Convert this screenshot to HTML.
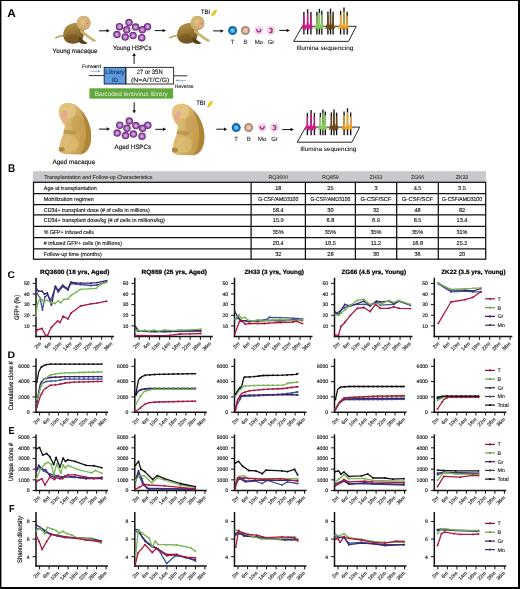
<!DOCTYPE html>
<html><head><meta charset="utf-8"><title>Figure</title><style>html,body{margin:0;padding:0;background:#fff;}svg{display:block;text-rendering:geometricPrecision;}</style></head><body>
<svg width="520" height="589" viewBox="0 0 520 589" font-family="'Liberation Sans', Arial, sans-serif">
<defs>
<linearGradient id="gBodyY" x1="0" y1="0" x2="0.3" y2="1">
<stop offset="0" stop-color="#bb9c56"/><stop offset="0.5" stop-color="#987834"/><stop offset="1" stop-color="#765a24"/></linearGradient>
<radialGradient id="gHeadY" cx="0.45" cy="0.4" r="0.65">
<stop offset="0" stop-color="#e0c488"/><stop offset="1" stop-color="#c6a05a"/></radialGradient>
<linearGradient id="gBodyA" x1="0" y1="0" x2="1" y2="0.3">
<stop offset="0" stop-color="#e4c887"/><stop offset="0.5" stop-color="#d6b168"/><stop offset="1" stop-color="#bf9746"/></linearGradient>
<radialGradient id="gT" cx="0.5" cy="0.5" r="0.5"><stop offset="0" stop-color="#7fdcfa"/><stop offset="0.6" stop-color="#45b8ec"/><stop offset="1" stop-color="#2a90d0"/></radialGradient>
<radialGradient id="gB" cx="0.5" cy="0.5" r="0.5"><stop offset="0" stop-color="#f6cfb0"/><stop offset="0.7" stop-color="#eebc98"/><stop offset="1" stop-color="#d8a888"/></radialGradient>
</defs>
<rect x="0" y="0" width="520" height="589" fill="#fff"/>
<text x="7.20" y="16.90" font-size="11.2" font-weight="bold" fill="#000" textLength="8.60" lengthAdjust="spacingAndGlyphs">A</text>
<g transform="translate(0.00 0.00)">
<path d="M64.5,35.4 C61,35.6 58,36.6 55.9,37.8" fill="none" stroke="#c2a66a" stroke-width="1.8" stroke-linecap="round"/>
<path d="M63.4,37 C62.5,30 66,24.5 73,23.2 C77,22.5 80.5,23.5 82.5,26 C84.5,29 84.5,34 83,38 C81.5,41.5 78,43.6 73,43.7 C68,43.7 64.4,41 63.4,37 Z" fill="url(#gBodyY)"/>
<ellipse cx="71.5" cy="38.5" rx="7" ry="4.3" fill="#6e5020" opacity="0.45"/>
<path d="M79.3,36.5 C82,39 84.5,41.5 87.5,43 C86.5,44.3 82.5,44.2 80,43 C78.3,41.6 78.2,38.8 79.3,36.5 Z" fill="#5a4018"/>
<path d="M81.5,31.2 C85,34.2 89,37.6 94.4,40.6" fill="none" stroke="#cab474" stroke-width="2.8" stroke-linecap="round"/>
<ellipse cx="83.6" cy="23.1" rx="7.1" ry="7.4" fill="url(#gHeadY)"/>
<ellipse cx="87.0" cy="25.4" rx="2.6" ry="3.5" fill="#dea88e" opacity="0.85"/>
<circle cx="87.6" cy="23.8" r="0.45" fill="#6a4426"/>
</g>
<g transform="translate(113.90 0.00)">
<path d="M64.5,35.4 C61,35.6 58,36.6 55.9,37.8" fill="none" stroke="#c2a66a" stroke-width="1.8" stroke-linecap="round"/>
<path d="M63.4,37 C62.5,30 66,24.5 73,23.2 C77,22.5 80.5,23.5 82.5,26 C84.5,29 84.5,34 83,38 C81.5,41.5 78,43.6 73,43.7 C68,43.7 64.4,41 63.4,37 Z" fill="url(#gBodyY)"/>
<ellipse cx="71.5" cy="38.5" rx="7" ry="4.3" fill="#6e5020" opacity="0.45"/>
<path d="M79.3,36.5 C82,39 84.5,41.5 87.5,43 C86.5,44.3 82.5,44.2 80,43 C78.3,41.6 78.2,38.8 79.3,36.5 Z" fill="#5a4018"/>
<path d="M81.5,31.2 C85,34.2 89,37.6 94.4,40.6" fill="none" stroke="#cab474" stroke-width="2.8" stroke-linecap="round"/>
<ellipse cx="83.6" cy="23.1" rx="7.1" ry="7.4" fill="url(#gHeadY)"/>
<ellipse cx="87.0" cy="25.4" rx="2.6" ry="3.5" fill="#dea88e" opacity="0.85"/>
<circle cx="87.6" cy="23.8" r="0.45" fill="#6a4426"/>
</g>
<g transform="translate(0.00 0.00)">
<path d="M66.4,103.1 C72,102.6 77,105 79.5,108.8 C84.5,113 88.5,120 90.3,128 C91.8,135 91.5,143 88.5,148.5 C86.5,152 84,154 80,154.4 L66,154.2 C62.5,154 59.8,152.5 59,150.5 C58.5,148.5 59,146.5 60,145 C60,141 61.5,137 63.5,134 C63.5,131 64.5,128 65,125.5 C63,123.5 61.5,121.5 60.6,119 C59,116 58.5,113 58.8,110 C59.4,106 62.3,103.5 66.4,103.1 Z" fill="url(#gBodyA)"/>
<path d="M79.5,108.8 C84.5,113 88.5,120 90.3,128 C91.8,135 91.5,143 88.5,148.5 C86.5,152 84,154 80,154.4 C84.5,149 86.5,141 86,133 C85.5,124 83,115 79.5,108.8 Z" fill="#a98237" opacity="0.8"/>
<ellipse cx="77.5" cy="124" rx="6" ry="9" fill="#c29c50" opacity="0.55"/>
<ellipse cx="71" cy="144" rx="8" ry="8" fill="#e2c47e" opacity="0.5"/>
<path d="M63.5,130.5 C67,129 72,129.5 76,132 C76.5,134 75,135 72.5,134.6 C69,134 66,133.5 63.5,134 Z" fill="#a8843a" opacity="0.55"/>
<ellipse cx="61.6" cy="149.3" rx="2.9" ry="2.4" fill="#a27a36" opacity="0.8"/>
<ellipse cx="67.8" cy="110.6" rx="8.4" ry="7.6" fill="#e3c682" opacity="0.85"/>
<ellipse cx="64.2" cy="115.4" rx="3.1" ry="5.2" transform="rotate(12 64.2 115.4)" fill="#e7a795" opacity="0.9"/>
</g>
<g transform="translate(113.20 0.80)">
<path d="M66.4,103.1 C72,102.6 77,105 79.5,108.8 C84.5,113 88.5,120 90.3,128 C91.8,135 91.5,143 88.5,148.5 C86.5,152 84,154 80,154.4 L66,154.2 C62.5,154 59.8,152.5 59,150.5 C58.5,148.5 59,146.5 60,145 C60,141 61.5,137 63.5,134 C63.5,131 64.5,128 65,125.5 C63,123.5 61.5,121.5 60.6,119 C59,116 58.5,113 58.8,110 C59.4,106 62.3,103.5 66.4,103.1 Z" fill="url(#gBodyA)"/>
<path d="M79.5,108.8 C84.5,113 88.5,120 90.3,128 C91.8,135 91.5,143 88.5,148.5 C86.5,152 84,154 80,154.4 C84.5,149 86.5,141 86,133 C85.5,124 83,115 79.5,108.8 Z" fill="#a98237" opacity="0.8"/>
<ellipse cx="77.5" cy="124" rx="6" ry="9" fill="#c29c50" opacity="0.55"/>
<ellipse cx="71" cy="144" rx="8" ry="8" fill="#e2c47e" opacity="0.5"/>
<path d="M63.5,130.5 C67,129 72,129.5 76,132 C76.5,134 75,135 72.5,134.6 C69,134 66,133.5 63.5,134 Z" fill="#a8843a" opacity="0.55"/>
<ellipse cx="61.6" cy="149.3" rx="2.9" ry="2.4" fill="#a27a36" opacity="0.8"/>
<ellipse cx="67.8" cy="110.6" rx="8.4" ry="7.6" fill="#e3c682" opacity="0.85"/>
<ellipse cx="64.2" cy="115.4" rx="3.1" ry="5.2" transform="rotate(12 64.2 115.4)" fill="#e7a795" opacity="0.9"/>
</g>
<text x="52.60" y="53.30" font-size="6.3" fill="#1a1a1a" textLength="45.00" lengthAdjust="spacingAndGlyphs" stroke="#1a1a1a" stroke-width="0.18">Young macaque</text>
<text x="113.10" y="49.90" font-size="6.3" fill="#1a1a1a" textLength="38.40" lengthAdjust="spacingAndGlyphs" stroke="#1a1a1a" stroke-width="0.18">Young HSPCs</text>
<text x="114.60" y="148.60" font-size="6.3" fill="#1a1a1a" textLength="36.40" lengthAdjust="spacingAndGlyphs" stroke="#1a1a1a" stroke-width="0.18">Aged HSPCs</text>
<text x="52.40" y="163.60" font-size="6.3" fill="#1a1a1a" textLength="42.80" lengthAdjust="spacingAndGlyphs" stroke="#1a1a1a" stroke-width="0.18">Aged macaque</text>
<circle cx="129.00" cy="22.50" r="3.75" fill="#6e3084"/>
<circle cx="129.00" cy="22.50" r="2.6" fill="#a565b4"/>
<circle cx="129.00" cy="22.50" r="1.6" fill="#cfa2d8"/>
<circle cx="119.50" cy="26.70" r="3.75" fill="#6e3084"/>
<circle cx="119.50" cy="26.70" r="2.6" fill="#a565b4"/>
<circle cx="119.50" cy="26.70" r="1.6" fill="#cfa2d8"/>
<circle cx="135.60" cy="27.10" r="3.75" fill="#6e3084"/>
<circle cx="135.60" cy="27.10" r="2.6" fill="#a565b4"/>
<circle cx="135.60" cy="27.10" r="1.6" fill="#cfa2d8"/>
<circle cx="147.50" cy="26.70" r="3.75" fill="#6e3084"/>
<circle cx="147.50" cy="26.70" r="2.6" fill="#a565b4"/>
<circle cx="147.50" cy="26.70" r="1.6" fill="#cfa2d8"/>
<circle cx="126.70" cy="29.80" r="3.75" fill="#6e3084"/>
<circle cx="126.70" cy="29.80" r="2.6" fill="#a565b4"/>
<circle cx="126.70" cy="29.80" r="1.6" fill="#cfa2d8"/>
<circle cx="142.30" cy="29.80" r="3.75" fill="#6e3084"/>
<circle cx="142.30" cy="29.80" r="2.6" fill="#a565b4"/>
<circle cx="142.30" cy="29.80" r="1.6" fill="#cfa2d8"/>
<circle cx="116.90" cy="34.50" r="3.75" fill="#6e3084"/>
<circle cx="116.90" cy="34.50" r="2.6" fill="#a565b4"/>
<circle cx="116.90" cy="34.50" r="1.6" fill="#cfa2d8"/>
<circle cx="125.20" cy="37.10" r="3.75" fill="#6e3084"/>
<circle cx="125.20" cy="37.10" r="2.6" fill="#a565b4"/>
<circle cx="125.20" cy="37.10" r="1.6" fill="#cfa2d8"/>
<circle cx="133.10" cy="35.60" r="3.75" fill="#6e3084"/>
<circle cx="133.10" cy="35.60" r="2.6" fill="#a565b4"/>
<circle cx="133.10" cy="35.60" r="1.6" fill="#cfa2d8"/>
<circle cx="141.70" cy="37.70" r="3.75" fill="#6e3084"/>
<circle cx="141.70" cy="37.70" r="2.6" fill="#a565b4"/>
<circle cx="141.70" cy="37.70" r="1.6" fill="#cfa2d8"/>
<circle cx="129.30" cy="121.00" r="3.75" fill="#6e3084"/>
<circle cx="129.30" cy="121.00" r="2.6" fill="#a565b4"/>
<circle cx="129.30" cy="121.00" r="1.6" fill="#cfa2d8"/>
<circle cx="119.80" cy="125.20" r="3.75" fill="#6e3084"/>
<circle cx="119.80" cy="125.20" r="2.6" fill="#a565b4"/>
<circle cx="119.80" cy="125.20" r="1.6" fill="#cfa2d8"/>
<circle cx="135.90" cy="125.60" r="3.75" fill="#6e3084"/>
<circle cx="135.90" cy="125.60" r="2.6" fill="#a565b4"/>
<circle cx="135.90" cy="125.60" r="1.6" fill="#cfa2d8"/>
<circle cx="147.80" cy="125.20" r="3.75" fill="#6e3084"/>
<circle cx="147.80" cy="125.20" r="2.6" fill="#a565b4"/>
<circle cx="147.80" cy="125.20" r="1.6" fill="#cfa2d8"/>
<circle cx="127.00" cy="128.30" r="3.75" fill="#6e3084"/>
<circle cx="127.00" cy="128.30" r="2.6" fill="#a565b4"/>
<circle cx="127.00" cy="128.30" r="1.6" fill="#cfa2d8"/>
<circle cx="142.60" cy="128.30" r="3.75" fill="#6e3084"/>
<circle cx="142.60" cy="128.30" r="2.6" fill="#a565b4"/>
<circle cx="142.60" cy="128.30" r="1.6" fill="#cfa2d8"/>
<circle cx="117.20" cy="133.00" r="3.75" fill="#6e3084"/>
<circle cx="117.20" cy="133.00" r="2.6" fill="#a565b4"/>
<circle cx="117.20" cy="133.00" r="1.6" fill="#cfa2d8"/>
<circle cx="125.50" cy="135.60" r="3.75" fill="#6e3084"/>
<circle cx="125.50" cy="135.60" r="2.6" fill="#a565b4"/>
<circle cx="125.50" cy="135.60" r="1.6" fill="#cfa2d8"/>
<circle cx="133.40" cy="134.10" r="3.75" fill="#6e3084"/>
<circle cx="133.40" cy="134.10" r="2.6" fill="#a565b4"/>
<circle cx="133.40" cy="134.10" r="1.6" fill="#cfa2d8"/>
<circle cx="142.00" cy="136.20" r="3.75" fill="#6e3084"/>
<circle cx="142.00" cy="136.20" r="2.6" fill="#a565b4"/>
<circle cx="142.00" cy="136.20" r="1.6" fill="#cfa2d8"/>
<line x1="99.00" y1="30.80" x2="107.24" y2="30.80" stroke="#111" stroke-width="1.0"/>
<path d="M109.80,30.80 L106.60,29.04 L106.60,32.56 Z" fill="#111"/>
<line x1="154.70" y1="30.60" x2="163.34" y2="30.60" stroke="#111" stroke-width="1.0"/>
<path d="M165.90,30.60 L162.70,28.84 L162.70,32.36 Z" fill="#111"/>
<line x1="213.10" y1="30.90" x2="221.24" y2="30.90" stroke="#111" stroke-width="1.0"/>
<path d="M223.80,30.90 L220.60,29.14 L220.60,32.66 Z" fill="#111"/>
<line x1="279.20" y1="30.40" x2="287.24" y2="30.40" stroke="#111" stroke-width="1.0"/>
<path d="M289.80,30.40 L286.60,28.64 L286.60,32.16 Z" fill="#111"/>
<line x1="99.00" y1="129.10" x2="107.44" y2="129.10" stroke="#111" stroke-width="1.0"/>
<path d="M110.00,129.10 L106.80,127.34 L106.80,130.86 Z" fill="#111"/>
<line x1="155.40" y1="129.30" x2="163.64" y2="129.30" stroke="#111" stroke-width="1.0"/>
<path d="M166.20,129.30 L163.00,127.54 L163.00,131.06 Z" fill="#111"/>
<line x1="216.40" y1="129.20" x2="224.64" y2="129.20" stroke="#111" stroke-width="1.0"/>
<path d="M227.20,129.20 L224.00,127.44 L224.00,130.96 Z" fill="#111"/>
<line x1="282.20" y1="129.60" x2="291.24" y2="129.60" stroke="#111" stroke-width="1.0"/>
<path d="M293.80,129.60 L290.60,127.84 L290.60,131.36 Z" fill="#111"/>
<line x1="134.10" y1="63.80" x2="134.10" y2="55.36" stroke="#111" stroke-width="1.0"/>
<path d="M134.10,52.80 L132.34,56.00 L135.86,56.00 Z" fill="#111"/>
<line x1="134.20" y1="102.20" x2="134.20" y2="110.84" stroke="#111" stroke-width="1.0"/>
<path d="M134.20,113.40 L132.44,110.20 L135.96,110.20 Z" fill="#111"/>
<text x="201.10" y="13.80" font-size="6.6" font-weight="bold" fill="#333" textLength="8.90" lengthAdjust="spacingAndGlyphs">TBI</text>
<g transform="translate(214.20 12.80) rotate(-52)">
<path d="M-4.2,0 C-2.5,-2.3 2.2,-2.4 4.2,0 C2.2,2.2 -2.5,2.3 -4.2,0 Z" fill="#e9cf2e"/>
<path d="M-4.6,0.2 L3.6,-0.3" stroke="#c8b020" stroke-width="0.5"/>
</g>
<text x="196.40" y="105.20" font-size="6.6" font-weight="bold" fill="#333" textLength="8.80" lengthAdjust="spacingAndGlyphs">TBI</text>
<g transform="translate(210.20 104.00) rotate(-52)">
<path d="M-4.2,0 C-2.5,-2.3 2.2,-2.4 4.2,0 C2.2,2.2 -2.5,2.3 -4.2,0 Z" fill="#e9cf2e"/>
<path d="M-4.6,0.2 L3.6,-0.3" stroke="#c8b020" stroke-width="0.5"/>
</g>
<circle cx="232.60" cy="30.50" r="4.5" fill="#1864a6"/>
<circle cx="232.60" cy="30.50" r="2.7" fill="url(#gT)"/>
<circle cx="245.40" cy="30.50" r="4.5" fill="#9a8a80"/>
<circle cx="245.40" cy="30.50" r="2.9" fill="url(#gB)"/>
<circle cx="258.80" cy="30.50" r="4.6" fill="#f4d4ea"/>
<path d="M256.80,28.90 C256.80,32.90 260.80,32.90 260.80,28.90" fill="none" stroke="#9a3a90" stroke-width="1.4"/>
<circle cx="271.00" cy="30.50" r="4.6" fill="#f4d4ea"/>
<path d="M269.40,28.70 C272.80,27.90 272.80,30.50 271.00,30.50 C273.20,31.00 272.20,33.10 269.20,32.30" fill="none" stroke="#9a3a70" stroke-width="1.3"/>
<circle cx="236.20" cy="127.60" r="4.5" fill="#1864a6"/>
<circle cx="236.20" cy="127.60" r="2.7" fill="url(#gT)"/>
<circle cx="248.70" cy="127.60" r="4.5" fill="#9a8a80"/>
<circle cx="248.70" cy="127.60" r="2.9" fill="url(#gB)"/>
<circle cx="262.20" cy="127.60" r="4.6" fill="#f4d4ea"/>
<path d="M260.20,126.00 C260.20,130.00 264.20,130.00 264.20,126.00" fill="none" stroke="#9a3a90" stroke-width="1.4"/>
<circle cx="274.50" cy="127.60" r="4.6" fill="#f4d4ea"/>
<path d="M272.90,125.80 C276.30,125.00 276.30,127.60 274.50,127.60 C276.70,128.10 275.70,130.20 272.70,129.40" fill="none" stroke="#9a3a70" stroke-width="1.3"/>
<text x="232.60" y="44.10" font-size="6.0" text-anchor="middle" fill="#333" stroke="#333" stroke-width="0.12">T</text>
<text x="245.40" y="44.10" font-size="6.0" text-anchor="middle" fill="#333" stroke="#333" stroke-width="0.12">B</text>
<text x="258.80" y="44.10" font-size="6.0" text-anchor="middle" fill="#333" stroke="#333" stroke-width="0.12">Mo</text>
<text x="271.00" y="44.10" font-size="6.0" text-anchor="middle" fill="#333" stroke="#333" stroke-width="0.12">Gr</text>
<text x="236.20" y="140.80" font-size="6.0" text-anchor="middle" fill="#333" stroke="#333" stroke-width="0.12">T</text>
<text x="248.70" y="140.80" font-size="6.0" text-anchor="middle" fill="#333" stroke="#333" stroke-width="0.12">B</text>
<text x="262.20" y="140.80" font-size="6.0" text-anchor="middle" fill="#333" stroke="#333" stroke-width="0.12">Mo</text>
<text x="274.50" y="140.80" font-size="6.0" text-anchor="middle" fill="#333" stroke="#333" stroke-width="0.12">Gr</text>
<g transform="translate(0.00 0.00)">
<path d="M302.2,26.3 L356.2,26.3 L348.5,41.4 L293.7,41.4 Z" fill="#fff" stroke="#111" stroke-width="0.9"/>
<line x1="303.90" y1="12.00" x2="303.90" y2="34.4" stroke="#111" stroke-width="1.35"/>
<line x1="303.90" y1="16.00" x2="303.90" y2="28.6" stroke="#d8168a" stroke-width="1.35"/>
<line x1="307.60" y1="9.20" x2="307.60" y2="34.4" stroke="#111" stroke-width="1.35"/>
<line x1="307.60" y1="13.20" x2="307.60" y2="28.6" stroke="#d8168a" stroke-width="1.35"/>
<line x1="310.90" y1="12.00" x2="310.90" y2="34.4" stroke="#111" stroke-width="1.35"/>
<line x1="310.90" y1="16.00" x2="310.90" y2="28.6" stroke="#d8168a" stroke-width="1.35"/>
<path d="M301.70,29 L303.90,23.5 L305.50,29.3 L307.60,22.8 L308.90,29.2 L310.50,23.4 L312.30,28.6" fill="none" stroke="#d8168a" stroke-width="1.25" stroke-linejoin="round"/>
<path d="M302.70,25 L311.90,27.5 M303.40,28 L311.50,24.5" fill="none" stroke="#d8168a" stroke-width="1.0"/>
<line x1="316.90" y1="12.00" x2="316.90" y2="34.4" stroke="#111" stroke-width="1.35"/>
<line x1="316.90" y1="16.00" x2="316.90" y2="28.6" stroke="#8ccc5c" stroke-width="1.35"/>
<line x1="319.40" y1="8.80" x2="319.40" y2="34.4" stroke="#111" stroke-width="1.35"/>
<line x1="319.40" y1="12.80" x2="319.40" y2="28.6" stroke="#8ccc5c" stroke-width="1.35"/>
<line x1="321.80" y1="10.80" x2="321.80" y2="34.4" stroke="#111" stroke-width="1.35"/>
<line x1="321.80" y1="14.80" x2="321.80" y2="28.6" stroke="#8ccc5c" stroke-width="1.35"/>
<path d="M314.70,29 L316.90,23.5 L318.50,29.3 L319.40,22.8 L320.70,29.2 L321.40,23.4 L323.20,28.6" fill="none" stroke="#8ccc5c" stroke-width="1.25" stroke-linejoin="round"/>
<path d="M315.70,25 L322.80,27.5 M316.40,28 L322.40,24.5" fill="none" stroke="#8ccc5c" stroke-width="1.0"/>
<line x1="327.90" y1="11.60" x2="327.90" y2="34.4" stroke="#111" stroke-width="1.35"/>
<line x1="327.90" y1="15.60" x2="327.90" y2="28.6" stroke="#6e4614" stroke-width="1.35"/>
<line x1="330.50" y1="8.60" x2="330.50" y2="34.4" stroke="#111" stroke-width="1.35"/>
<line x1="330.50" y1="12.60" x2="330.50" y2="28.6" stroke="#6e4614" stroke-width="1.35"/>
<line x1="333.10" y1="11.80" x2="333.10" y2="34.4" stroke="#111" stroke-width="1.35"/>
<line x1="333.10" y1="15.80" x2="333.10" y2="28.6" stroke="#6e4614" stroke-width="1.35"/>
<path d="M325.70,29 L327.90,23.5 L329.50,29.3 L330.50,22.8 L331.80,29.2 L332.70,23.4 L334.50,28.6" fill="none" stroke="#6e4614" stroke-width="1.25" stroke-linejoin="round"/>
<path d="M326.70,25 L334.10,27.5 M327.40,28 L333.70,24.5" fill="none" stroke="#6e4614" stroke-width="1.0"/>
<line x1="340.60" y1="10.80" x2="340.60" y2="34.4" stroke="#111" stroke-width="1.35"/>
<line x1="340.60" y1="14.80" x2="340.60" y2="28.6" stroke="#f0a426" stroke-width="1.35"/>
<line x1="344.00" y1="7.40" x2="344.00" y2="34.4" stroke="#111" stroke-width="1.35"/>
<line x1="344.00" y1="11.40" x2="344.00" y2="28.6" stroke="#f0a426" stroke-width="1.35"/>
<line x1="347.20" y1="11.80" x2="347.20" y2="34.4" stroke="#111" stroke-width="1.35"/>
<line x1="347.20" y1="15.80" x2="347.20" y2="28.6" stroke="#f0a426" stroke-width="1.35"/>
<path d="M338.40,29 L340.60,23.5 L342.20,29.3 L344.00,22.8 L345.30,29.2 L346.80,23.4 L348.60,28.6" fill="none" stroke="#f0a426" stroke-width="1.25" stroke-linejoin="round"/>
<path d="M339.40,25 L348.20,27.5 M340.10,28 L347.80,24.5" fill="none" stroke="#f0a426" stroke-width="1.0"/>
</g>
<g transform="translate(3.50 100.80)">
<path d="M302.2,26.3 L356.2,26.3 L348.5,41.4 L293.7,41.4 Z" fill="#fff" stroke="#111" stroke-width="0.9"/>
<line x1="303.90" y1="12.00" x2="303.90" y2="34.4" stroke="#111" stroke-width="1.35"/>
<line x1="303.90" y1="16.00" x2="303.90" y2="28.6" stroke="#d8168a" stroke-width="1.35"/>
<line x1="307.60" y1="9.20" x2="307.60" y2="34.4" stroke="#111" stroke-width="1.35"/>
<line x1="307.60" y1="13.20" x2="307.60" y2="28.6" stroke="#d8168a" stroke-width="1.35"/>
<line x1="310.90" y1="12.00" x2="310.90" y2="34.4" stroke="#111" stroke-width="1.35"/>
<line x1="310.90" y1="16.00" x2="310.90" y2="28.6" stroke="#d8168a" stroke-width="1.35"/>
<path d="M301.70,29 L303.90,23.5 L305.50,29.3 L307.60,22.8 L308.90,29.2 L310.50,23.4 L312.30,28.6" fill="none" stroke="#d8168a" stroke-width="1.25" stroke-linejoin="round"/>
<path d="M302.70,25 L311.90,27.5 M303.40,28 L311.50,24.5" fill="none" stroke="#d8168a" stroke-width="1.0"/>
<line x1="316.90" y1="12.00" x2="316.90" y2="34.4" stroke="#111" stroke-width="1.35"/>
<line x1="316.90" y1="16.00" x2="316.90" y2="28.6" stroke="#8ccc5c" stroke-width="1.35"/>
<line x1="319.40" y1="8.80" x2="319.40" y2="34.4" stroke="#111" stroke-width="1.35"/>
<line x1="319.40" y1="12.80" x2="319.40" y2="28.6" stroke="#8ccc5c" stroke-width="1.35"/>
<line x1="321.80" y1="10.80" x2="321.80" y2="34.4" stroke="#111" stroke-width="1.35"/>
<line x1="321.80" y1="14.80" x2="321.80" y2="28.6" stroke="#8ccc5c" stroke-width="1.35"/>
<path d="M314.70,29 L316.90,23.5 L318.50,29.3 L319.40,22.8 L320.70,29.2 L321.40,23.4 L323.20,28.6" fill="none" stroke="#8ccc5c" stroke-width="1.25" stroke-linejoin="round"/>
<path d="M315.70,25 L322.80,27.5 M316.40,28 L322.40,24.5" fill="none" stroke="#8ccc5c" stroke-width="1.0"/>
<line x1="327.90" y1="11.60" x2="327.90" y2="34.4" stroke="#111" stroke-width="1.35"/>
<line x1="327.90" y1="15.60" x2="327.90" y2="28.6" stroke="#6e4614" stroke-width="1.35"/>
<line x1="330.50" y1="8.60" x2="330.50" y2="34.4" stroke="#111" stroke-width="1.35"/>
<line x1="330.50" y1="12.60" x2="330.50" y2="28.6" stroke="#6e4614" stroke-width="1.35"/>
<line x1="333.10" y1="11.80" x2="333.10" y2="34.4" stroke="#111" stroke-width="1.35"/>
<line x1="333.10" y1="15.80" x2="333.10" y2="28.6" stroke="#6e4614" stroke-width="1.35"/>
<path d="M325.70,29 L327.90,23.5 L329.50,29.3 L330.50,22.8 L331.80,29.2 L332.70,23.4 L334.50,28.6" fill="none" stroke="#6e4614" stroke-width="1.25" stroke-linejoin="round"/>
<path d="M326.70,25 L334.10,27.5 M327.40,28 L333.70,24.5" fill="none" stroke="#6e4614" stroke-width="1.0"/>
<line x1="340.60" y1="10.80" x2="340.60" y2="34.4" stroke="#111" stroke-width="1.35"/>
<line x1="340.60" y1="14.80" x2="340.60" y2="28.6" stroke="#f0a426" stroke-width="1.35"/>
<line x1="344.00" y1="7.40" x2="344.00" y2="34.4" stroke="#111" stroke-width="1.35"/>
<line x1="344.00" y1="11.40" x2="344.00" y2="28.6" stroke="#f0a426" stroke-width="1.35"/>
<line x1="347.20" y1="11.80" x2="347.20" y2="34.4" stroke="#111" stroke-width="1.35"/>
<line x1="347.20" y1="15.80" x2="347.20" y2="28.6" stroke="#f0a426" stroke-width="1.35"/>
<path d="M338.40,29 L340.60,23.5 L342.20,29.3 L344.00,22.8 L345.30,29.2 L346.80,23.4 L348.60,28.6" fill="none" stroke="#f0a426" stroke-width="1.25" stroke-linejoin="round"/>
<path d="M339.40,25 L348.20,27.5 M340.10,28 L347.80,24.5" fill="none" stroke="#f0a426" stroke-width="1.0"/>
</g>
<text x="296.50" y="50.40" font-size="6.2" textLength="56.80" lengthAdjust="spacingAndGlyphs" stroke="#222" stroke-width="0.05">Illumina sequencing</text>
<text x="300.20" y="151.20" font-size="6.2" textLength="56.10" lengthAdjust="spacingAndGlyphs" stroke="#222" stroke-width="0.05">Illumina sequencing</text>
<text x="81.90" y="67.90" font-size="5.2" fill="#111" textLength="19.10" lengthAdjust="spacingAndGlyphs" stroke="#111" stroke-width="0.1">Forward</text>
<line x1="90.60" y1="71.20" x2="98.84" y2="71.20" stroke="#5b8fd0" stroke-width="0.7"/>
<path d="M100.60,71.20 L98.40,69.99 L98.40,72.41 Z" fill="#5b8fd0"/>
<line x1="88.80" y1="75.60" x2="104.20" y2="75.60" stroke="#333" stroke-width="1.0"/>
<rect x="104.2" y="67.4" width="21.6" height="16.6" fill="#5d9ce0" stroke="#1d2d44" stroke-width="1"/>
<rect x="125.8" y="67.4" width="47.8" height="16.6" fill="#fff" stroke="#333" stroke-width="1"/>
<line x1="125.80" y1="67.40" x2="125.80" y2="84.00" stroke="#1d2d44" stroke-width="1.0"/>
<text x="115.00" y="74.20" font-size="6.0" text-anchor="middle" fill="#15305a" textLength="19.40" lengthAdjust="spacingAndGlyphs" stroke="#15305a" stroke-width="0.1">Library</text>
<text x="115.00" y="81.60" font-size="6.0" text-anchor="middle" fill="#15305a" stroke="#15305a" stroke-width="0.1">ID</text>
<text x="149.70" y="74.20" font-size="6.3" text-anchor="middle" fill="#111" textLength="26.00" lengthAdjust="spacingAndGlyphs" stroke="#111" stroke-width="0.1">27 or 35N</text>
<text x="150.10" y="81.80" font-size="6.2" text-anchor="middle" fill="#111" textLength="38.40" lengthAdjust="spacingAndGlyphs" stroke="#111" stroke-width="0.1">(N=A/T/C/G)</text>
<line x1="173.60" y1="75.80" x2="187.30" y2="75.80" stroke="#333" stroke-width="1.0"/>
<line x1="177.36" y1="80.40" x2="185.80" y2="80.40" stroke="#5b8fd0" stroke-width="0.7"/>
<path d="M175.60,80.40 L177.80,79.19 L177.80,81.61 Z" fill="#5b8fd0"/>
<text x="175.00" y="87.60" font-size="5.2" fill="#111" textLength="18.50" lengthAdjust="spacingAndGlyphs" stroke="#111" stroke-width="0.1">Reverse</text>
<rect x="89.4" y="88.3" width="83.7" height="10.3" fill="#62a83c"/>
<text x="131.20" y="95.80" font-size="6.4" text-anchor="middle" fill="#dff0d2" textLength="73.00" lengthAdjust="spacingAndGlyphs">Barcoded lentivirus library</text>
<text x="8.00" y="171.60" font-size="11.2" font-weight="bold" fill="#000" textLength="7.20" lengthAdjust="spacingAndGlyphs">B</text>
<rect x="33.0" y="171.2" width="453.0" height="11.1" fill="#c9c9cd"/>
<text x="44.20" y="178.80" font-size="5.5" fill="#262626" textLength="108.30" lengthAdjust="spacingAndGlyphs" stroke="#262626" stroke-width="0.08">Transplantation and Follow-up Characteristics</text>
<text x="278.25" y="178.80" font-size="5.3" text-anchor="middle" fill="#333" stroke="#333" stroke-width="0.08">RQ3600</text>
<text x="330.40" y="178.80" font-size="5.3" text-anchor="middle" fill="#333" stroke="#333" stroke-width="0.08">RQ859</text>
<text x="376.00" y="178.80" font-size="5.3" text-anchor="middle" fill="#333" stroke="#333" stroke-width="0.08">ZH33</text>
<text x="417.60" y="178.80" font-size="5.3" text-anchor="middle" fill="#333" stroke="#333" stroke-width="0.08">ZG66</text>
<text x="462.00" y="178.80" font-size="5.3" text-anchor="middle" fill="#333" stroke="#333" stroke-width="0.08">ZK22</text>
<rect x="33.5" y="182.3" width="452.2" height="76.9" fill="none" stroke="#111" stroke-width="1.25"/>
<line x1="33.50" y1="193.60" x2="485.70" y2="193.60" stroke="#111" stroke-width="1.25"/>
<line x1="33.50" y1="204.50" x2="485.70" y2="204.50" stroke="#111" stroke-width="1.25"/>
<line x1="33.50" y1="214.90" x2="485.70" y2="214.90" stroke="#111" stroke-width="1.25"/>
<line x1="33.50" y1="226.30" x2="485.70" y2="226.30" stroke="#111" stroke-width="1.25"/>
<line x1="33.50" y1="237.60" x2="485.70" y2="237.60" stroke="#111" stroke-width="1.25"/>
<line x1="33.50" y1="248.80" x2="485.70" y2="248.80" stroke="#111" stroke-width="1.25"/>
<line x1="251.10" y1="182.30" x2="251.10" y2="259.20" stroke="#111" stroke-width="1.25"/>
<line x1="305.40" y1="182.30" x2="305.40" y2="259.20" stroke="#111" stroke-width="1.25"/>
<line x1="355.40" y1="182.30" x2="355.40" y2="259.20" stroke="#111" stroke-width="1.25"/>
<line x1="396.70" y1="182.30" x2="396.70" y2="259.20" stroke="#111" stroke-width="1.25"/>
<line x1="438.30" y1="182.30" x2="438.30" y2="259.20" stroke="#111" stroke-width="1.25"/>
<text x="43.80" y="189.70" font-size="5.6" fill="#111" textLength="53.00" lengthAdjust="spacingAndGlyphs" stroke="#111" stroke-width="0.12">Age at transplantation</text>
<text x="278.25" y="189.70" font-size="5.6" text-anchor="middle" fill="#111" stroke="#111" stroke-width="0.12">18</text>
<text x="330.40" y="189.70" font-size="5.6" text-anchor="middle" fill="#111" stroke="#111" stroke-width="0.12">25</text>
<text x="376.00" y="189.70" font-size="5.6" text-anchor="middle" fill="#111" stroke="#111" stroke-width="0.12">3</text>
<text x="417.60" y="189.70" font-size="5.6" text-anchor="middle" fill="#111" stroke="#111" stroke-width="0.12">4.5</text>
<text x="462.00" y="189.70" font-size="5.6" text-anchor="middle" fill="#111" stroke="#111" stroke-width="0.12">3.5</text>
<text x="43.80" y="201.00" font-size="5.6" fill="#111" textLength="50.00" lengthAdjust="spacingAndGlyphs" stroke="#111" stroke-width="0.12">Mobilization regimen</text>
<text x="278.25" y="201.00" font-size="5.6" text-anchor="middle" fill="#111" textLength="40.00" lengthAdjust="spacingAndGlyphs" stroke="#111" stroke-width="0.12">G-CSF/AMD3100</text>
<text x="330.40" y="201.00" font-size="5.6" text-anchor="middle" fill="#111" textLength="40.00" lengthAdjust="spacingAndGlyphs" stroke="#111" stroke-width="0.12">G-CSF/AMD3100</text>
<text x="376.00" y="201.00" font-size="5.6" text-anchor="middle" fill="#111" textLength="31.00" lengthAdjust="spacingAndGlyphs" stroke="#111" stroke-width="0.12">G-CSF/SCF</text>
<text x="417.60" y="201.00" font-size="5.6" text-anchor="middle" fill="#111" textLength="31.00" lengthAdjust="spacingAndGlyphs" stroke="#111" stroke-width="0.12">G-CSF/SCF</text>
<text x="462.00" y="201.00" font-size="5.6" text-anchor="middle" fill="#111" textLength="40.00" lengthAdjust="spacingAndGlyphs" stroke="#111" stroke-width="0.12">G-CSF/AMD3100</text>
<text x="43.80" y="211.90" font-size="5.6" fill="#111" textLength="106.00" lengthAdjust="spacingAndGlyphs" stroke="#111" stroke-width="0.12">CD34+ transplant dose (# of cells in millions)</text>
<text x="278.25" y="211.90" font-size="5.6" text-anchor="middle" fill="#111" stroke="#111" stroke-width="0.12">58.4</text>
<text x="330.40" y="211.90" font-size="5.6" text-anchor="middle" fill="#111" stroke="#111" stroke-width="0.12">30</text>
<text x="376.00" y="211.90" font-size="5.6" text-anchor="middle" fill="#111" stroke="#111" stroke-width="0.12">32</text>
<text x="417.60" y="211.90" font-size="5.6" text-anchor="middle" fill="#111" stroke="#111" stroke-width="0.12">48</text>
<text x="462.00" y="211.90" font-size="5.6" text-anchor="middle" fill="#111" stroke="#111" stroke-width="0.12">82</text>
<text x="43.80" y="222.30" font-size="5.6" fill="#111" textLength="121.00" lengthAdjust="spacingAndGlyphs" stroke="#111" stroke-width="0.12">CD34+ transplant dose/kg (# of cells in millions/kg)</text>
<text x="278.25" y="222.30" font-size="5.6" text-anchor="middle" fill="#111" stroke="#111" stroke-width="0.12">15.9</text>
<text x="330.40" y="222.30" font-size="5.6" text-anchor="middle" fill="#111" stroke="#111" stroke-width="0.12">6.8</text>
<text x="376.00" y="222.30" font-size="5.6" text-anchor="middle" fill="#111" stroke="#111" stroke-width="0.12">6.9</text>
<text x="417.60" y="222.30" font-size="5.6" text-anchor="middle" fill="#111" stroke="#111" stroke-width="0.12">8.5</text>
<text x="462.00" y="222.30" font-size="5.6" text-anchor="middle" fill="#111" stroke="#111" stroke-width="0.12">13.4</text>
<text x="43.80" y="233.70" font-size="5.6" fill="#111" textLength="50.00" lengthAdjust="spacingAndGlyphs" stroke="#111" stroke-width="0.12">% GFP+ infused cells</text>
<text x="278.25" y="233.70" font-size="5.6" text-anchor="middle" fill="#111" stroke="#111" stroke-width="0.12">35%</text>
<text x="330.40" y="233.70" font-size="5.6" text-anchor="middle" fill="#111" stroke="#111" stroke-width="0.12">35%</text>
<text x="376.00" y="233.70" font-size="5.6" text-anchor="middle" fill="#111" stroke="#111" stroke-width="0.12">35%</text>
<text x="417.60" y="233.70" font-size="5.6" text-anchor="middle" fill="#111" stroke="#111" stroke-width="0.12">35%</text>
<text x="462.00" y="233.70" font-size="5.6" text-anchor="middle" fill="#111" stroke="#111" stroke-width="0.12">31%</text>
<text x="43.80" y="245.00" font-size="5.6" fill="#111" textLength="78.20" lengthAdjust="spacingAndGlyphs" stroke="#111" stroke-width="0.12"># infused GFP+  cells (in millions)</text>
<text x="278.25" y="245.00" font-size="5.6" text-anchor="middle" fill="#111" stroke="#111" stroke-width="0.12">20.4</text>
<text x="330.40" y="245.00" font-size="5.6" text-anchor="middle" fill="#111" stroke="#111" stroke-width="0.12">10.5</text>
<text x="376.00" y="245.00" font-size="5.6" text-anchor="middle" fill="#111" stroke="#111" stroke-width="0.12">11.2</text>
<text x="417.60" y="245.00" font-size="5.6" text-anchor="middle" fill="#111" stroke="#111" stroke-width="0.12">16.8</text>
<text x="462.00" y="245.00" font-size="5.6" text-anchor="middle" fill="#111" stroke="#111" stroke-width="0.12">25.2</text>
<text x="43.80" y="256.20" font-size="5.6" fill="#111" textLength="58.00" lengthAdjust="spacingAndGlyphs" stroke="#111" stroke-width="0.12">Follow-up time (months)</text>
<text x="278.25" y="256.20" font-size="5.6" text-anchor="middle" fill="#111" stroke="#111" stroke-width="0.12">32</text>
<text x="330.40" y="256.20" font-size="5.6" text-anchor="middle" fill="#111" stroke="#111" stroke-width="0.12">28</text>
<text x="376.00" y="256.20" font-size="5.6" text-anchor="middle" fill="#111" stroke="#111" stroke-width="0.12">30</text>
<text x="417.60" y="256.20" font-size="5.6" text-anchor="middle" fill="#111" stroke="#111" stroke-width="0.12">36</text>
<text x="462.00" y="256.20" font-size="5.6" text-anchor="middle" fill="#111" stroke="#111" stroke-width="0.12">20</text>
<text x="7.60" y="277.80" font-size="9.8" font-weight="bold" fill="#000" textLength="7.40" lengthAdjust="spacingAndGlyphs">C</text>
<text x="7.40" y="357.70" font-size="9.4" font-weight="bold" fill="#000" textLength="7.60" lengthAdjust="spacingAndGlyphs">D</text>
<text x="8.60" y="433.60" font-size="10.2" font-weight="bold" fill="#000" textLength="5.90" lengthAdjust="spacingAndGlyphs">E</text>
<text x="8.90" y="512.00" font-size="10.2" font-weight="bold" fill="#000" textLength="5.50" lengthAdjust="spacingAndGlyphs">F</text>
<text x="40.00" y="273.50" font-size="6.2" font-weight="bold" fill="#000" textLength="69.50" lengthAdjust="spacingAndGlyphs" stroke="#000" stroke-width="0.22">RQ3600 (18 yrs, Aged)</text>
<text x="141.50" y="273.50" font-size="6.2" font-weight="bold" fill="#000" textLength="65.40" lengthAdjust="spacingAndGlyphs" stroke="#000" stroke-width="0.22">RQ859 (25 yrs, Aged)</text>
<text x="244.40" y="273.50" font-size="6.2" font-weight="bold" fill="#000" textLength="59.60" lengthAdjust="spacingAndGlyphs" stroke="#000" stroke-width="0.22">ZH33 (3 yrs, Young)</text>
<text x="341.50" y="273.50" font-size="6.2" font-weight="bold" fill="#000" textLength="64.50" lengthAdjust="spacingAndGlyphs" stroke="#000" stroke-width="0.22">ZG66 (4.5 yrs, Young)</text>
<text x="441.20" y="273.50" font-size="6.2" font-weight="bold" fill="#000" textLength="64.40" lengthAdjust="spacingAndGlyphs" stroke="#000" stroke-width="0.22">ZK22 (3.5 yrs, Young)</text>
<text x="0" y="0" font-size="6.5" text-anchor="middle" fill="#222" textLength="25.0" lengthAdjust="spacingAndGlyphs" stroke="#222" stroke-width="0.2" transform="translate(19.00 307.40) rotate(-90)">GFP+ (%)</text>
<text x="0" y="0" font-size="6.5" text-anchor="middle" fill="#222" textLength="49.0" lengthAdjust="spacingAndGlyphs" stroke="#222" stroke-width="0.2" transform="translate(12.90 385.80) rotate(-90)">Cumulative clone #</text>
<text x="0" y="0" font-size="6.5" text-anchor="middle" fill="#222" textLength="38.7" lengthAdjust="spacingAndGlyphs" stroke="#222" stroke-width="0.2" transform="translate(13.20 462.00) rotate(-90)">Unique clone #</text>
<text x="0" y="0" font-size="6.5" text-anchor="middle" fill="#222" textLength="47.0" lengthAdjust="spacingAndGlyphs" stroke="#222" stroke-width="0.2" transform="translate(21.80 539.50) rotate(-90)">Shannon diversity</text>
<line x1="36.00" y1="277.70" x2="36.00" y2="337.20" stroke="#111" stroke-width="1.5"/>
<line x1="35.30" y1="336.50" x2="114.00" y2="336.50" stroke="#111" stroke-width="1.5"/>
<line x1="40.40" y1="336.50" x2="40.40" y2="339.80" stroke="#111" stroke-width="1.0"/>
<text x="0" y="0" font-size="5.1" text-anchor="end" fill="#1a1a1a" stroke="#1a1a1a" stroke-width="0.12" transform="translate(41.40 344.00) rotate(-45)">2m</text>
<line x1="50.60" y1="336.50" x2="50.60" y2="339.80" stroke="#111" stroke-width="1.0"/>
<text x="0" y="0" font-size="5.1" text-anchor="end" fill="#1a1a1a" stroke="#1a1a1a" stroke-width="0.12" transform="translate(51.60 344.00) rotate(-45)">6m</text>
<line x1="60.80" y1="336.50" x2="60.80" y2="339.80" stroke="#111" stroke-width="1.0"/>
<text x="0" y="0" font-size="5.1" text-anchor="end" fill="#1a1a1a" stroke="#1a1a1a" stroke-width="0.12" transform="translate(61.80 344.00) rotate(-45)">10m</text>
<line x1="71.00" y1="336.50" x2="71.00" y2="339.80" stroke="#111" stroke-width="1.0"/>
<text x="0" y="0" font-size="5.1" text-anchor="end" fill="#1a1a1a" stroke="#1a1a1a" stroke-width="0.12" transform="translate(72.00 344.00) rotate(-45)">14m</text>
<line x1="81.20" y1="336.50" x2="81.20" y2="339.80" stroke="#111" stroke-width="1.0"/>
<text x="0" y="0" font-size="5.1" text-anchor="end" fill="#1a1a1a" stroke="#1a1a1a" stroke-width="0.12" transform="translate(82.20 344.00) rotate(-45)">18m</text>
<line x1="91.40" y1="336.50" x2="91.40" y2="339.80" stroke="#111" stroke-width="1.0"/>
<text x="0" y="0" font-size="5.1" text-anchor="end" fill="#1a1a1a" stroke="#1a1a1a" stroke-width="0.12" transform="translate(92.40 344.00) rotate(-45)">22m</text>
<line x1="101.60" y1="336.50" x2="101.60" y2="339.80" stroke="#111" stroke-width="1.0"/>
<text x="0" y="0" font-size="5.1" text-anchor="end" fill="#1a1a1a" stroke="#1a1a1a" stroke-width="0.12" transform="translate(102.60 344.00) rotate(-45)">28m</text>
<line x1="111.80" y1="336.50" x2="111.80" y2="339.80" stroke="#111" stroke-width="1.0"/>
<text x="0" y="0" font-size="5.1" text-anchor="end" fill="#1a1a1a" stroke="#1a1a1a" stroke-width="0.12" transform="translate(112.80 344.00) rotate(-45)">36m</text>
<line x1="32.60" y1="325.88" x2="36.00" y2="325.88" stroke="#111" stroke-width="1.0"/>
<text x="29.60" y="327.68" font-size="5.1" text-anchor="end" fill="#1a1a1a" stroke="#1a1a1a" stroke-width="0.14">10</text>
<line x1="32.60" y1="315.25" x2="36.00" y2="315.25" stroke="#111" stroke-width="1.0"/>
<text x="29.60" y="317.05" font-size="5.1" text-anchor="end" fill="#1a1a1a" stroke="#1a1a1a" stroke-width="0.14">20</text>
<line x1="32.60" y1="304.62" x2="36.00" y2="304.62" stroke="#111" stroke-width="1.0"/>
<text x="29.60" y="306.43" font-size="5.1" text-anchor="end" fill="#1a1a1a" stroke="#1a1a1a" stroke-width="0.14">30</text>
<line x1="32.60" y1="294.00" x2="36.00" y2="294.00" stroke="#111" stroke-width="1.0"/>
<text x="29.60" y="295.80" font-size="5.1" text-anchor="end" fill="#1a1a1a" stroke="#1a1a1a" stroke-width="0.14">40</text>
<line x1="32.60" y1="283.38" x2="36.00" y2="283.38" stroke="#111" stroke-width="1.0"/>
<text x="29.60" y="285.18" font-size="5.1" text-anchor="end" fill="#1a1a1a" stroke="#1a1a1a" stroke-width="0.14">50</text>
<line x1="134.80" y1="277.70" x2="134.80" y2="337.20" stroke="#111" stroke-width="1.5"/>
<line x1="134.10" y1="336.50" x2="212.80" y2="336.50" stroke="#111" stroke-width="1.5"/>
<line x1="139.20" y1="336.50" x2="139.20" y2="339.80" stroke="#111" stroke-width="1.0"/>
<text x="0" y="0" font-size="5.1" text-anchor="end" fill="#1a1a1a" stroke="#1a1a1a" stroke-width="0.12" transform="translate(140.20 344.00) rotate(-45)">2m</text>
<line x1="149.40" y1="336.50" x2="149.40" y2="339.80" stroke="#111" stroke-width="1.0"/>
<text x="0" y="0" font-size="5.1" text-anchor="end" fill="#1a1a1a" stroke="#1a1a1a" stroke-width="0.12" transform="translate(150.40 344.00) rotate(-45)">6m</text>
<line x1="159.60" y1="336.50" x2="159.60" y2="339.80" stroke="#111" stroke-width="1.0"/>
<text x="0" y="0" font-size="5.1" text-anchor="end" fill="#1a1a1a" stroke="#1a1a1a" stroke-width="0.12" transform="translate(160.60 344.00) rotate(-45)">10m</text>
<line x1="169.80" y1="336.50" x2="169.80" y2="339.80" stroke="#111" stroke-width="1.0"/>
<text x="0" y="0" font-size="5.1" text-anchor="end" fill="#1a1a1a" stroke="#1a1a1a" stroke-width="0.12" transform="translate(170.80 344.00) rotate(-45)">14m</text>
<line x1="180.00" y1="336.50" x2="180.00" y2="339.80" stroke="#111" stroke-width="1.0"/>
<text x="0" y="0" font-size="5.1" text-anchor="end" fill="#1a1a1a" stroke="#1a1a1a" stroke-width="0.12" transform="translate(181.00 344.00) rotate(-45)">18m</text>
<line x1="190.20" y1="336.50" x2="190.20" y2="339.80" stroke="#111" stroke-width="1.0"/>
<text x="0" y="0" font-size="5.1" text-anchor="end" fill="#1a1a1a" stroke="#1a1a1a" stroke-width="0.12" transform="translate(191.20 344.00) rotate(-45)">22m</text>
<line x1="200.40" y1="336.50" x2="200.40" y2="339.80" stroke="#111" stroke-width="1.0"/>
<text x="0" y="0" font-size="5.1" text-anchor="end" fill="#1a1a1a" stroke="#1a1a1a" stroke-width="0.12" transform="translate(201.40 344.00) rotate(-45)">28m</text>
<line x1="210.60" y1="336.50" x2="210.60" y2="339.80" stroke="#111" stroke-width="1.0"/>
<text x="0" y="0" font-size="5.1" text-anchor="end" fill="#1a1a1a" stroke="#1a1a1a" stroke-width="0.12" transform="translate(211.60 344.00) rotate(-45)">36m</text>
<line x1="131.40" y1="325.88" x2="134.80" y2="325.88" stroke="#111" stroke-width="1.0"/>
<text x="128.40" y="327.68" font-size="5.1" text-anchor="end" fill="#1a1a1a" stroke="#1a1a1a" stroke-width="0.14">10</text>
<line x1="131.40" y1="315.25" x2="134.80" y2="315.25" stroke="#111" stroke-width="1.0"/>
<text x="128.40" y="317.05" font-size="5.1" text-anchor="end" fill="#1a1a1a" stroke="#1a1a1a" stroke-width="0.14">20</text>
<line x1="131.40" y1="304.62" x2="134.80" y2="304.62" stroke="#111" stroke-width="1.0"/>
<text x="128.40" y="306.43" font-size="5.1" text-anchor="end" fill="#1a1a1a" stroke="#1a1a1a" stroke-width="0.14">30</text>
<line x1="131.40" y1="294.00" x2="134.80" y2="294.00" stroke="#111" stroke-width="1.0"/>
<text x="128.40" y="295.80" font-size="5.1" text-anchor="end" fill="#1a1a1a" stroke="#1a1a1a" stroke-width="0.14">40</text>
<line x1="131.40" y1="283.38" x2="134.80" y2="283.38" stroke="#111" stroke-width="1.0"/>
<text x="128.40" y="285.18" font-size="5.1" text-anchor="end" fill="#1a1a1a" stroke="#1a1a1a" stroke-width="0.14">50</text>
<line x1="234.50" y1="277.70" x2="234.50" y2="337.20" stroke="#111" stroke-width="1.5"/>
<line x1="233.80" y1="336.50" x2="312.50" y2="336.50" stroke="#111" stroke-width="1.5"/>
<line x1="238.90" y1="336.50" x2="238.90" y2="339.80" stroke="#111" stroke-width="1.0"/>
<text x="0" y="0" font-size="5.1" text-anchor="end" fill="#1a1a1a" stroke="#1a1a1a" stroke-width="0.12" transform="translate(239.90 344.00) rotate(-45)">2m</text>
<line x1="249.10" y1="336.50" x2="249.10" y2="339.80" stroke="#111" stroke-width="1.0"/>
<text x="0" y="0" font-size="5.1" text-anchor="end" fill="#1a1a1a" stroke="#1a1a1a" stroke-width="0.12" transform="translate(250.10 344.00) rotate(-45)">6m</text>
<line x1="259.30" y1="336.50" x2="259.30" y2="339.80" stroke="#111" stroke-width="1.0"/>
<text x="0" y="0" font-size="5.1" text-anchor="end" fill="#1a1a1a" stroke="#1a1a1a" stroke-width="0.12" transform="translate(260.30 344.00) rotate(-45)">10m</text>
<line x1="269.50" y1="336.50" x2="269.50" y2="339.80" stroke="#111" stroke-width="1.0"/>
<text x="0" y="0" font-size="5.1" text-anchor="end" fill="#1a1a1a" stroke="#1a1a1a" stroke-width="0.12" transform="translate(270.50 344.00) rotate(-45)">14m</text>
<line x1="279.70" y1="336.50" x2="279.70" y2="339.80" stroke="#111" stroke-width="1.0"/>
<text x="0" y="0" font-size="5.1" text-anchor="end" fill="#1a1a1a" stroke="#1a1a1a" stroke-width="0.12" transform="translate(280.70 344.00) rotate(-45)">18m</text>
<line x1="289.90" y1="336.50" x2="289.90" y2="339.80" stroke="#111" stroke-width="1.0"/>
<text x="0" y="0" font-size="5.1" text-anchor="end" fill="#1a1a1a" stroke="#1a1a1a" stroke-width="0.12" transform="translate(290.90 344.00) rotate(-45)">22m</text>
<line x1="300.10" y1="336.50" x2="300.10" y2="339.80" stroke="#111" stroke-width="1.0"/>
<text x="0" y="0" font-size="5.1" text-anchor="end" fill="#1a1a1a" stroke="#1a1a1a" stroke-width="0.12" transform="translate(301.10 344.00) rotate(-45)">28m</text>
<line x1="310.30" y1="336.50" x2="310.30" y2="339.80" stroke="#111" stroke-width="1.0"/>
<text x="0" y="0" font-size="5.1" text-anchor="end" fill="#1a1a1a" stroke="#1a1a1a" stroke-width="0.12" transform="translate(311.30 344.00) rotate(-45)">36m</text>
<line x1="231.10" y1="325.88" x2="234.50" y2="325.88" stroke="#111" stroke-width="1.0"/>
<text x="228.10" y="327.68" font-size="5.1" text-anchor="end" fill="#1a1a1a" stroke="#1a1a1a" stroke-width="0.14">10</text>
<line x1="231.10" y1="315.25" x2="234.50" y2="315.25" stroke="#111" stroke-width="1.0"/>
<text x="228.10" y="317.05" font-size="5.1" text-anchor="end" fill="#1a1a1a" stroke="#1a1a1a" stroke-width="0.14">20</text>
<line x1="231.10" y1="304.62" x2="234.50" y2="304.62" stroke="#111" stroke-width="1.0"/>
<text x="228.10" y="306.43" font-size="5.1" text-anchor="end" fill="#1a1a1a" stroke="#1a1a1a" stroke-width="0.14">30</text>
<line x1="231.10" y1="294.00" x2="234.50" y2="294.00" stroke="#111" stroke-width="1.0"/>
<text x="228.10" y="295.80" font-size="5.1" text-anchor="end" fill="#1a1a1a" stroke="#1a1a1a" stroke-width="0.14">40</text>
<line x1="231.10" y1="283.38" x2="234.50" y2="283.38" stroke="#111" stroke-width="1.0"/>
<text x="228.10" y="285.18" font-size="5.1" text-anchor="end" fill="#1a1a1a" stroke="#1a1a1a" stroke-width="0.14">50</text>
<line x1="334.50" y1="277.70" x2="334.50" y2="337.20" stroke="#111" stroke-width="1.5"/>
<line x1="333.80" y1="336.50" x2="412.50" y2="336.50" stroke="#111" stroke-width="1.5"/>
<line x1="338.90" y1="336.50" x2="338.90" y2="339.80" stroke="#111" stroke-width="1.0"/>
<text x="0" y="0" font-size="5.1" text-anchor="end" fill="#1a1a1a" stroke="#1a1a1a" stroke-width="0.12" transform="translate(339.90 344.00) rotate(-45)">2m</text>
<line x1="349.10" y1="336.50" x2="349.10" y2="339.80" stroke="#111" stroke-width="1.0"/>
<text x="0" y="0" font-size="5.1" text-anchor="end" fill="#1a1a1a" stroke="#1a1a1a" stroke-width="0.12" transform="translate(350.10 344.00) rotate(-45)">6m</text>
<line x1="359.30" y1="336.50" x2="359.30" y2="339.80" stroke="#111" stroke-width="1.0"/>
<text x="0" y="0" font-size="5.1" text-anchor="end" fill="#1a1a1a" stroke="#1a1a1a" stroke-width="0.12" transform="translate(360.30 344.00) rotate(-45)">10m</text>
<line x1="369.50" y1="336.50" x2="369.50" y2="339.80" stroke="#111" stroke-width="1.0"/>
<text x="0" y="0" font-size="5.1" text-anchor="end" fill="#1a1a1a" stroke="#1a1a1a" stroke-width="0.12" transform="translate(370.50 344.00) rotate(-45)">14m</text>
<line x1="379.70" y1="336.50" x2="379.70" y2="339.80" stroke="#111" stroke-width="1.0"/>
<text x="0" y="0" font-size="5.1" text-anchor="end" fill="#1a1a1a" stroke="#1a1a1a" stroke-width="0.12" transform="translate(380.70 344.00) rotate(-45)">18m</text>
<line x1="389.90" y1="336.50" x2="389.90" y2="339.80" stroke="#111" stroke-width="1.0"/>
<text x="0" y="0" font-size="5.1" text-anchor="end" fill="#1a1a1a" stroke="#1a1a1a" stroke-width="0.12" transform="translate(390.90 344.00) rotate(-45)">22m</text>
<line x1="400.10" y1="336.50" x2="400.10" y2="339.80" stroke="#111" stroke-width="1.0"/>
<text x="0" y="0" font-size="5.1" text-anchor="end" fill="#1a1a1a" stroke="#1a1a1a" stroke-width="0.12" transform="translate(401.10 344.00) rotate(-45)">28m</text>
<line x1="410.30" y1="336.50" x2="410.30" y2="339.80" stroke="#111" stroke-width="1.0"/>
<text x="0" y="0" font-size="5.1" text-anchor="end" fill="#1a1a1a" stroke="#1a1a1a" stroke-width="0.12" transform="translate(411.30 344.00) rotate(-45)">36m</text>
<line x1="331.10" y1="325.88" x2="334.50" y2="325.88" stroke="#111" stroke-width="1.0"/>
<text x="328.10" y="327.68" font-size="5.1" text-anchor="end" fill="#1a1a1a" stroke="#1a1a1a" stroke-width="0.14">10</text>
<line x1="331.10" y1="315.25" x2="334.50" y2="315.25" stroke="#111" stroke-width="1.0"/>
<text x="328.10" y="317.05" font-size="5.1" text-anchor="end" fill="#1a1a1a" stroke="#1a1a1a" stroke-width="0.14">20</text>
<line x1="331.10" y1="304.62" x2="334.50" y2="304.62" stroke="#111" stroke-width="1.0"/>
<text x="328.10" y="306.43" font-size="5.1" text-anchor="end" fill="#1a1a1a" stroke="#1a1a1a" stroke-width="0.14">30</text>
<line x1="331.10" y1="294.00" x2="334.50" y2="294.00" stroke="#111" stroke-width="1.0"/>
<text x="328.10" y="295.80" font-size="5.1" text-anchor="end" fill="#1a1a1a" stroke="#1a1a1a" stroke-width="0.14">40</text>
<line x1="331.10" y1="283.38" x2="334.50" y2="283.38" stroke="#111" stroke-width="1.0"/>
<text x="328.10" y="285.18" font-size="5.1" text-anchor="end" fill="#1a1a1a" stroke="#1a1a1a" stroke-width="0.14">50</text>
<line x1="434.30" y1="277.70" x2="434.30" y2="337.20" stroke="#111" stroke-width="1.5"/>
<line x1="433.60" y1="336.50" x2="512.30" y2="336.50" stroke="#111" stroke-width="1.5"/>
<line x1="438.70" y1="336.50" x2="438.70" y2="339.80" stroke="#111" stroke-width="1.0"/>
<text x="0" y="0" font-size="5.1" text-anchor="end" fill="#1a1a1a" stroke="#1a1a1a" stroke-width="0.12" transform="translate(439.70 344.00) rotate(-45)">2m</text>
<line x1="448.90" y1="336.50" x2="448.90" y2="339.80" stroke="#111" stroke-width="1.0"/>
<text x="0" y="0" font-size="5.1" text-anchor="end" fill="#1a1a1a" stroke="#1a1a1a" stroke-width="0.12" transform="translate(449.90 344.00) rotate(-45)">6m</text>
<line x1="459.10" y1="336.50" x2="459.10" y2="339.80" stroke="#111" stroke-width="1.0"/>
<text x="0" y="0" font-size="5.1" text-anchor="end" fill="#1a1a1a" stroke="#1a1a1a" stroke-width="0.12" transform="translate(460.10 344.00) rotate(-45)">10m</text>
<line x1="469.30" y1="336.50" x2="469.30" y2="339.80" stroke="#111" stroke-width="1.0"/>
<text x="0" y="0" font-size="5.1" text-anchor="end" fill="#1a1a1a" stroke="#1a1a1a" stroke-width="0.12" transform="translate(470.30 344.00) rotate(-45)">14m</text>
<line x1="479.50" y1="336.50" x2="479.50" y2="339.80" stroke="#111" stroke-width="1.0"/>
<text x="0" y="0" font-size="5.1" text-anchor="end" fill="#1a1a1a" stroke="#1a1a1a" stroke-width="0.12" transform="translate(480.50 344.00) rotate(-45)">18m</text>
<line x1="489.70" y1="336.50" x2="489.70" y2="339.80" stroke="#111" stroke-width="1.0"/>
<text x="0" y="0" font-size="5.1" text-anchor="end" fill="#1a1a1a" stroke="#1a1a1a" stroke-width="0.12" transform="translate(490.70 344.00) rotate(-45)">22m</text>
<line x1="499.90" y1="336.50" x2="499.90" y2="339.80" stroke="#111" stroke-width="1.0"/>
<text x="0" y="0" font-size="5.1" text-anchor="end" fill="#1a1a1a" stroke="#1a1a1a" stroke-width="0.12" transform="translate(500.90 344.00) rotate(-45)">28m</text>
<line x1="510.10" y1="336.50" x2="510.10" y2="339.80" stroke="#111" stroke-width="1.0"/>
<text x="0" y="0" font-size="5.1" text-anchor="end" fill="#1a1a1a" stroke="#1a1a1a" stroke-width="0.12" transform="translate(511.10 344.00) rotate(-45)">36m</text>
<line x1="430.90" y1="325.88" x2="434.30" y2="325.88" stroke="#111" stroke-width="1.0"/>
<text x="427.90" y="327.68" font-size="5.1" text-anchor="end" fill="#1a1a1a" stroke="#1a1a1a" stroke-width="0.14">10</text>
<line x1="430.90" y1="315.25" x2="434.30" y2="315.25" stroke="#111" stroke-width="1.0"/>
<text x="427.90" y="317.05" font-size="5.1" text-anchor="end" fill="#1a1a1a" stroke="#1a1a1a" stroke-width="0.14">20</text>
<line x1="430.90" y1="304.62" x2="434.30" y2="304.62" stroke="#111" stroke-width="1.0"/>
<text x="427.90" y="306.43" font-size="5.1" text-anchor="end" fill="#1a1a1a" stroke="#1a1a1a" stroke-width="0.14">30</text>
<line x1="430.90" y1="294.00" x2="434.30" y2="294.00" stroke="#111" stroke-width="1.0"/>
<text x="427.90" y="295.80" font-size="5.1" text-anchor="end" fill="#1a1a1a" stroke="#1a1a1a" stroke-width="0.14">40</text>
<line x1="430.90" y1="283.38" x2="434.30" y2="283.38" stroke="#111" stroke-width="1.0"/>
<text x="427.90" y="285.18" font-size="5.1" text-anchor="end" fill="#1a1a1a" stroke="#1a1a1a" stroke-width="0.14">50</text>
<line x1="36.00" y1="358.60" x2="36.00" y2="412.90" stroke="#111" stroke-width="1.5"/>
<line x1="35.30" y1="412.20" x2="108.00" y2="412.20" stroke="#111" stroke-width="1.5"/>
<line x1="39.60" y1="412.20" x2="39.60" y2="415.50" stroke="#111" stroke-width="1.0"/>
<text x="0" y="0" font-size="5.1" text-anchor="end" fill="#1a1a1a" stroke="#1a1a1a" stroke-width="0.12" transform="translate(40.60 419.70) rotate(-45)">2m</text>
<line x1="49.10" y1="412.20" x2="49.10" y2="415.50" stroke="#111" stroke-width="1.0"/>
<text x="0" y="0" font-size="5.1" text-anchor="end" fill="#1a1a1a" stroke="#1a1a1a" stroke-width="0.12" transform="translate(50.10 419.70) rotate(-45)">6m</text>
<line x1="58.60" y1="412.20" x2="58.60" y2="415.50" stroke="#111" stroke-width="1.0"/>
<text x="0" y="0" font-size="5.1" text-anchor="end" fill="#1a1a1a" stroke="#1a1a1a" stroke-width="0.12" transform="translate(59.60 419.70) rotate(-45)">10m</text>
<line x1="68.10" y1="412.20" x2="68.10" y2="415.50" stroke="#111" stroke-width="1.0"/>
<text x="0" y="0" font-size="5.1" text-anchor="end" fill="#1a1a1a" stroke="#1a1a1a" stroke-width="0.12" transform="translate(69.10 419.70) rotate(-45)">14m</text>
<line x1="77.60" y1="412.20" x2="77.60" y2="415.50" stroke="#111" stroke-width="1.0"/>
<text x="0" y="0" font-size="5.1" text-anchor="end" fill="#1a1a1a" stroke="#1a1a1a" stroke-width="0.12" transform="translate(78.60 419.70) rotate(-45)">18m</text>
<line x1="87.10" y1="412.20" x2="87.10" y2="415.50" stroke="#111" stroke-width="1.0"/>
<text x="0" y="0" font-size="5.1" text-anchor="end" fill="#1a1a1a" stroke="#1a1a1a" stroke-width="0.12" transform="translate(88.10 419.70) rotate(-45)">22m</text>
<line x1="96.60" y1="412.20" x2="96.60" y2="415.50" stroke="#111" stroke-width="1.0"/>
<text x="0" y="0" font-size="5.1" text-anchor="end" fill="#1a1a1a" stroke="#1a1a1a" stroke-width="0.12" transform="translate(97.60 419.70) rotate(-45)">28m</text>
<line x1="106.10" y1="412.20" x2="106.10" y2="415.50" stroke="#111" stroke-width="1.0"/>
<text x="0" y="0" font-size="5.1" text-anchor="end" fill="#1a1a1a" stroke="#1a1a1a" stroke-width="0.12" transform="translate(107.10 419.70) rotate(-45)">36m</text>
<line x1="32.60" y1="412.20" x2="36.00" y2="412.20" stroke="#111" stroke-width="1.0"/>
<text x="29.60" y="414.00" font-size="5.1" text-anchor="end" fill="#1a1a1a" stroke="#1a1a1a" stroke-width="0.14">0</text>
<line x1="32.60" y1="396.90" x2="36.00" y2="396.90" stroke="#111" stroke-width="1.0"/>
<text x="29.60" y="398.70" font-size="5.1" text-anchor="end" fill="#1a1a1a" stroke="#1a1a1a" stroke-width="0.14">2000</text>
<line x1="32.60" y1="381.60" x2="36.00" y2="381.60" stroke="#111" stroke-width="1.0"/>
<text x="29.60" y="383.40" font-size="5.1" text-anchor="end" fill="#1a1a1a" stroke="#1a1a1a" stroke-width="0.14">4000</text>
<line x1="32.60" y1="366.30" x2="36.00" y2="366.30" stroke="#111" stroke-width="1.0"/>
<text x="29.60" y="368.10" font-size="5.1" text-anchor="end" fill="#1a1a1a" stroke="#1a1a1a" stroke-width="0.14">6000</text>
<line x1="134.80" y1="358.60" x2="134.80" y2="412.90" stroke="#111" stroke-width="1.5"/>
<line x1="134.10" y1="412.20" x2="206.80" y2="412.20" stroke="#111" stroke-width="1.5"/>
<line x1="138.40" y1="412.20" x2="138.40" y2="415.50" stroke="#111" stroke-width="1.0"/>
<text x="0" y="0" font-size="5.1" text-anchor="end" fill="#1a1a1a" stroke="#1a1a1a" stroke-width="0.12" transform="translate(139.40 419.70) rotate(-45)">2m</text>
<line x1="147.90" y1="412.20" x2="147.90" y2="415.50" stroke="#111" stroke-width="1.0"/>
<text x="0" y="0" font-size="5.1" text-anchor="end" fill="#1a1a1a" stroke="#1a1a1a" stroke-width="0.12" transform="translate(148.90 419.70) rotate(-45)">6m</text>
<line x1="157.40" y1="412.20" x2="157.40" y2="415.50" stroke="#111" stroke-width="1.0"/>
<text x="0" y="0" font-size="5.1" text-anchor="end" fill="#1a1a1a" stroke="#1a1a1a" stroke-width="0.12" transform="translate(158.40 419.70) rotate(-45)">10m</text>
<line x1="166.90" y1="412.20" x2="166.90" y2="415.50" stroke="#111" stroke-width="1.0"/>
<text x="0" y="0" font-size="5.1" text-anchor="end" fill="#1a1a1a" stroke="#1a1a1a" stroke-width="0.12" transform="translate(167.90 419.70) rotate(-45)">14m</text>
<line x1="176.40" y1="412.20" x2="176.40" y2="415.50" stroke="#111" stroke-width="1.0"/>
<text x="0" y="0" font-size="5.1" text-anchor="end" fill="#1a1a1a" stroke="#1a1a1a" stroke-width="0.12" transform="translate(177.40 419.70) rotate(-45)">18m</text>
<line x1="185.90" y1="412.20" x2="185.90" y2="415.50" stroke="#111" stroke-width="1.0"/>
<text x="0" y="0" font-size="5.1" text-anchor="end" fill="#1a1a1a" stroke="#1a1a1a" stroke-width="0.12" transform="translate(186.90 419.70) rotate(-45)">22m</text>
<line x1="195.40" y1="412.20" x2="195.40" y2="415.50" stroke="#111" stroke-width="1.0"/>
<text x="0" y="0" font-size="5.1" text-anchor="end" fill="#1a1a1a" stroke="#1a1a1a" stroke-width="0.12" transform="translate(196.40 419.70) rotate(-45)">28m</text>
<line x1="204.90" y1="412.20" x2="204.90" y2="415.50" stroke="#111" stroke-width="1.0"/>
<text x="0" y="0" font-size="5.1" text-anchor="end" fill="#1a1a1a" stroke="#1a1a1a" stroke-width="0.12" transform="translate(205.90 419.70) rotate(-45)">36m</text>
<line x1="131.40" y1="412.20" x2="134.80" y2="412.20" stroke="#111" stroke-width="1.0"/>
<text x="128.40" y="414.00" font-size="5.1" text-anchor="end" fill="#1a1a1a" stroke="#1a1a1a" stroke-width="0.14">0</text>
<line x1="131.40" y1="396.90" x2="134.80" y2="396.90" stroke="#111" stroke-width="1.0"/>
<text x="128.40" y="398.70" font-size="5.1" text-anchor="end" fill="#1a1a1a" stroke="#1a1a1a" stroke-width="0.14">2000</text>
<line x1="131.40" y1="381.60" x2="134.80" y2="381.60" stroke="#111" stroke-width="1.0"/>
<text x="128.40" y="383.40" font-size="5.1" text-anchor="end" fill="#1a1a1a" stroke="#1a1a1a" stroke-width="0.14">4000</text>
<line x1="131.40" y1="366.30" x2="134.80" y2="366.30" stroke="#111" stroke-width="1.0"/>
<text x="128.40" y="368.10" font-size="5.1" text-anchor="end" fill="#1a1a1a" stroke="#1a1a1a" stroke-width="0.14">6000</text>
<line x1="234.50" y1="358.60" x2="234.50" y2="412.90" stroke="#111" stroke-width="1.5"/>
<line x1="233.80" y1="412.20" x2="306.50" y2="412.20" stroke="#111" stroke-width="1.5"/>
<line x1="238.10" y1="412.20" x2="238.10" y2="415.50" stroke="#111" stroke-width="1.0"/>
<text x="0" y="0" font-size="5.1" text-anchor="end" fill="#1a1a1a" stroke="#1a1a1a" stroke-width="0.12" transform="translate(239.10 419.70) rotate(-45)">2m</text>
<line x1="247.60" y1="412.20" x2="247.60" y2="415.50" stroke="#111" stroke-width="1.0"/>
<text x="0" y="0" font-size="5.1" text-anchor="end" fill="#1a1a1a" stroke="#1a1a1a" stroke-width="0.12" transform="translate(248.60 419.70) rotate(-45)">6m</text>
<line x1="257.10" y1="412.20" x2="257.10" y2="415.50" stroke="#111" stroke-width="1.0"/>
<text x="0" y="0" font-size="5.1" text-anchor="end" fill="#1a1a1a" stroke="#1a1a1a" stroke-width="0.12" transform="translate(258.10 419.70) rotate(-45)">10m</text>
<line x1="266.60" y1="412.20" x2="266.60" y2="415.50" stroke="#111" stroke-width="1.0"/>
<text x="0" y="0" font-size="5.1" text-anchor="end" fill="#1a1a1a" stroke="#1a1a1a" stroke-width="0.12" transform="translate(267.60 419.70) rotate(-45)">14m</text>
<line x1="276.10" y1="412.20" x2="276.10" y2="415.50" stroke="#111" stroke-width="1.0"/>
<text x="0" y="0" font-size="5.1" text-anchor="end" fill="#1a1a1a" stroke="#1a1a1a" stroke-width="0.12" transform="translate(277.10 419.70) rotate(-45)">18m</text>
<line x1="285.60" y1="412.20" x2="285.60" y2="415.50" stroke="#111" stroke-width="1.0"/>
<text x="0" y="0" font-size="5.1" text-anchor="end" fill="#1a1a1a" stroke="#1a1a1a" stroke-width="0.12" transform="translate(286.60 419.70) rotate(-45)">22m</text>
<line x1="295.10" y1="412.20" x2="295.10" y2="415.50" stroke="#111" stroke-width="1.0"/>
<text x="0" y="0" font-size="5.1" text-anchor="end" fill="#1a1a1a" stroke="#1a1a1a" stroke-width="0.12" transform="translate(296.10 419.70) rotate(-45)">28m</text>
<line x1="304.60" y1="412.20" x2="304.60" y2="415.50" stroke="#111" stroke-width="1.0"/>
<text x="0" y="0" font-size="5.1" text-anchor="end" fill="#1a1a1a" stroke="#1a1a1a" stroke-width="0.12" transform="translate(305.60 419.70) rotate(-45)">36m</text>
<line x1="231.10" y1="412.20" x2="234.50" y2="412.20" stroke="#111" stroke-width="1.0"/>
<text x="228.10" y="414.00" font-size="5.1" text-anchor="end" fill="#1a1a1a" stroke="#1a1a1a" stroke-width="0.14">0</text>
<line x1="231.10" y1="396.90" x2="234.50" y2="396.90" stroke="#111" stroke-width="1.0"/>
<text x="228.10" y="398.70" font-size="5.1" text-anchor="end" fill="#1a1a1a" stroke="#1a1a1a" stroke-width="0.14">2000</text>
<line x1="231.10" y1="381.60" x2="234.50" y2="381.60" stroke="#111" stroke-width="1.0"/>
<text x="228.10" y="383.40" font-size="5.1" text-anchor="end" fill="#1a1a1a" stroke="#1a1a1a" stroke-width="0.14">4000</text>
<line x1="231.10" y1="366.30" x2="234.50" y2="366.30" stroke="#111" stroke-width="1.0"/>
<text x="228.10" y="368.10" font-size="5.1" text-anchor="end" fill="#1a1a1a" stroke="#1a1a1a" stroke-width="0.14">6000</text>
<line x1="334.50" y1="358.60" x2="334.50" y2="412.90" stroke="#111" stroke-width="1.5"/>
<line x1="333.80" y1="412.20" x2="406.50" y2="412.20" stroke="#111" stroke-width="1.5"/>
<line x1="338.10" y1="412.20" x2="338.10" y2="415.50" stroke="#111" stroke-width="1.0"/>
<text x="0" y="0" font-size="5.1" text-anchor="end" fill="#1a1a1a" stroke="#1a1a1a" stroke-width="0.12" transform="translate(339.10 419.70) rotate(-45)">2m</text>
<line x1="347.60" y1="412.20" x2="347.60" y2="415.50" stroke="#111" stroke-width="1.0"/>
<text x="0" y="0" font-size="5.1" text-anchor="end" fill="#1a1a1a" stroke="#1a1a1a" stroke-width="0.12" transform="translate(348.60 419.70) rotate(-45)">6m</text>
<line x1="357.10" y1="412.20" x2="357.10" y2="415.50" stroke="#111" stroke-width="1.0"/>
<text x="0" y="0" font-size="5.1" text-anchor="end" fill="#1a1a1a" stroke="#1a1a1a" stroke-width="0.12" transform="translate(358.10 419.70) rotate(-45)">10m</text>
<line x1="366.60" y1="412.20" x2="366.60" y2="415.50" stroke="#111" stroke-width="1.0"/>
<text x="0" y="0" font-size="5.1" text-anchor="end" fill="#1a1a1a" stroke="#1a1a1a" stroke-width="0.12" transform="translate(367.60 419.70) rotate(-45)">14m</text>
<line x1="376.10" y1="412.20" x2="376.10" y2="415.50" stroke="#111" stroke-width="1.0"/>
<text x="0" y="0" font-size="5.1" text-anchor="end" fill="#1a1a1a" stroke="#1a1a1a" stroke-width="0.12" transform="translate(377.10 419.70) rotate(-45)">18m</text>
<line x1="385.60" y1="412.20" x2="385.60" y2="415.50" stroke="#111" stroke-width="1.0"/>
<text x="0" y="0" font-size="5.1" text-anchor="end" fill="#1a1a1a" stroke="#1a1a1a" stroke-width="0.12" transform="translate(386.60 419.70) rotate(-45)">22m</text>
<line x1="395.10" y1="412.20" x2="395.10" y2="415.50" stroke="#111" stroke-width="1.0"/>
<text x="0" y="0" font-size="5.1" text-anchor="end" fill="#1a1a1a" stroke="#1a1a1a" stroke-width="0.12" transform="translate(396.10 419.70) rotate(-45)">28m</text>
<line x1="404.60" y1="412.20" x2="404.60" y2="415.50" stroke="#111" stroke-width="1.0"/>
<text x="0" y="0" font-size="5.1" text-anchor="end" fill="#1a1a1a" stroke="#1a1a1a" stroke-width="0.12" transform="translate(405.60 419.70) rotate(-45)">36m</text>
<line x1="331.10" y1="412.20" x2="334.50" y2="412.20" stroke="#111" stroke-width="1.0"/>
<text x="328.10" y="414.00" font-size="5.1" text-anchor="end" fill="#1a1a1a" stroke="#1a1a1a" stroke-width="0.14">0</text>
<line x1="331.10" y1="396.90" x2="334.50" y2="396.90" stroke="#111" stroke-width="1.0"/>
<text x="328.10" y="398.70" font-size="5.1" text-anchor="end" fill="#1a1a1a" stroke="#1a1a1a" stroke-width="0.14">2000</text>
<line x1="331.10" y1="381.60" x2="334.50" y2="381.60" stroke="#111" stroke-width="1.0"/>
<text x="328.10" y="383.40" font-size="5.1" text-anchor="end" fill="#1a1a1a" stroke="#1a1a1a" stroke-width="0.14">4000</text>
<line x1="331.10" y1="366.30" x2="334.50" y2="366.30" stroke="#111" stroke-width="1.0"/>
<text x="328.10" y="368.10" font-size="5.1" text-anchor="end" fill="#1a1a1a" stroke="#1a1a1a" stroke-width="0.14">6000</text>
<line x1="434.30" y1="358.60" x2="434.30" y2="412.90" stroke="#111" stroke-width="1.5"/>
<line x1="433.60" y1="412.20" x2="506.30" y2="412.20" stroke="#111" stroke-width="1.5"/>
<line x1="437.90" y1="412.20" x2="437.90" y2="415.50" stroke="#111" stroke-width="1.0"/>
<text x="0" y="0" font-size="5.1" text-anchor="end" fill="#1a1a1a" stroke="#1a1a1a" stroke-width="0.12" transform="translate(438.90 419.70) rotate(-45)">2m</text>
<line x1="447.40" y1="412.20" x2="447.40" y2="415.50" stroke="#111" stroke-width="1.0"/>
<text x="0" y="0" font-size="5.1" text-anchor="end" fill="#1a1a1a" stroke="#1a1a1a" stroke-width="0.12" transform="translate(448.40 419.70) rotate(-45)">6m</text>
<line x1="456.90" y1="412.20" x2="456.90" y2="415.50" stroke="#111" stroke-width="1.0"/>
<text x="0" y="0" font-size="5.1" text-anchor="end" fill="#1a1a1a" stroke="#1a1a1a" stroke-width="0.12" transform="translate(457.90 419.70) rotate(-45)">10m</text>
<line x1="466.40" y1="412.20" x2="466.40" y2="415.50" stroke="#111" stroke-width="1.0"/>
<text x="0" y="0" font-size="5.1" text-anchor="end" fill="#1a1a1a" stroke="#1a1a1a" stroke-width="0.12" transform="translate(467.40 419.70) rotate(-45)">14m</text>
<line x1="475.90" y1="412.20" x2="475.90" y2="415.50" stroke="#111" stroke-width="1.0"/>
<text x="0" y="0" font-size="5.1" text-anchor="end" fill="#1a1a1a" stroke="#1a1a1a" stroke-width="0.12" transform="translate(476.90 419.70) rotate(-45)">18m</text>
<line x1="485.40" y1="412.20" x2="485.40" y2="415.50" stroke="#111" stroke-width="1.0"/>
<text x="0" y="0" font-size="5.1" text-anchor="end" fill="#1a1a1a" stroke="#1a1a1a" stroke-width="0.12" transform="translate(486.40 419.70) rotate(-45)">22m</text>
<line x1="494.90" y1="412.20" x2="494.90" y2="415.50" stroke="#111" stroke-width="1.0"/>
<text x="0" y="0" font-size="5.1" text-anchor="end" fill="#1a1a1a" stroke="#1a1a1a" stroke-width="0.12" transform="translate(495.90 419.70) rotate(-45)">28m</text>
<line x1="504.40" y1="412.20" x2="504.40" y2="415.50" stroke="#111" stroke-width="1.0"/>
<text x="0" y="0" font-size="5.1" text-anchor="end" fill="#1a1a1a" stroke="#1a1a1a" stroke-width="0.12" transform="translate(505.40 419.70) rotate(-45)">36m</text>
<line x1="430.90" y1="412.20" x2="434.30" y2="412.20" stroke="#111" stroke-width="1.0"/>
<text x="427.90" y="414.00" font-size="5.1" text-anchor="end" fill="#1a1a1a" stroke="#1a1a1a" stroke-width="0.14">0</text>
<line x1="430.90" y1="396.90" x2="434.30" y2="396.90" stroke="#111" stroke-width="1.0"/>
<text x="427.90" y="398.70" font-size="5.1" text-anchor="end" fill="#1a1a1a" stroke="#1a1a1a" stroke-width="0.14">2000</text>
<line x1="430.90" y1="381.60" x2="434.30" y2="381.60" stroke="#111" stroke-width="1.0"/>
<text x="427.90" y="383.40" font-size="5.1" text-anchor="end" fill="#1a1a1a" stroke="#1a1a1a" stroke-width="0.14">4000</text>
<line x1="430.90" y1="366.30" x2="434.30" y2="366.30" stroke="#111" stroke-width="1.0"/>
<text x="427.90" y="368.10" font-size="5.1" text-anchor="end" fill="#1a1a1a" stroke="#1a1a1a" stroke-width="0.14">6000</text>
<line x1="36.00" y1="434.40" x2="36.00" y2="491.20" stroke="#111" stroke-width="1.5"/>
<line x1="35.30" y1="490.50" x2="108.00" y2="490.50" stroke="#111" stroke-width="1.5"/>
<line x1="39.60" y1="490.50" x2="39.60" y2="493.80" stroke="#111" stroke-width="1.0"/>
<text x="0" y="0" font-size="5.1" text-anchor="end" fill="#1a1a1a" stroke="#1a1a1a" stroke-width="0.12" transform="translate(40.60 498.00) rotate(-45)">2m</text>
<line x1="49.10" y1="490.50" x2="49.10" y2="493.80" stroke="#111" stroke-width="1.0"/>
<text x="0" y="0" font-size="5.1" text-anchor="end" fill="#1a1a1a" stroke="#1a1a1a" stroke-width="0.12" transform="translate(50.10 498.00) rotate(-45)">6m</text>
<line x1="58.60" y1="490.50" x2="58.60" y2="493.80" stroke="#111" stroke-width="1.0"/>
<text x="0" y="0" font-size="5.1" text-anchor="end" fill="#1a1a1a" stroke="#1a1a1a" stroke-width="0.12" transform="translate(59.60 498.00) rotate(-45)">10m</text>
<line x1="68.10" y1="490.50" x2="68.10" y2="493.80" stroke="#111" stroke-width="1.0"/>
<text x="0" y="0" font-size="5.1" text-anchor="end" fill="#1a1a1a" stroke="#1a1a1a" stroke-width="0.12" transform="translate(69.10 498.00) rotate(-45)">14m</text>
<line x1="77.60" y1="490.50" x2="77.60" y2="493.80" stroke="#111" stroke-width="1.0"/>
<text x="0" y="0" font-size="5.1" text-anchor="end" fill="#1a1a1a" stroke="#1a1a1a" stroke-width="0.12" transform="translate(78.60 498.00) rotate(-45)">18m</text>
<line x1="87.10" y1="490.50" x2="87.10" y2="493.80" stroke="#111" stroke-width="1.0"/>
<text x="0" y="0" font-size="5.1" text-anchor="end" fill="#1a1a1a" stroke="#1a1a1a" stroke-width="0.12" transform="translate(88.10 498.00) rotate(-45)">22m</text>
<line x1="96.60" y1="490.50" x2="96.60" y2="493.80" stroke="#111" stroke-width="1.0"/>
<text x="0" y="0" font-size="5.1" text-anchor="end" fill="#1a1a1a" stroke="#1a1a1a" stroke-width="0.12" transform="translate(97.60 498.00) rotate(-45)">28m</text>
<line x1="106.10" y1="490.50" x2="106.10" y2="493.80" stroke="#111" stroke-width="1.0"/>
<text x="0" y="0" font-size="5.1" text-anchor="end" fill="#1a1a1a" stroke="#1a1a1a" stroke-width="0.12" transform="translate(107.10 498.00) rotate(-45)">36m</text>
<line x1="32.60" y1="490.50" x2="36.00" y2="490.50" stroke="#111" stroke-width="1.0"/>
<text x="29.60" y="492.30" font-size="5.1" text-anchor="end" fill="#1a1a1a" stroke="#1a1a1a" stroke-width="0.14">0</text>
<line x1="32.60" y1="479.84" x2="36.00" y2="479.84" stroke="#111" stroke-width="1.0"/>
<text x="29.60" y="481.64" font-size="5.1" text-anchor="end" fill="#1a1a1a" stroke="#1a1a1a" stroke-width="0.14">1000</text>
<line x1="32.60" y1="469.18" x2="36.00" y2="469.18" stroke="#111" stroke-width="1.0"/>
<text x="29.60" y="470.98" font-size="5.1" text-anchor="end" fill="#1a1a1a" stroke="#1a1a1a" stroke-width="0.14">2000</text>
<line x1="32.60" y1="458.52" x2="36.00" y2="458.52" stroke="#111" stroke-width="1.0"/>
<text x="29.60" y="460.32" font-size="5.1" text-anchor="end" fill="#1a1a1a" stroke="#1a1a1a" stroke-width="0.14">3000</text>
<line x1="32.60" y1="447.86" x2="36.00" y2="447.86" stroke="#111" stroke-width="1.0"/>
<text x="29.60" y="449.66" font-size="5.1" text-anchor="end" fill="#1a1a1a" stroke="#1a1a1a" stroke-width="0.14">4000</text>
<line x1="32.60" y1="437.20" x2="36.00" y2="437.20" stroke="#111" stroke-width="1.0"/>
<text x="29.60" y="439.00" font-size="5.1" text-anchor="end" fill="#1a1a1a" stroke="#1a1a1a" stroke-width="0.14">5000</text>
<line x1="134.80" y1="434.40" x2="134.80" y2="491.20" stroke="#111" stroke-width="1.5"/>
<line x1="134.10" y1="490.50" x2="206.80" y2="490.50" stroke="#111" stroke-width="1.5"/>
<line x1="138.40" y1="490.50" x2="138.40" y2="493.80" stroke="#111" stroke-width="1.0"/>
<text x="0" y="0" font-size="5.1" text-anchor="end" fill="#1a1a1a" stroke="#1a1a1a" stroke-width="0.12" transform="translate(139.40 498.00) rotate(-45)">2m</text>
<line x1="147.90" y1="490.50" x2="147.90" y2="493.80" stroke="#111" stroke-width="1.0"/>
<text x="0" y="0" font-size="5.1" text-anchor="end" fill="#1a1a1a" stroke="#1a1a1a" stroke-width="0.12" transform="translate(148.90 498.00) rotate(-45)">6m</text>
<line x1="157.40" y1="490.50" x2="157.40" y2="493.80" stroke="#111" stroke-width="1.0"/>
<text x="0" y="0" font-size="5.1" text-anchor="end" fill="#1a1a1a" stroke="#1a1a1a" stroke-width="0.12" transform="translate(158.40 498.00) rotate(-45)">10m</text>
<line x1="166.90" y1="490.50" x2="166.90" y2="493.80" stroke="#111" stroke-width="1.0"/>
<text x="0" y="0" font-size="5.1" text-anchor="end" fill="#1a1a1a" stroke="#1a1a1a" stroke-width="0.12" transform="translate(167.90 498.00) rotate(-45)">14m</text>
<line x1="176.40" y1="490.50" x2="176.40" y2="493.80" stroke="#111" stroke-width="1.0"/>
<text x="0" y="0" font-size="5.1" text-anchor="end" fill="#1a1a1a" stroke="#1a1a1a" stroke-width="0.12" transform="translate(177.40 498.00) rotate(-45)">18m</text>
<line x1="185.90" y1="490.50" x2="185.90" y2="493.80" stroke="#111" stroke-width="1.0"/>
<text x="0" y="0" font-size="5.1" text-anchor="end" fill="#1a1a1a" stroke="#1a1a1a" stroke-width="0.12" transform="translate(186.90 498.00) rotate(-45)">22m</text>
<line x1="195.40" y1="490.50" x2="195.40" y2="493.80" stroke="#111" stroke-width="1.0"/>
<text x="0" y="0" font-size="5.1" text-anchor="end" fill="#1a1a1a" stroke="#1a1a1a" stroke-width="0.12" transform="translate(196.40 498.00) rotate(-45)">28m</text>
<line x1="204.90" y1="490.50" x2="204.90" y2="493.80" stroke="#111" stroke-width="1.0"/>
<text x="0" y="0" font-size="5.1" text-anchor="end" fill="#1a1a1a" stroke="#1a1a1a" stroke-width="0.12" transform="translate(205.90 498.00) rotate(-45)">36m</text>
<line x1="131.40" y1="490.50" x2="134.80" y2="490.50" stroke="#111" stroke-width="1.0"/>
<text x="128.40" y="492.30" font-size="5.1" text-anchor="end" fill="#1a1a1a" stroke="#1a1a1a" stroke-width="0.14">0</text>
<line x1="131.40" y1="479.84" x2="134.80" y2="479.84" stroke="#111" stroke-width="1.0"/>
<text x="128.40" y="481.64" font-size="5.1" text-anchor="end" fill="#1a1a1a" stroke="#1a1a1a" stroke-width="0.14">1000</text>
<line x1="131.40" y1="469.18" x2="134.80" y2="469.18" stroke="#111" stroke-width="1.0"/>
<text x="128.40" y="470.98" font-size="5.1" text-anchor="end" fill="#1a1a1a" stroke="#1a1a1a" stroke-width="0.14">2000</text>
<line x1="131.40" y1="458.52" x2="134.80" y2="458.52" stroke="#111" stroke-width="1.0"/>
<text x="128.40" y="460.32" font-size="5.1" text-anchor="end" fill="#1a1a1a" stroke="#1a1a1a" stroke-width="0.14">3000</text>
<line x1="131.40" y1="447.86" x2="134.80" y2="447.86" stroke="#111" stroke-width="1.0"/>
<text x="128.40" y="449.66" font-size="5.1" text-anchor="end" fill="#1a1a1a" stroke="#1a1a1a" stroke-width="0.14">4000</text>
<line x1="131.40" y1="437.20" x2="134.80" y2="437.20" stroke="#111" stroke-width="1.0"/>
<text x="128.40" y="439.00" font-size="5.1" text-anchor="end" fill="#1a1a1a" stroke="#1a1a1a" stroke-width="0.14">5000</text>
<line x1="234.50" y1="434.40" x2="234.50" y2="491.20" stroke="#111" stroke-width="1.5"/>
<line x1="233.80" y1="490.50" x2="306.50" y2="490.50" stroke="#111" stroke-width="1.5"/>
<line x1="238.10" y1="490.50" x2="238.10" y2="493.80" stroke="#111" stroke-width="1.0"/>
<text x="0" y="0" font-size="5.1" text-anchor="end" fill="#1a1a1a" stroke="#1a1a1a" stroke-width="0.12" transform="translate(239.10 498.00) rotate(-45)">2m</text>
<line x1="247.60" y1="490.50" x2="247.60" y2="493.80" stroke="#111" stroke-width="1.0"/>
<text x="0" y="0" font-size="5.1" text-anchor="end" fill="#1a1a1a" stroke="#1a1a1a" stroke-width="0.12" transform="translate(248.60 498.00) rotate(-45)">6m</text>
<line x1="257.10" y1="490.50" x2="257.10" y2="493.80" stroke="#111" stroke-width="1.0"/>
<text x="0" y="0" font-size="5.1" text-anchor="end" fill="#1a1a1a" stroke="#1a1a1a" stroke-width="0.12" transform="translate(258.10 498.00) rotate(-45)">10m</text>
<line x1="266.60" y1="490.50" x2="266.60" y2="493.80" stroke="#111" stroke-width="1.0"/>
<text x="0" y="0" font-size="5.1" text-anchor="end" fill="#1a1a1a" stroke="#1a1a1a" stroke-width="0.12" transform="translate(267.60 498.00) rotate(-45)">14m</text>
<line x1="276.10" y1="490.50" x2="276.10" y2="493.80" stroke="#111" stroke-width="1.0"/>
<text x="0" y="0" font-size="5.1" text-anchor="end" fill="#1a1a1a" stroke="#1a1a1a" stroke-width="0.12" transform="translate(277.10 498.00) rotate(-45)">18m</text>
<line x1="285.60" y1="490.50" x2="285.60" y2="493.80" stroke="#111" stroke-width="1.0"/>
<text x="0" y="0" font-size="5.1" text-anchor="end" fill="#1a1a1a" stroke="#1a1a1a" stroke-width="0.12" transform="translate(286.60 498.00) rotate(-45)">22m</text>
<line x1="295.10" y1="490.50" x2="295.10" y2="493.80" stroke="#111" stroke-width="1.0"/>
<text x="0" y="0" font-size="5.1" text-anchor="end" fill="#1a1a1a" stroke="#1a1a1a" stroke-width="0.12" transform="translate(296.10 498.00) rotate(-45)">28m</text>
<line x1="304.60" y1="490.50" x2="304.60" y2="493.80" stroke="#111" stroke-width="1.0"/>
<text x="0" y="0" font-size="5.1" text-anchor="end" fill="#1a1a1a" stroke="#1a1a1a" stroke-width="0.12" transform="translate(305.60 498.00) rotate(-45)">36m</text>
<line x1="231.10" y1="490.50" x2="234.50" y2="490.50" stroke="#111" stroke-width="1.0"/>
<text x="228.10" y="492.30" font-size="5.1" text-anchor="end" fill="#1a1a1a" stroke="#1a1a1a" stroke-width="0.14">0</text>
<line x1="231.10" y1="479.84" x2="234.50" y2="479.84" stroke="#111" stroke-width="1.0"/>
<text x="228.10" y="481.64" font-size="5.1" text-anchor="end" fill="#1a1a1a" stroke="#1a1a1a" stroke-width="0.14">1000</text>
<line x1="231.10" y1="469.18" x2="234.50" y2="469.18" stroke="#111" stroke-width="1.0"/>
<text x="228.10" y="470.98" font-size="5.1" text-anchor="end" fill="#1a1a1a" stroke="#1a1a1a" stroke-width="0.14">2000</text>
<line x1="231.10" y1="458.52" x2="234.50" y2="458.52" stroke="#111" stroke-width="1.0"/>
<text x="228.10" y="460.32" font-size="5.1" text-anchor="end" fill="#1a1a1a" stroke="#1a1a1a" stroke-width="0.14">3000</text>
<line x1="231.10" y1="447.86" x2="234.50" y2="447.86" stroke="#111" stroke-width="1.0"/>
<text x="228.10" y="449.66" font-size="5.1" text-anchor="end" fill="#1a1a1a" stroke="#1a1a1a" stroke-width="0.14">4000</text>
<line x1="231.10" y1="437.20" x2="234.50" y2="437.20" stroke="#111" stroke-width="1.0"/>
<text x="228.10" y="439.00" font-size="5.1" text-anchor="end" fill="#1a1a1a" stroke="#1a1a1a" stroke-width="0.14">5000</text>
<line x1="334.50" y1="434.40" x2="334.50" y2="491.20" stroke="#111" stroke-width="1.5"/>
<line x1="333.80" y1="490.50" x2="406.50" y2="490.50" stroke="#111" stroke-width="1.5"/>
<line x1="338.10" y1="490.50" x2="338.10" y2="493.80" stroke="#111" stroke-width="1.0"/>
<text x="0" y="0" font-size="5.1" text-anchor="end" fill="#1a1a1a" stroke="#1a1a1a" stroke-width="0.12" transform="translate(339.10 498.00) rotate(-45)">2m</text>
<line x1="347.60" y1="490.50" x2="347.60" y2="493.80" stroke="#111" stroke-width="1.0"/>
<text x="0" y="0" font-size="5.1" text-anchor="end" fill="#1a1a1a" stroke="#1a1a1a" stroke-width="0.12" transform="translate(348.60 498.00) rotate(-45)">6m</text>
<line x1="357.10" y1="490.50" x2="357.10" y2="493.80" stroke="#111" stroke-width="1.0"/>
<text x="0" y="0" font-size="5.1" text-anchor="end" fill="#1a1a1a" stroke="#1a1a1a" stroke-width="0.12" transform="translate(358.10 498.00) rotate(-45)">10m</text>
<line x1="366.60" y1="490.50" x2="366.60" y2="493.80" stroke="#111" stroke-width="1.0"/>
<text x="0" y="0" font-size="5.1" text-anchor="end" fill="#1a1a1a" stroke="#1a1a1a" stroke-width="0.12" transform="translate(367.60 498.00) rotate(-45)">14m</text>
<line x1="376.10" y1="490.50" x2="376.10" y2="493.80" stroke="#111" stroke-width="1.0"/>
<text x="0" y="0" font-size="5.1" text-anchor="end" fill="#1a1a1a" stroke="#1a1a1a" stroke-width="0.12" transform="translate(377.10 498.00) rotate(-45)">18m</text>
<line x1="385.60" y1="490.50" x2="385.60" y2="493.80" stroke="#111" stroke-width="1.0"/>
<text x="0" y="0" font-size="5.1" text-anchor="end" fill="#1a1a1a" stroke="#1a1a1a" stroke-width="0.12" transform="translate(386.60 498.00) rotate(-45)">22m</text>
<line x1="395.10" y1="490.50" x2="395.10" y2="493.80" stroke="#111" stroke-width="1.0"/>
<text x="0" y="0" font-size="5.1" text-anchor="end" fill="#1a1a1a" stroke="#1a1a1a" stroke-width="0.12" transform="translate(396.10 498.00) rotate(-45)">28m</text>
<line x1="404.60" y1="490.50" x2="404.60" y2="493.80" stroke="#111" stroke-width="1.0"/>
<text x="0" y="0" font-size="5.1" text-anchor="end" fill="#1a1a1a" stroke="#1a1a1a" stroke-width="0.12" transform="translate(405.60 498.00) rotate(-45)">36m</text>
<line x1="331.10" y1="490.50" x2="334.50" y2="490.50" stroke="#111" stroke-width="1.0"/>
<text x="328.10" y="492.30" font-size="5.1" text-anchor="end" fill="#1a1a1a" stroke="#1a1a1a" stroke-width="0.14">0</text>
<line x1="331.10" y1="479.84" x2="334.50" y2="479.84" stroke="#111" stroke-width="1.0"/>
<text x="328.10" y="481.64" font-size="5.1" text-anchor="end" fill="#1a1a1a" stroke="#1a1a1a" stroke-width="0.14">1000</text>
<line x1="331.10" y1="469.18" x2="334.50" y2="469.18" stroke="#111" stroke-width="1.0"/>
<text x="328.10" y="470.98" font-size="5.1" text-anchor="end" fill="#1a1a1a" stroke="#1a1a1a" stroke-width="0.14">2000</text>
<line x1="331.10" y1="458.52" x2="334.50" y2="458.52" stroke="#111" stroke-width="1.0"/>
<text x="328.10" y="460.32" font-size="5.1" text-anchor="end" fill="#1a1a1a" stroke="#1a1a1a" stroke-width="0.14">3000</text>
<line x1="331.10" y1="447.86" x2="334.50" y2="447.86" stroke="#111" stroke-width="1.0"/>
<text x="328.10" y="449.66" font-size="5.1" text-anchor="end" fill="#1a1a1a" stroke="#1a1a1a" stroke-width="0.14">4000</text>
<line x1="331.10" y1="437.20" x2="334.50" y2="437.20" stroke="#111" stroke-width="1.0"/>
<text x="328.10" y="439.00" font-size="5.1" text-anchor="end" fill="#1a1a1a" stroke="#1a1a1a" stroke-width="0.14">5000</text>
<line x1="434.30" y1="434.40" x2="434.30" y2="491.20" stroke="#111" stroke-width="1.5"/>
<line x1="433.60" y1="490.50" x2="506.30" y2="490.50" stroke="#111" stroke-width="1.5"/>
<line x1="437.90" y1="490.50" x2="437.90" y2="493.80" stroke="#111" stroke-width="1.0"/>
<text x="0" y="0" font-size="5.1" text-anchor="end" fill="#1a1a1a" stroke="#1a1a1a" stroke-width="0.12" transform="translate(438.90 498.00) rotate(-45)">2m</text>
<line x1="447.40" y1="490.50" x2="447.40" y2="493.80" stroke="#111" stroke-width="1.0"/>
<text x="0" y="0" font-size="5.1" text-anchor="end" fill="#1a1a1a" stroke="#1a1a1a" stroke-width="0.12" transform="translate(448.40 498.00) rotate(-45)">6m</text>
<line x1="456.90" y1="490.50" x2="456.90" y2="493.80" stroke="#111" stroke-width="1.0"/>
<text x="0" y="0" font-size="5.1" text-anchor="end" fill="#1a1a1a" stroke="#1a1a1a" stroke-width="0.12" transform="translate(457.90 498.00) rotate(-45)">10m</text>
<line x1="466.40" y1="490.50" x2="466.40" y2="493.80" stroke="#111" stroke-width="1.0"/>
<text x="0" y="0" font-size="5.1" text-anchor="end" fill="#1a1a1a" stroke="#1a1a1a" stroke-width="0.12" transform="translate(467.40 498.00) rotate(-45)">14m</text>
<line x1="475.90" y1="490.50" x2="475.90" y2="493.80" stroke="#111" stroke-width="1.0"/>
<text x="0" y="0" font-size="5.1" text-anchor="end" fill="#1a1a1a" stroke="#1a1a1a" stroke-width="0.12" transform="translate(476.90 498.00) rotate(-45)">18m</text>
<line x1="485.40" y1="490.50" x2="485.40" y2="493.80" stroke="#111" stroke-width="1.0"/>
<text x="0" y="0" font-size="5.1" text-anchor="end" fill="#1a1a1a" stroke="#1a1a1a" stroke-width="0.12" transform="translate(486.40 498.00) rotate(-45)">22m</text>
<line x1="494.90" y1="490.50" x2="494.90" y2="493.80" stroke="#111" stroke-width="1.0"/>
<text x="0" y="0" font-size="5.1" text-anchor="end" fill="#1a1a1a" stroke="#1a1a1a" stroke-width="0.12" transform="translate(495.90 498.00) rotate(-45)">28m</text>
<line x1="504.40" y1="490.50" x2="504.40" y2="493.80" stroke="#111" stroke-width="1.0"/>
<text x="0" y="0" font-size="5.1" text-anchor="end" fill="#1a1a1a" stroke="#1a1a1a" stroke-width="0.12" transform="translate(505.40 498.00) rotate(-45)">36m</text>
<line x1="430.90" y1="490.50" x2="434.30" y2="490.50" stroke="#111" stroke-width="1.0"/>
<text x="427.90" y="492.30" font-size="5.1" text-anchor="end" fill="#1a1a1a" stroke="#1a1a1a" stroke-width="0.14">0</text>
<line x1="430.90" y1="479.84" x2="434.30" y2="479.84" stroke="#111" stroke-width="1.0"/>
<text x="427.90" y="481.64" font-size="5.1" text-anchor="end" fill="#1a1a1a" stroke="#1a1a1a" stroke-width="0.14">1000</text>
<line x1="430.90" y1="469.18" x2="434.30" y2="469.18" stroke="#111" stroke-width="1.0"/>
<text x="427.90" y="470.98" font-size="5.1" text-anchor="end" fill="#1a1a1a" stroke="#1a1a1a" stroke-width="0.14">2000</text>
<line x1="430.90" y1="458.52" x2="434.30" y2="458.52" stroke="#111" stroke-width="1.0"/>
<text x="427.90" y="460.32" font-size="5.1" text-anchor="end" fill="#1a1a1a" stroke="#1a1a1a" stroke-width="0.14">3000</text>
<line x1="430.90" y1="447.86" x2="434.30" y2="447.86" stroke="#111" stroke-width="1.0"/>
<text x="427.90" y="449.66" font-size="5.1" text-anchor="end" fill="#1a1a1a" stroke="#1a1a1a" stroke-width="0.14">4000</text>
<line x1="430.90" y1="437.20" x2="434.30" y2="437.20" stroke="#111" stroke-width="1.0"/>
<text x="427.90" y="439.00" font-size="5.1" text-anchor="end" fill="#1a1a1a" stroke="#1a1a1a" stroke-width="0.14">5000</text>
<line x1="36.00" y1="512.00" x2="36.00" y2="566.80" stroke="#111" stroke-width="1.5"/>
<line x1="35.30" y1="566.10" x2="108.00" y2="566.10" stroke="#111" stroke-width="1.5"/>
<line x1="39.60" y1="566.10" x2="39.60" y2="569.40" stroke="#111" stroke-width="1.0"/>
<text x="0" y="0" font-size="5.1" text-anchor="end" fill="#1a1a1a" stroke="#1a1a1a" stroke-width="0.12" transform="translate(40.60 573.60) rotate(-45)">2m</text>
<line x1="49.10" y1="566.10" x2="49.10" y2="569.40" stroke="#111" stroke-width="1.0"/>
<text x="0" y="0" font-size="5.1" text-anchor="end" fill="#1a1a1a" stroke="#1a1a1a" stroke-width="0.12" transform="translate(50.10 573.60) rotate(-45)">6m</text>
<line x1="58.60" y1="566.10" x2="58.60" y2="569.40" stroke="#111" stroke-width="1.0"/>
<text x="0" y="0" font-size="5.1" text-anchor="end" fill="#1a1a1a" stroke="#1a1a1a" stroke-width="0.12" transform="translate(59.60 573.60) rotate(-45)">10m</text>
<line x1="68.10" y1="566.10" x2="68.10" y2="569.40" stroke="#111" stroke-width="1.0"/>
<text x="0" y="0" font-size="5.1" text-anchor="end" fill="#1a1a1a" stroke="#1a1a1a" stroke-width="0.12" transform="translate(69.10 573.60) rotate(-45)">14m</text>
<line x1="77.60" y1="566.10" x2="77.60" y2="569.40" stroke="#111" stroke-width="1.0"/>
<text x="0" y="0" font-size="5.1" text-anchor="end" fill="#1a1a1a" stroke="#1a1a1a" stroke-width="0.12" transform="translate(78.60 573.60) rotate(-45)">18m</text>
<line x1="87.10" y1="566.10" x2="87.10" y2="569.40" stroke="#111" stroke-width="1.0"/>
<text x="0" y="0" font-size="5.1" text-anchor="end" fill="#1a1a1a" stroke="#1a1a1a" stroke-width="0.12" transform="translate(88.10 573.60) rotate(-45)">22m</text>
<line x1="96.60" y1="566.10" x2="96.60" y2="569.40" stroke="#111" stroke-width="1.0"/>
<text x="0" y="0" font-size="5.1" text-anchor="end" fill="#1a1a1a" stroke="#1a1a1a" stroke-width="0.12" transform="translate(97.60 573.60) rotate(-45)">28m</text>
<line x1="106.10" y1="566.10" x2="106.10" y2="569.40" stroke="#111" stroke-width="1.0"/>
<text x="0" y="0" font-size="5.1" text-anchor="end" fill="#1a1a1a" stroke="#1a1a1a" stroke-width="0.12" transform="translate(107.10 573.60) rotate(-45)">36m</text>
<line x1="32.60" y1="556.70" x2="36.00" y2="556.70" stroke="#111" stroke-width="1.0"/>
<text x="29.60" y="558.50" font-size="5.1" text-anchor="end" fill="#1a1a1a" stroke="#1a1a1a" stroke-width="0.14">4</text>
<line x1="32.60" y1="539.10" x2="36.00" y2="539.10" stroke="#111" stroke-width="1.0"/>
<text x="29.60" y="540.90" font-size="5.1" text-anchor="end" fill="#1a1a1a" stroke="#1a1a1a" stroke-width="0.14">6</text>
<line x1="32.60" y1="521.50" x2="36.00" y2="521.50" stroke="#111" stroke-width="1.0"/>
<text x="29.60" y="523.30" font-size="5.1" text-anchor="end" fill="#1a1a1a" stroke="#1a1a1a" stroke-width="0.14">8</text>
<line x1="134.80" y1="512.00" x2="134.80" y2="566.80" stroke="#111" stroke-width="1.5"/>
<line x1="134.10" y1="566.10" x2="206.80" y2="566.10" stroke="#111" stroke-width="1.5"/>
<line x1="138.40" y1="566.10" x2="138.40" y2="569.40" stroke="#111" stroke-width="1.0"/>
<text x="0" y="0" font-size="5.1" text-anchor="end" fill="#1a1a1a" stroke="#1a1a1a" stroke-width="0.12" transform="translate(139.40 573.60) rotate(-45)">2m</text>
<line x1="147.90" y1="566.10" x2="147.90" y2="569.40" stroke="#111" stroke-width="1.0"/>
<text x="0" y="0" font-size="5.1" text-anchor="end" fill="#1a1a1a" stroke="#1a1a1a" stroke-width="0.12" transform="translate(148.90 573.60) rotate(-45)">6m</text>
<line x1="157.40" y1="566.10" x2="157.40" y2="569.40" stroke="#111" stroke-width="1.0"/>
<text x="0" y="0" font-size="5.1" text-anchor="end" fill="#1a1a1a" stroke="#1a1a1a" stroke-width="0.12" transform="translate(158.40 573.60) rotate(-45)">10m</text>
<line x1="166.90" y1="566.10" x2="166.90" y2="569.40" stroke="#111" stroke-width="1.0"/>
<text x="0" y="0" font-size="5.1" text-anchor="end" fill="#1a1a1a" stroke="#1a1a1a" stroke-width="0.12" transform="translate(167.90 573.60) rotate(-45)">14m</text>
<line x1="176.40" y1="566.10" x2="176.40" y2="569.40" stroke="#111" stroke-width="1.0"/>
<text x="0" y="0" font-size="5.1" text-anchor="end" fill="#1a1a1a" stroke="#1a1a1a" stroke-width="0.12" transform="translate(177.40 573.60) rotate(-45)">18m</text>
<line x1="185.90" y1="566.10" x2="185.90" y2="569.40" stroke="#111" stroke-width="1.0"/>
<text x="0" y="0" font-size="5.1" text-anchor="end" fill="#1a1a1a" stroke="#1a1a1a" stroke-width="0.12" transform="translate(186.90 573.60) rotate(-45)">22m</text>
<line x1="195.40" y1="566.10" x2="195.40" y2="569.40" stroke="#111" stroke-width="1.0"/>
<text x="0" y="0" font-size="5.1" text-anchor="end" fill="#1a1a1a" stroke="#1a1a1a" stroke-width="0.12" transform="translate(196.40 573.60) rotate(-45)">28m</text>
<line x1="204.90" y1="566.10" x2="204.90" y2="569.40" stroke="#111" stroke-width="1.0"/>
<text x="0" y="0" font-size="5.1" text-anchor="end" fill="#1a1a1a" stroke="#1a1a1a" stroke-width="0.12" transform="translate(205.90 573.60) rotate(-45)">36m</text>
<line x1="131.40" y1="556.70" x2="134.80" y2="556.70" stroke="#111" stroke-width="1.0"/>
<text x="128.40" y="558.50" font-size="5.1" text-anchor="end" fill="#1a1a1a" stroke="#1a1a1a" stroke-width="0.14">4</text>
<line x1="131.40" y1="539.10" x2="134.80" y2="539.10" stroke="#111" stroke-width="1.0"/>
<text x="128.40" y="540.90" font-size="5.1" text-anchor="end" fill="#1a1a1a" stroke="#1a1a1a" stroke-width="0.14">6</text>
<line x1="131.40" y1="521.50" x2="134.80" y2="521.50" stroke="#111" stroke-width="1.0"/>
<text x="128.40" y="523.30" font-size="5.1" text-anchor="end" fill="#1a1a1a" stroke="#1a1a1a" stroke-width="0.14">8</text>
<line x1="234.50" y1="512.00" x2="234.50" y2="566.80" stroke="#111" stroke-width="1.5"/>
<line x1="233.80" y1="566.10" x2="306.50" y2="566.10" stroke="#111" stroke-width="1.5"/>
<line x1="238.10" y1="566.10" x2="238.10" y2="569.40" stroke="#111" stroke-width="1.0"/>
<text x="0" y="0" font-size="5.1" text-anchor="end" fill="#1a1a1a" stroke="#1a1a1a" stroke-width="0.12" transform="translate(239.10 573.60) rotate(-45)">2m</text>
<line x1="247.60" y1="566.10" x2="247.60" y2="569.40" stroke="#111" stroke-width="1.0"/>
<text x="0" y="0" font-size="5.1" text-anchor="end" fill="#1a1a1a" stroke="#1a1a1a" stroke-width="0.12" transform="translate(248.60 573.60) rotate(-45)">6m</text>
<line x1="257.10" y1="566.10" x2="257.10" y2="569.40" stroke="#111" stroke-width="1.0"/>
<text x="0" y="0" font-size="5.1" text-anchor="end" fill="#1a1a1a" stroke="#1a1a1a" stroke-width="0.12" transform="translate(258.10 573.60) rotate(-45)">10m</text>
<line x1="266.60" y1="566.10" x2="266.60" y2="569.40" stroke="#111" stroke-width="1.0"/>
<text x="0" y="0" font-size="5.1" text-anchor="end" fill="#1a1a1a" stroke="#1a1a1a" stroke-width="0.12" transform="translate(267.60 573.60) rotate(-45)">14m</text>
<line x1="276.10" y1="566.10" x2="276.10" y2="569.40" stroke="#111" stroke-width="1.0"/>
<text x="0" y="0" font-size="5.1" text-anchor="end" fill="#1a1a1a" stroke="#1a1a1a" stroke-width="0.12" transform="translate(277.10 573.60) rotate(-45)">18m</text>
<line x1="285.60" y1="566.10" x2="285.60" y2="569.40" stroke="#111" stroke-width="1.0"/>
<text x="0" y="0" font-size="5.1" text-anchor="end" fill="#1a1a1a" stroke="#1a1a1a" stroke-width="0.12" transform="translate(286.60 573.60) rotate(-45)">22m</text>
<line x1="295.10" y1="566.10" x2="295.10" y2="569.40" stroke="#111" stroke-width="1.0"/>
<text x="0" y="0" font-size="5.1" text-anchor="end" fill="#1a1a1a" stroke="#1a1a1a" stroke-width="0.12" transform="translate(296.10 573.60) rotate(-45)">28m</text>
<line x1="304.60" y1="566.10" x2="304.60" y2="569.40" stroke="#111" stroke-width="1.0"/>
<text x="0" y="0" font-size="5.1" text-anchor="end" fill="#1a1a1a" stroke="#1a1a1a" stroke-width="0.12" transform="translate(305.60 573.60) rotate(-45)">36m</text>
<line x1="231.10" y1="556.70" x2="234.50" y2="556.70" stroke="#111" stroke-width="1.0"/>
<text x="228.10" y="558.50" font-size="5.1" text-anchor="end" fill="#1a1a1a" stroke="#1a1a1a" stroke-width="0.14">4</text>
<line x1="231.10" y1="539.10" x2="234.50" y2="539.10" stroke="#111" stroke-width="1.0"/>
<text x="228.10" y="540.90" font-size="5.1" text-anchor="end" fill="#1a1a1a" stroke="#1a1a1a" stroke-width="0.14">6</text>
<line x1="231.10" y1="521.50" x2="234.50" y2="521.50" stroke="#111" stroke-width="1.0"/>
<text x="228.10" y="523.30" font-size="5.1" text-anchor="end" fill="#1a1a1a" stroke="#1a1a1a" stroke-width="0.14">8</text>
<line x1="334.50" y1="512.00" x2="334.50" y2="566.80" stroke="#111" stroke-width="1.5"/>
<line x1="333.80" y1="566.10" x2="406.50" y2="566.10" stroke="#111" stroke-width="1.5"/>
<line x1="338.10" y1="566.10" x2="338.10" y2="569.40" stroke="#111" stroke-width="1.0"/>
<text x="0" y="0" font-size="5.1" text-anchor="end" fill="#1a1a1a" stroke="#1a1a1a" stroke-width="0.12" transform="translate(339.10 573.60) rotate(-45)">2m</text>
<line x1="347.60" y1="566.10" x2="347.60" y2="569.40" stroke="#111" stroke-width="1.0"/>
<text x="0" y="0" font-size="5.1" text-anchor="end" fill="#1a1a1a" stroke="#1a1a1a" stroke-width="0.12" transform="translate(348.60 573.60) rotate(-45)">6m</text>
<line x1="357.10" y1="566.10" x2="357.10" y2="569.40" stroke="#111" stroke-width="1.0"/>
<text x="0" y="0" font-size="5.1" text-anchor="end" fill="#1a1a1a" stroke="#1a1a1a" stroke-width="0.12" transform="translate(358.10 573.60) rotate(-45)">10m</text>
<line x1="366.60" y1="566.10" x2="366.60" y2="569.40" stroke="#111" stroke-width="1.0"/>
<text x="0" y="0" font-size="5.1" text-anchor="end" fill="#1a1a1a" stroke="#1a1a1a" stroke-width="0.12" transform="translate(367.60 573.60) rotate(-45)">14m</text>
<line x1="376.10" y1="566.10" x2="376.10" y2="569.40" stroke="#111" stroke-width="1.0"/>
<text x="0" y="0" font-size="5.1" text-anchor="end" fill="#1a1a1a" stroke="#1a1a1a" stroke-width="0.12" transform="translate(377.10 573.60) rotate(-45)">18m</text>
<line x1="385.60" y1="566.10" x2="385.60" y2="569.40" stroke="#111" stroke-width="1.0"/>
<text x="0" y="0" font-size="5.1" text-anchor="end" fill="#1a1a1a" stroke="#1a1a1a" stroke-width="0.12" transform="translate(386.60 573.60) rotate(-45)">22m</text>
<line x1="395.10" y1="566.10" x2="395.10" y2="569.40" stroke="#111" stroke-width="1.0"/>
<text x="0" y="0" font-size="5.1" text-anchor="end" fill="#1a1a1a" stroke="#1a1a1a" stroke-width="0.12" transform="translate(396.10 573.60) rotate(-45)">28m</text>
<line x1="404.60" y1="566.10" x2="404.60" y2="569.40" stroke="#111" stroke-width="1.0"/>
<text x="0" y="0" font-size="5.1" text-anchor="end" fill="#1a1a1a" stroke="#1a1a1a" stroke-width="0.12" transform="translate(405.60 573.60) rotate(-45)">36m</text>
<line x1="331.10" y1="556.70" x2="334.50" y2="556.70" stroke="#111" stroke-width="1.0"/>
<text x="328.10" y="558.50" font-size="5.1" text-anchor="end" fill="#1a1a1a" stroke="#1a1a1a" stroke-width="0.14">4</text>
<line x1="331.10" y1="539.10" x2="334.50" y2="539.10" stroke="#111" stroke-width="1.0"/>
<text x="328.10" y="540.90" font-size="5.1" text-anchor="end" fill="#1a1a1a" stroke="#1a1a1a" stroke-width="0.14">6</text>
<line x1="331.10" y1="521.50" x2="334.50" y2="521.50" stroke="#111" stroke-width="1.0"/>
<text x="328.10" y="523.30" font-size="5.1" text-anchor="end" fill="#1a1a1a" stroke="#1a1a1a" stroke-width="0.14">8</text>
<line x1="434.30" y1="512.00" x2="434.30" y2="566.80" stroke="#111" stroke-width="1.5"/>
<line x1="433.60" y1="566.10" x2="506.30" y2="566.10" stroke="#111" stroke-width="1.5"/>
<line x1="437.90" y1="566.10" x2="437.90" y2="569.40" stroke="#111" stroke-width="1.0"/>
<text x="0" y="0" font-size="5.1" text-anchor="end" fill="#1a1a1a" stroke="#1a1a1a" stroke-width="0.12" transform="translate(438.90 573.60) rotate(-45)">2m</text>
<line x1="447.40" y1="566.10" x2="447.40" y2="569.40" stroke="#111" stroke-width="1.0"/>
<text x="0" y="0" font-size="5.1" text-anchor="end" fill="#1a1a1a" stroke="#1a1a1a" stroke-width="0.12" transform="translate(448.40 573.60) rotate(-45)">6m</text>
<line x1="456.90" y1="566.10" x2="456.90" y2="569.40" stroke="#111" stroke-width="1.0"/>
<text x="0" y="0" font-size="5.1" text-anchor="end" fill="#1a1a1a" stroke="#1a1a1a" stroke-width="0.12" transform="translate(457.90 573.60) rotate(-45)">10m</text>
<line x1="466.40" y1="566.10" x2="466.40" y2="569.40" stroke="#111" stroke-width="1.0"/>
<text x="0" y="0" font-size="5.1" text-anchor="end" fill="#1a1a1a" stroke="#1a1a1a" stroke-width="0.12" transform="translate(467.40 573.60) rotate(-45)">14m</text>
<line x1="475.90" y1="566.10" x2="475.90" y2="569.40" stroke="#111" stroke-width="1.0"/>
<text x="0" y="0" font-size="5.1" text-anchor="end" fill="#1a1a1a" stroke="#1a1a1a" stroke-width="0.12" transform="translate(476.90 573.60) rotate(-45)">18m</text>
<line x1="485.40" y1="566.10" x2="485.40" y2="569.40" stroke="#111" stroke-width="1.0"/>
<text x="0" y="0" font-size="5.1" text-anchor="end" fill="#1a1a1a" stroke="#1a1a1a" stroke-width="0.12" transform="translate(486.40 573.60) rotate(-45)">22m</text>
<line x1="494.90" y1="566.10" x2="494.90" y2="569.40" stroke="#111" stroke-width="1.0"/>
<text x="0" y="0" font-size="5.1" text-anchor="end" fill="#1a1a1a" stroke="#1a1a1a" stroke-width="0.12" transform="translate(495.90 573.60) rotate(-45)">28m</text>
<line x1="504.40" y1="566.10" x2="504.40" y2="569.40" stroke="#111" stroke-width="1.0"/>
<text x="0" y="0" font-size="5.1" text-anchor="end" fill="#1a1a1a" stroke="#1a1a1a" stroke-width="0.12" transform="translate(505.40 573.60) rotate(-45)">36m</text>
<line x1="430.90" y1="556.70" x2="434.30" y2="556.70" stroke="#111" stroke-width="1.0"/>
<text x="427.90" y="558.50" font-size="5.1" text-anchor="end" fill="#1a1a1a" stroke="#1a1a1a" stroke-width="0.14">4</text>
<line x1="430.90" y1="539.10" x2="434.30" y2="539.10" stroke="#111" stroke-width="1.0"/>
<text x="427.90" y="540.90" font-size="5.1" text-anchor="end" fill="#1a1a1a" stroke="#1a1a1a" stroke-width="0.14">6</text>
<line x1="430.90" y1="521.50" x2="434.30" y2="521.50" stroke="#111" stroke-width="1.0"/>
<text x="427.90" y="523.30" font-size="5.1" text-anchor="end" fill="#1a1a1a" stroke="#1a1a1a" stroke-width="0.14">8</text>
<path d="M36.80,293.00 L40.00,297.80 L42.50,310.00 L44.90,297.00 L47.50,295.00 L51.00,300.00 L55.40,287.00 L58.20,292.00 L62.70,286.50 L67.90,290.00 L70.80,283.50 L76.00,284.00 L80.50,284.50 L90.80,285.50 L97.10,285.00 L106.60,281.50" fill="none" stroke="#3a5298" stroke-width="1.3" stroke-linejoin="round"/>
<circle cx="36.80" cy="293.00" r="0.95" fill="#3a5298"/>
<circle cx="40.00" cy="297.80" r="0.95" fill="#3a5298"/>
<circle cx="42.50" cy="310.00" r="0.95" fill="#3a5298"/>
<circle cx="44.90" cy="297.00" r="0.95" fill="#3a5298"/>
<circle cx="47.50" cy="295.00" r="0.95" fill="#3a5298"/>
<circle cx="51.00" cy="300.00" r="0.95" fill="#3a5298"/>
<circle cx="55.40" cy="287.00" r="0.95" fill="#3a5298"/>
<circle cx="58.20" cy="292.00" r="0.95" fill="#3a5298"/>
<circle cx="62.70" cy="286.50" r="0.95" fill="#3a5298"/>
<circle cx="67.90" cy="290.00" r="0.95" fill="#3a5298"/>
<circle cx="70.80" cy="283.50" r="0.95" fill="#3a5298"/>
<circle cx="76.00" cy="284.00" r="0.95" fill="#3a5298"/>
<circle cx="80.50" cy="284.50" r="0.95" fill="#3a5298"/>
<circle cx="90.80" cy="285.50" r="0.95" fill="#3a5298"/>
<circle cx="97.10" cy="285.00" r="0.95" fill="#3a5298"/>
<circle cx="106.60" cy="281.50" r="0.95" fill="#3a5298"/>
<path d="M35.80,279.20 L36.40,288.90 L38.40,291.00 L42.10,291.30 L44.50,294.20 L47.30,293.00 L51.40,305.10 L55.40,286.10 L58.20,290.50 L62.70,285.30 L67.90,288.90 L70.80,282.10 L76.00,282.90 L80.50,283.10 L90.80,283.10 L97.10,282.60 L106.60,280.70" fill="none" stroke="#3e2468" stroke-width="1.3" stroke-linejoin="round"/>
<circle cx="35.80" cy="279.20" r="0.95" fill="#3e2468"/>
<circle cx="36.40" cy="288.90" r="0.95" fill="#3e2468"/>
<circle cx="38.40" cy="291.00" r="0.95" fill="#3e2468"/>
<circle cx="42.10" cy="291.30" r="0.95" fill="#3e2468"/>
<circle cx="44.50" cy="294.20" r="0.95" fill="#3e2468"/>
<circle cx="47.30" cy="293.00" r="0.95" fill="#3e2468"/>
<circle cx="51.40" cy="305.10" r="0.95" fill="#3e2468"/>
<circle cx="55.40" cy="286.10" r="0.95" fill="#3e2468"/>
<circle cx="58.20" cy="290.50" r="0.95" fill="#3e2468"/>
<circle cx="62.70" cy="285.30" r="0.95" fill="#3e2468"/>
<circle cx="67.90" cy="288.90" r="0.95" fill="#3e2468"/>
<circle cx="70.80" cy="282.10" r="0.95" fill="#3e2468"/>
<circle cx="76.00" cy="282.90" r="0.95" fill="#3e2468"/>
<circle cx="80.50" cy="283.10" r="0.95" fill="#3e2468"/>
<circle cx="90.80" cy="283.10" r="0.95" fill="#3e2468"/>
<circle cx="97.10" cy="282.60" r="0.95" fill="#3e2468"/>
<circle cx="106.60" cy="280.70" r="0.95" fill="#3e2468"/>
<path d="M36.00,316.00 L37.20,305.00 L40.00,297.80 L41.70,299.40 L43.50,302.00 L46.90,300.20 L51.00,302.70 L55.00,303.50 L58.20,301.00 L60.70,302.70 L63.90,299.40 L67.90,299.00 L71.20,295.40 L76.00,292.20 L80.50,289.40 L90.80,288.60 L96.30,288.30 L100.20,284.70 L106.60,282.30" fill="none" stroke="#76b654" stroke-width="1.3" stroke-linejoin="round"/>
<circle cx="36.00" cy="316.00" r="0.95" fill="#76b654"/>
<circle cx="37.20" cy="305.00" r="0.95" fill="#76b654"/>
<circle cx="40.00" cy="297.80" r="0.95" fill="#76b654"/>
<circle cx="41.70" cy="299.40" r="0.95" fill="#76b654"/>
<circle cx="43.50" cy="302.00" r="0.95" fill="#76b654"/>
<circle cx="46.90" cy="300.20" r="0.95" fill="#76b654"/>
<circle cx="51.00" cy="302.70" r="0.95" fill="#76b654"/>
<circle cx="55.00" cy="303.50" r="0.95" fill="#76b654"/>
<circle cx="58.20" cy="301.00" r="0.95" fill="#76b654"/>
<circle cx="60.70" cy="302.70" r="0.95" fill="#76b654"/>
<circle cx="63.90" cy="299.40" r="0.95" fill="#76b654"/>
<circle cx="67.90" cy="299.00" r="0.95" fill="#76b654"/>
<circle cx="71.20" cy="295.40" r="0.95" fill="#76b654"/>
<circle cx="76.00" cy="292.20" r="0.95" fill="#76b654"/>
<circle cx="80.50" cy="289.40" r="0.95" fill="#76b654"/>
<circle cx="90.80" cy="288.60" r="0.95" fill="#76b654"/>
<circle cx="96.30" cy="288.30" r="0.95" fill="#76b654"/>
<circle cx="100.20" cy="284.70" r="0.95" fill="#76b654"/>
<circle cx="106.60" cy="282.30" r="0.95" fill="#76b654"/>
<path d="M35.90,332.00 L37.90,329.60 L41.90,328.50 L45.80,335.60 L47.40,335.60 L51.40,327.30 L57.70,321.00 L60.00,322.50 L63.20,316.20 L67.90,318.90 L71.10,313.10 L80.50,306.00 L90.80,303.80 L97.10,303.10 L106.60,301.20" fill="none" stroke="#ac1842" stroke-width="1.3" stroke-linejoin="round"/>
<circle cx="35.90" cy="332.00" r="0.95" fill="#ac1842"/>
<circle cx="37.90" cy="329.60" r="0.95" fill="#ac1842"/>
<circle cx="41.90" cy="328.50" r="0.95" fill="#ac1842"/>
<circle cx="45.80" cy="335.60" r="0.95" fill="#ac1842"/>
<circle cx="47.40" cy="335.60" r="0.95" fill="#ac1842"/>
<circle cx="51.40" cy="327.30" r="0.95" fill="#ac1842"/>
<circle cx="57.70" cy="321.00" r="0.95" fill="#ac1842"/>
<circle cx="60.00" cy="322.50" r="0.95" fill="#ac1842"/>
<circle cx="63.20" cy="316.20" r="0.95" fill="#ac1842"/>
<circle cx="67.90" cy="318.90" r="0.95" fill="#ac1842"/>
<circle cx="71.10" cy="313.10" r="0.95" fill="#ac1842"/>
<circle cx="80.50" cy="306.00" r="0.95" fill="#ac1842"/>
<circle cx="90.80" cy="303.80" r="0.95" fill="#ac1842"/>
<circle cx="97.10" cy="303.10" r="0.95" fill="#ac1842"/>
<circle cx="106.60" cy="301.20" r="0.95" fill="#ac1842"/>
<path d="M135.30,328.00 L138.00,331.00 L150.00,331.50 L170.00,331.60 L200.80,331.00" fill="none" stroke="#3a5298" stroke-width="1.3" stroke-linejoin="round"/>
<circle cx="135.30" cy="328.00" r="0.95" fill="#3a5298"/>
<circle cx="138.00" cy="331.00" r="0.95" fill="#3a5298"/>
<circle cx="150.00" cy="331.50" r="0.95" fill="#3a5298"/>
<circle cx="170.00" cy="331.60" r="0.95" fill="#3a5298"/>
<circle cx="200.80" cy="331.00" r="0.95" fill="#3a5298"/>
<path d="M135.30,326.50 L138.80,330.60 L145.00,331.30 L155.00,331.50 L165.00,331.50 L175.00,331.00 L190.00,330.80 L200.80,330.50" fill="none" stroke="#3e2468" stroke-width="1.3" stroke-linejoin="round"/>
<circle cx="135.30" cy="326.50" r="0.95" fill="#3e2468"/>
<circle cx="138.80" cy="330.60" r="0.95" fill="#3e2468"/>
<circle cx="145.00" cy="331.30" r="0.95" fill="#3e2468"/>
<circle cx="155.00" cy="331.50" r="0.95" fill="#3e2468"/>
<circle cx="165.00" cy="331.50" r="0.95" fill="#3e2468"/>
<circle cx="175.00" cy="331.00" r="0.95" fill="#3e2468"/>
<circle cx="190.00" cy="330.80" r="0.95" fill="#3e2468"/>
<circle cx="200.80" cy="330.50" r="0.95" fill="#3e2468"/>
<path d="M135.50,332.00 L137.60,329.80 L140.70,331.00 L145.00,330.30 L149.00,331.20 L154.00,330.20 L159.00,331.20 L164.50,329.80 L173.00,330.60 L180.00,330.00 L190.00,329.80 L200.80,329.20" fill="none" stroke="#76b654" stroke-width="1.3" stroke-linejoin="round"/>
<circle cx="135.50" cy="332.00" r="0.95" fill="#76b654"/>
<circle cx="137.60" cy="329.80" r="0.95" fill="#76b654"/>
<circle cx="140.70" cy="331.00" r="0.95" fill="#76b654"/>
<circle cx="145.00" cy="330.30" r="0.95" fill="#76b654"/>
<circle cx="149.00" cy="331.20" r="0.95" fill="#76b654"/>
<circle cx="154.00" cy="330.20" r="0.95" fill="#76b654"/>
<circle cx="159.00" cy="331.20" r="0.95" fill="#76b654"/>
<circle cx="164.50" cy="329.80" r="0.95" fill="#76b654"/>
<circle cx="173.00" cy="330.60" r="0.95" fill="#76b654"/>
<circle cx="180.00" cy="330.00" r="0.95" fill="#76b654"/>
<circle cx="190.00" cy="329.80" r="0.95" fill="#76b654"/>
<circle cx="200.80" cy="329.20" r="0.95" fill="#76b654"/>
<path d="M135.50,335.50 L150.00,335.60 L170.00,335.30 L180.00,334.00 L190.00,333.80 L200.80,333.50" fill="none" stroke="#ac1842" stroke-width="1.3" stroke-linejoin="round"/>
<circle cx="135.50" cy="335.50" r="0.95" fill="#ac1842"/>
<circle cx="150.00" cy="335.60" r="0.95" fill="#ac1842"/>
<circle cx="170.00" cy="335.30" r="0.95" fill="#ac1842"/>
<circle cx="180.00" cy="334.00" r="0.95" fill="#ac1842"/>
<circle cx="190.00" cy="333.80" r="0.95" fill="#ac1842"/>
<circle cx="200.80" cy="333.50" r="0.95" fill="#ac1842"/>
<path d="M234.90,319.60 L237.60,318.00 L240.70,320.40 L248.80,320.60 L258.00,320.60 L266.80,319.50 L269.30,317.30 L280.00,317.60 L292.90,318.10 L302.40,318.90" fill="none" stroke="#3a5298" stroke-width="1.3" stroke-linejoin="round"/>
<circle cx="234.90" cy="319.60" r="0.95" fill="#3a5298"/>
<circle cx="237.60" cy="318.00" r="0.95" fill="#3a5298"/>
<circle cx="240.70" cy="320.40" r="0.95" fill="#3a5298"/>
<circle cx="248.80" cy="320.60" r="0.95" fill="#3a5298"/>
<circle cx="258.00" cy="320.60" r="0.95" fill="#3a5298"/>
<circle cx="266.80" cy="319.50" r="0.95" fill="#3a5298"/>
<circle cx="269.30" cy="317.30" r="0.95" fill="#3a5298"/>
<circle cx="280.00" cy="317.60" r="0.95" fill="#3a5298"/>
<circle cx="292.90" cy="318.10" r="0.95" fill="#3a5298"/>
<circle cx="302.40" cy="318.90" r="0.95" fill="#3a5298"/>
<path d="M234.90,311.90 L237.60,316.50 L240.70,320.40 L248.80,321.50 L258.20,321.00 L267.70,320.40 L280.00,321.00 L292.90,319.70 L302.40,320.50" fill="none" stroke="#3e2468" stroke-width="1.3" stroke-linejoin="round"/>
<circle cx="234.90" cy="311.90" r="0.95" fill="#3e2468"/>
<circle cx="237.60" cy="316.50" r="0.95" fill="#3e2468"/>
<circle cx="240.70" cy="320.40" r="0.95" fill="#3e2468"/>
<circle cx="248.80" cy="321.50" r="0.95" fill="#3e2468"/>
<circle cx="258.20" cy="321.00" r="0.95" fill="#3e2468"/>
<circle cx="267.70" cy="320.40" r="0.95" fill="#3e2468"/>
<circle cx="280.00" cy="321.00" r="0.95" fill="#3e2468"/>
<circle cx="292.90" cy="319.70" r="0.95" fill="#3e2468"/>
<circle cx="302.40" cy="320.50" r="0.95" fill="#3e2468"/>
<path d="M235.30,318.80 L238.80,315.00 L241.50,318.50 L244.90,317.30 L248.40,320.40 L253.00,321.20 L258.00,319.60 L262.20,321.20 L266.80,320.40 L273.00,320.00 L280.30,319.70 L287.00,320.00 L292.90,320.40 L297.00,321.00 L302.40,319.70" fill="none" stroke="#76b654" stroke-width="1.3" stroke-linejoin="round"/>
<circle cx="235.30" cy="318.80" r="0.95" fill="#76b654"/>
<circle cx="238.80" cy="315.00" r="0.95" fill="#76b654"/>
<circle cx="241.50" cy="318.50" r="0.95" fill="#76b654"/>
<circle cx="244.90" cy="317.30" r="0.95" fill="#76b654"/>
<circle cx="248.40" cy="320.40" r="0.95" fill="#76b654"/>
<circle cx="253.00" cy="321.20" r="0.95" fill="#76b654"/>
<circle cx="258.00" cy="319.60" r="0.95" fill="#76b654"/>
<circle cx="262.20" cy="321.20" r="0.95" fill="#76b654"/>
<circle cx="266.80" cy="320.40" r="0.95" fill="#76b654"/>
<circle cx="273.00" cy="320.00" r="0.95" fill="#76b654"/>
<circle cx="280.30" cy="319.70" r="0.95" fill="#76b654"/>
<circle cx="287.00" cy="320.00" r="0.95" fill="#76b654"/>
<circle cx="292.90" cy="320.40" r="0.95" fill="#76b654"/>
<circle cx="297.00" cy="321.00" r="0.95" fill="#76b654"/>
<circle cx="302.40" cy="319.70" r="0.95" fill="#76b654"/>
<path d="M234.90,333.50 L239.50,321.50 L242.20,321.20 L245.30,324.20 L249.90,323.50 L257.60,323.50 L264.50,323.50 L269.20,323.10 L280.30,322.50 L292.90,322.00 L296.10,321.20 L302.40,323.60" fill="none" stroke="#ac1842" stroke-width="1.3" stroke-linejoin="round"/>
<circle cx="234.90" cy="333.50" r="0.95" fill="#ac1842"/>
<circle cx="239.50" cy="321.50" r="0.95" fill="#ac1842"/>
<circle cx="242.20" cy="321.20" r="0.95" fill="#ac1842"/>
<circle cx="245.30" cy="324.20" r="0.95" fill="#ac1842"/>
<circle cx="249.90" cy="323.50" r="0.95" fill="#ac1842"/>
<circle cx="257.60" cy="323.50" r="0.95" fill="#ac1842"/>
<circle cx="264.50" cy="323.50" r="0.95" fill="#ac1842"/>
<circle cx="269.20" cy="323.10" r="0.95" fill="#ac1842"/>
<circle cx="280.30" cy="322.50" r="0.95" fill="#ac1842"/>
<circle cx="292.90" cy="322.00" r="0.95" fill="#ac1842"/>
<circle cx="296.10" cy="321.20" r="0.95" fill="#ac1842"/>
<circle cx="302.40" cy="323.60" r="0.95" fill="#ac1842"/>
<path d="M335.40,314.00 L344.80,307.50 L350.40,305.20 L357.40,304.40 L363.80,304.40 L370.10,305.20 L376.40,302.00 L380.30,305.20 L393.70,304.40 L398.50,301.20" fill="none" stroke="#3a5298" stroke-width="1.3" stroke-linejoin="round"/>
<circle cx="335.40" cy="314.00" r="0.95" fill="#3a5298"/>
<circle cx="344.80" cy="307.50" r="0.95" fill="#3a5298"/>
<circle cx="350.40" cy="305.20" r="0.95" fill="#3a5298"/>
<circle cx="357.40" cy="304.40" r="0.95" fill="#3a5298"/>
<circle cx="363.80" cy="304.40" r="0.95" fill="#3a5298"/>
<circle cx="370.10" cy="305.20" r="0.95" fill="#3a5298"/>
<circle cx="376.40" cy="302.00" r="0.95" fill="#3a5298"/>
<circle cx="380.30" cy="305.20" r="0.95" fill="#3a5298"/>
<circle cx="393.70" cy="304.40" r="0.95" fill="#3a5298"/>
<circle cx="398.50" cy="301.20" r="0.95" fill="#3a5298"/>
<path d="M335.40,312.30 L338.50,314.60 L344.80,304.40 L350.40,306.00 L357.40,303.60 L363.80,301.20 L370.10,306.00 L376.40,301.20 L380.30,302.00 L389.00,301.20 L393.70,303.60 L398.50,301.20 L410.30,305.20" fill="none" stroke="#3e2468" stroke-width="1.3" stroke-linejoin="round"/>
<circle cx="335.40" cy="312.30" r="0.95" fill="#3e2468"/>
<circle cx="338.50" cy="314.60" r="0.95" fill="#3e2468"/>
<circle cx="344.80" cy="304.40" r="0.95" fill="#3e2468"/>
<circle cx="350.40" cy="306.00" r="0.95" fill="#3e2468"/>
<circle cx="357.40" cy="303.60" r="0.95" fill="#3e2468"/>
<circle cx="363.80" cy="301.20" r="0.95" fill="#3e2468"/>
<circle cx="370.10" cy="306.00" r="0.95" fill="#3e2468"/>
<circle cx="376.40" cy="301.20" r="0.95" fill="#3e2468"/>
<circle cx="380.30" cy="302.00" r="0.95" fill="#3e2468"/>
<circle cx="389.00" cy="301.20" r="0.95" fill="#3e2468"/>
<circle cx="393.70" cy="303.60" r="0.95" fill="#3e2468"/>
<circle cx="398.50" cy="301.20" r="0.95" fill="#3e2468"/>
<circle cx="410.30" cy="305.20" r="0.95" fill="#3e2468"/>
<path d="M335.40,314.60 L338.50,315.40 L344.80,309.90 L350.40,305.20 L357.40,300.40 L363.80,299.30 L370.10,304.40 L375.60,303.60 L380.30,304.40 L389.00,300.40 L393.70,302.50 L398.50,300.40 L410.30,304.40" fill="none" stroke="#76b654" stroke-width="1.3" stroke-linejoin="round"/>
<circle cx="335.40" cy="314.60" r="0.95" fill="#76b654"/>
<circle cx="338.50" cy="315.40" r="0.95" fill="#76b654"/>
<circle cx="344.80" cy="309.90" r="0.95" fill="#76b654"/>
<circle cx="350.40" cy="305.20" r="0.95" fill="#76b654"/>
<circle cx="357.40" cy="300.40" r="0.95" fill="#76b654"/>
<circle cx="363.80" cy="299.30" r="0.95" fill="#76b654"/>
<circle cx="370.10" cy="304.40" r="0.95" fill="#76b654"/>
<circle cx="375.60" cy="303.60" r="0.95" fill="#76b654"/>
<circle cx="380.30" cy="304.40" r="0.95" fill="#76b654"/>
<circle cx="389.00" cy="300.40" r="0.95" fill="#76b654"/>
<circle cx="393.70" cy="302.50" r="0.95" fill="#76b654"/>
<circle cx="398.50" cy="300.40" r="0.95" fill="#76b654"/>
<circle cx="410.30" cy="304.40" r="0.95" fill="#76b654"/>
<path d="M335.40,335.10 L338.50,335.10 L340.90,326.50 L344.80,322.50 L350.40,315.40 L357.40,308.30 L363.80,307.50 L370.10,311.50 L375.60,304.40 L380.30,308.30 L389.00,308.30 L393.70,306.80 L399.20,308.30 L410.30,308.60" fill="none" stroke="#ac1842" stroke-width="1.3" stroke-linejoin="round"/>
<circle cx="335.40" cy="335.10" r="0.95" fill="#ac1842"/>
<circle cx="338.50" cy="335.10" r="0.95" fill="#ac1842"/>
<circle cx="340.90" cy="326.50" r="0.95" fill="#ac1842"/>
<circle cx="344.80" cy="322.50" r="0.95" fill="#ac1842"/>
<circle cx="350.40" cy="315.40" r="0.95" fill="#ac1842"/>
<circle cx="357.40" cy="308.30" r="0.95" fill="#ac1842"/>
<circle cx="363.80" cy="307.50" r="0.95" fill="#ac1842"/>
<circle cx="370.10" cy="311.50" r="0.95" fill="#ac1842"/>
<circle cx="375.60" cy="304.40" r="0.95" fill="#ac1842"/>
<circle cx="380.30" cy="308.30" r="0.95" fill="#ac1842"/>
<circle cx="389.00" cy="308.30" r="0.95" fill="#ac1842"/>
<circle cx="393.70" cy="306.80" r="0.95" fill="#ac1842"/>
<circle cx="399.20" cy="308.30" r="0.95" fill="#ac1842"/>
<circle cx="410.30" cy="308.60" r="0.95" fill="#ac1842"/>
<path d="M438.30,284.00 L450.90,291.80 L465.10,291.00 L473.00,291.80 L480.90,291.80" fill="none" stroke="#3a5298" stroke-width="1.3" stroke-linejoin="round"/>
<circle cx="438.30" cy="284.00" r="0.95" fill="#3a5298"/>
<circle cx="450.90" cy="291.80" r="0.95" fill="#3a5298"/>
<circle cx="465.10" cy="291.00" r="0.95" fill="#3a5298"/>
<circle cx="473.00" cy="291.80" r="0.95" fill="#3a5298"/>
<circle cx="480.90" cy="291.80" r="0.95" fill="#3a5298"/>
<path d="M438.30,283.10 L450.90,290.20 L465.10,290.20 L473.00,291.00 L480.90,288.60" fill="none" stroke="#3e2468" stroke-width="1.3" stroke-linejoin="round"/>
<circle cx="438.30" cy="283.10" r="0.95" fill="#3e2468"/>
<circle cx="450.90" cy="290.20" r="0.95" fill="#3e2468"/>
<circle cx="465.10" cy="290.20" r="0.95" fill="#3e2468"/>
<circle cx="473.00" cy="291.00" r="0.95" fill="#3e2468"/>
<circle cx="480.90" cy="288.60" r="0.95" fill="#3e2468"/>
<path d="M438.30,283.60 L450.90,289.40 L465.10,288.60 L473.00,288.30 L480.90,287.80" fill="none" stroke="#76b654" stroke-width="1.3" stroke-linejoin="round"/>
<circle cx="438.30" cy="283.60" r="0.95" fill="#76b654"/>
<circle cx="450.90" cy="289.40" r="0.95" fill="#76b654"/>
<circle cx="465.10" cy="288.60" r="0.95" fill="#76b654"/>
<circle cx="473.00" cy="288.30" r="0.95" fill="#76b654"/>
<circle cx="480.90" cy="287.80" r="0.95" fill="#76b654"/>
<path d="M438.30,323.30 L450.90,302.00 L465.10,299.70 L473.00,297.30 L480.90,291.80" fill="none" stroke="#ac1842" stroke-width="1.3" stroke-linejoin="round"/>
<circle cx="438.30" cy="323.30" r="0.95" fill="#ac1842"/>
<circle cx="450.90" cy="302.00" r="0.95" fill="#ac1842"/>
<circle cx="465.10" cy="299.70" r="0.95" fill="#ac1842"/>
<circle cx="473.00" cy="297.30" r="0.95" fill="#ac1842"/>
<circle cx="480.90" cy="291.80" r="0.95" fill="#ac1842"/>
<path d="M36.80,402.70 L41.10,384.00 L46.60,381.40 L57.70,380.70 L65.50,379.10 L101.80,379.10" fill="none" stroke="#3a5298" stroke-width="1.3" stroke-linejoin="round"/>
<circle cx="36.80" cy="402.70" r="0.95" fill="#3a5298"/>
<circle cx="41.50" cy="383.81" r="0.95" fill="#3a5298"/>
<circle cx="46.20" cy="381.59" r="0.95" fill="#3a5298"/>
<circle cx="50.90" cy="381.13" r="0.95" fill="#3a5298"/>
<circle cx="55.60" cy="380.83" r="0.95" fill="#3a5298"/>
<circle cx="60.30" cy="380.17" r="0.95" fill="#3a5298"/>
<circle cx="65.00" cy="379.20" r="0.95" fill="#3a5298"/>
<circle cx="69.70" cy="379.10" r="0.95" fill="#3a5298"/>
<circle cx="74.40" cy="379.10" r="0.95" fill="#3a5298"/>
<circle cx="79.10" cy="379.10" r="0.95" fill="#3a5298"/>
<circle cx="83.80" cy="379.10" r="0.95" fill="#3a5298"/>
<circle cx="88.50" cy="379.10" r="0.95" fill="#3a5298"/>
<circle cx="93.20" cy="379.10" r="0.95" fill="#3a5298"/>
<circle cx="97.90" cy="379.10" r="0.95" fill="#3a5298"/>
<circle cx="101.80" cy="379.10" r="0.95" fill="#3a5298"/>
<path d="M36.80,401.20 L40.30,383.80 L43.50,379.10 L49.80,377.50 L65.50,376.70 L101.80,376.70" fill="none" stroke="#3e2468" stroke-width="1.3" stroke-linejoin="round"/>
<circle cx="36.80" cy="401.20" r="0.95" fill="#3e2468"/>
<circle cx="41.50" cy="382.04" r="0.95" fill="#3e2468"/>
<circle cx="46.20" cy="378.41" r="0.95" fill="#3e2468"/>
<circle cx="50.90" cy="377.44" r="0.95" fill="#3e2468"/>
<circle cx="55.60" cy="377.20" r="0.95" fill="#3e2468"/>
<circle cx="60.30" cy="376.96" r="0.95" fill="#3e2468"/>
<circle cx="65.00" cy="376.73" r="0.95" fill="#3e2468"/>
<circle cx="69.70" cy="376.70" r="0.95" fill="#3e2468"/>
<circle cx="74.40" cy="376.70" r="0.95" fill="#3e2468"/>
<circle cx="79.10" cy="376.70" r="0.95" fill="#3e2468"/>
<circle cx="83.80" cy="376.70" r="0.95" fill="#3e2468"/>
<circle cx="88.50" cy="376.70" r="0.95" fill="#3e2468"/>
<circle cx="93.20" cy="376.70" r="0.95" fill="#3e2468"/>
<circle cx="97.90" cy="376.70" r="0.95" fill="#3e2468"/>
<circle cx="101.80" cy="376.70" r="0.95" fill="#3e2468"/>
<path d="M36.80,399.60 L40.30,388.50 L43.50,379.90 L49.80,375.10 L57.70,373.60 L65.50,372.80 L81.30,372.50 L101.80,372.00" fill="none" stroke="#76b654" stroke-width="1.3" stroke-linejoin="round"/>
<circle cx="36.80" cy="399.60" r="0.95" fill="#76b654"/>
<circle cx="41.50" cy="385.27" r="0.95" fill="#76b654"/>
<circle cx="46.20" cy="377.84" r="0.95" fill="#76b654"/>
<circle cx="50.90" cy="374.89" r="0.95" fill="#76b654"/>
<circle cx="55.60" cy="374.00" r="0.95" fill="#76b654"/>
<circle cx="60.30" cy="373.33" r="0.95" fill="#76b654"/>
<circle cx="65.00" cy="372.85" r="0.95" fill="#76b654"/>
<circle cx="69.70" cy="372.72" r="0.95" fill="#76b654"/>
<circle cx="74.40" cy="372.63" r="0.95" fill="#76b654"/>
<circle cx="79.10" cy="372.54" r="0.95" fill="#76b654"/>
<circle cx="83.80" cy="372.44" r="0.95" fill="#76b654"/>
<circle cx="88.50" cy="372.32" r="0.95" fill="#76b654"/>
<circle cx="93.20" cy="372.21" r="0.95" fill="#76b654"/>
<circle cx="97.90" cy="372.10" r="0.95" fill="#76b654"/>
<circle cx="101.80" cy="372.00" r="0.95" fill="#76b654"/>
<path d="M36.80,407.50 L40.30,396.40 L43.50,390.10 L49.80,385.40 L57.70,384.60 L65.50,383.00 L73.40,382.20 L101.80,381.40" fill="none" stroke="#ac1842" stroke-width="1.3" stroke-linejoin="round"/>
<circle cx="36.80" cy="407.50" r="0.95" fill="#ac1842"/>
<circle cx="41.50" cy="394.04" r="0.95" fill="#ac1842"/>
<circle cx="46.20" cy="388.09" r="0.95" fill="#ac1842"/>
<circle cx="50.90" cy="385.29" r="0.95" fill="#ac1842"/>
<circle cx="55.60" cy="384.81" r="0.95" fill="#ac1842"/>
<circle cx="60.30" cy="384.07" r="0.95" fill="#ac1842"/>
<circle cx="65.00" cy="383.10" r="0.95" fill="#ac1842"/>
<circle cx="69.70" cy="382.57" r="0.95" fill="#ac1842"/>
<circle cx="74.40" cy="382.17" r="0.95" fill="#ac1842"/>
<circle cx="79.10" cy="382.04" r="0.95" fill="#ac1842"/>
<circle cx="83.80" cy="381.91" r="0.95" fill="#ac1842"/>
<circle cx="88.50" cy="381.77" r="0.95" fill="#ac1842"/>
<circle cx="93.20" cy="381.64" r="0.95" fill="#ac1842"/>
<circle cx="97.90" cy="381.51" r="0.95" fill="#ac1842"/>
<circle cx="101.80" cy="381.40" r="0.95" fill="#ac1842"/>
<path d="M36.80,382.20 L38.70,372.00 L41.10,367.30 L45.00,364.90 L49.80,364.10 L101.80,364.10" fill="none" stroke="#111111" stroke-width="1.3" stroke-linejoin="round"/>
<circle cx="36.80" cy="382.20" r="0.95" fill="#111111"/>
<circle cx="41.50" cy="367.05" r="0.95" fill="#111111"/>
<circle cx="46.20" cy="364.70" r="0.95" fill="#111111"/>
<circle cx="50.90" cy="364.10" r="0.95" fill="#111111"/>
<circle cx="55.60" cy="364.10" r="0.95" fill="#111111"/>
<circle cx="60.30" cy="364.10" r="0.95" fill="#111111"/>
<circle cx="65.00" cy="364.10" r="0.95" fill="#111111"/>
<circle cx="69.70" cy="364.10" r="0.95" fill="#111111"/>
<circle cx="74.40" cy="364.10" r="0.95" fill="#111111"/>
<circle cx="79.10" cy="364.10" r="0.95" fill="#111111"/>
<circle cx="83.80" cy="364.10" r="0.95" fill="#111111"/>
<circle cx="88.50" cy="364.10" r="0.95" fill="#111111"/>
<circle cx="93.20" cy="364.10" r="0.95" fill="#111111"/>
<circle cx="97.90" cy="364.10" r="0.95" fill="#111111"/>
<circle cx="101.80" cy="364.10" r="0.95" fill="#111111"/>
<path d="M135.80,395.00 L138.50,391.00 L141.70,389.50 L148.80,388.80 L195.30,388.80" fill="none" stroke="#3a5298" stroke-width="1.3" stroke-linejoin="round"/>
<circle cx="135.80" cy="395.00" r="0.95" fill="#3a5298"/>
<circle cx="140.50" cy="390.06" r="0.95" fill="#3a5298"/>
<circle cx="145.20" cy="389.15" r="0.95" fill="#3a5298"/>
<circle cx="149.90" cy="388.80" r="0.95" fill="#3a5298"/>
<circle cx="154.60" cy="388.80" r="0.95" fill="#3a5298"/>
<circle cx="159.30" cy="388.80" r="0.95" fill="#3a5298"/>
<circle cx="164.00" cy="388.80" r="0.95" fill="#3a5298"/>
<circle cx="168.70" cy="388.80" r="0.95" fill="#3a5298"/>
<circle cx="173.40" cy="388.80" r="0.95" fill="#3a5298"/>
<circle cx="178.10" cy="388.80" r="0.95" fill="#3a5298"/>
<circle cx="182.80" cy="388.80" r="0.95" fill="#3a5298"/>
<circle cx="187.50" cy="388.80" r="0.95" fill="#3a5298"/>
<circle cx="192.20" cy="388.80" r="0.95" fill="#3a5298"/>
<circle cx="195.30" cy="388.80" r="0.95" fill="#3a5298"/>
<path d="M135.80,394.90 L138.50,390.90 L141.70,389.30 L148.80,388.50 L195.30,388.50" fill="none" stroke="#3e2468" stroke-width="1.3" stroke-linejoin="round"/>
<circle cx="135.80" cy="394.90" r="0.95" fill="#3e2468"/>
<circle cx="140.50" cy="389.90" r="0.95" fill="#3e2468"/>
<circle cx="145.20" cy="388.91" r="0.95" fill="#3e2468"/>
<circle cx="149.90" cy="388.50" r="0.95" fill="#3e2468"/>
<circle cx="154.60" cy="388.50" r="0.95" fill="#3e2468"/>
<circle cx="159.30" cy="388.50" r="0.95" fill="#3e2468"/>
<circle cx="164.00" cy="388.50" r="0.95" fill="#3e2468"/>
<circle cx="168.70" cy="388.50" r="0.95" fill="#3e2468"/>
<circle cx="173.40" cy="388.50" r="0.95" fill="#3e2468"/>
<circle cx="178.10" cy="388.50" r="0.95" fill="#3e2468"/>
<circle cx="182.80" cy="388.50" r="0.95" fill="#3e2468"/>
<circle cx="187.50" cy="388.50" r="0.95" fill="#3e2468"/>
<circle cx="192.20" cy="388.50" r="0.95" fill="#3e2468"/>
<circle cx="195.30" cy="388.50" r="0.95" fill="#3e2468"/>
<path d="M135.80,404.30 L139.30,398.00 L144.00,391.70 L151.90,389.30 L195.30,389.30" fill="none" stroke="#76b654" stroke-width="1.3" stroke-linejoin="round"/>
<circle cx="135.80" cy="404.30" r="0.95" fill="#76b654"/>
<circle cx="140.50" cy="396.39" r="0.95" fill="#76b654"/>
<circle cx="145.20" cy="391.34" r="0.95" fill="#76b654"/>
<circle cx="149.90" cy="389.91" r="0.95" fill="#76b654"/>
<circle cx="154.60" cy="389.30" r="0.95" fill="#76b654"/>
<circle cx="159.30" cy="389.30" r="0.95" fill="#76b654"/>
<circle cx="164.00" cy="389.30" r="0.95" fill="#76b654"/>
<circle cx="168.70" cy="389.30" r="0.95" fill="#76b654"/>
<circle cx="173.40" cy="389.30" r="0.95" fill="#76b654"/>
<circle cx="178.10" cy="389.30" r="0.95" fill="#76b654"/>
<circle cx="182.80" cy="389.30" r="0.95" fill="#76b654"/>
<circle cx="187.50" cy="389.30" r="0.95" fill="#76b654"/>
<circle cx="192.20" cy="389.30" r="0.95" fill="#76b654"/>
<circle cx="195.30" cy="389.30" r="0.95" fill="#76b654"/>
<path d="M135.80,411.40 L140.90,407.50 L144.80,404.30 L148.80,402.70 L156.70,402.00 L195.30,401.20" fill="none" stroke="#ac1842" stroke-width="1.3" stroke-linejoin="round"/>
<circle cx="135.80" cy="411.40" r="0.95" fill="#ac1842"/>
<circle cx="140.50" cy="407.81" r="0.95" fill="#ac1842"/>
<circle cx="145.20" cy="404.14" r="0.95" fill="#ac1842"/>
<circle cx="149.90" cy="402.60" r="0.95" fill="#ac1842"/>
<circle cx="154.60" cy="402.19" r="0.95" fill="#ac1842"/>
<circle cx="159.30" cy="401.95" r="0.95" fill="#ac1842"/>
<circle cx="164.00" cy="401.85" r="0.95" fill="#ac1842"/>
<circle cx="168.70" cy="401.75" r="0.95" fill="#ac1842"/>
<circle cx="173.40" cy="401.65" r="0.95" fill="#ac1842"/>
<circle cx="178.10" cy="401.56" r="0.95" fill="#ac1842"/>
<circle cx="182.80" cy="401.46" r="0.95" fill="#ac1842"/>
<circle cx="187.50" cy="401.36" r="0.95" fill="#ac1842"/>
<circle cx="192.20" cy="401.26" r="0.95" fill="#ac1842"/>
<circle cx="195.30" cy="401.20" r="0.95" fill="#ac1842"/>
<path d="M135.80,394.10 L138.50,379.90 L141.70,376.70 L145.60,375.10 L156.70,374.40 L195.30,373.60" fill="none" stroke="#111111" stroke-width="1.3" stroke-linejoin="round"/>
<circle cx="135.80" cy="394.10" r="0.95" fill="#111111"/>
<circle cx="140.50" cy="377.90" r="0.95" fill="#111111"/>
<circle cx="145.20" cy="375.26" r="0.95" fill="#111111"/>
<circle cx="149.90" cy="374.83" r="0.95" fill="#111111"/>
<circle cx="154.60" cy="374.53" r="0.95" fill="#111111"/>
<circle cx="159.30" cy="374.35" r="0.95" fill="#111111"/>
<circle cx="164.00" cy="374.25" r="0.95" fill="#111111"/>
<circle cx="168.70" cy="374.15" r="0.95" fill="#111111"/>
<circle cx="173.40" cy="374.05" r="0.95" fill="#111111"/>
<circle cx="178.10" cy="373.96" r="0.95" fill="#111111"/>
<circle cx="182.80" cy="373.86" r="0.95" fill="#111111"/>
<circle cx="187.50" cy="373.76" r="0.95" fill="#111111"/>
<circle cx="192.20" cy="373.66" r="0.95" fill="#111111"/>
<circle cx="195.30" cy="373.60" r="0.95" fill="#111111"/>
<path d="M235.40,407.50 L241.70,396.40 L260.00,395.60 L283.50,394.10 L297.70,392.00" fill="none" stroke="#3a5298" stroke-width="1.3" stroke-linejoin="round"/>
<circle cx="235.40" cy="407.50" r="0.95" fill="#3a5298"/>
<circle cx="240.10" cy="399.22" r="0.95" fill="#3a5298"/>
<circle cx="244.80" cy="396.26" r="0.95" fill="#3a5298"/>
<circle cx="249.50" cy="396.06" r="0.95" fill="#3a5298"/>
<circle cx="254.20" cy="395.85" r="0.95" fill="#3a5298"/>
<circle cx="258.90" cy="395.65" r="0.95" fill="#3a5298"/>
<circle cx="263.60" cy="395.37" r="0.95" fill="#3a5298"/>
<circle cx="268.30" cy="395.07" r="0.95" fill="#3a5298"/>
<circle cx="273.00" cy="394.77" r="0.95" fill="#3a5298"/>
<circle cx="277.70" cy="394.47" r="0.95" fill="#3a5298"/>
<circle cx="282.40" cy="394.17" r="0.95" fill="#3a5298"/>
<circle cx="287.10" cy="393.57" r="0.95" fill="#3a5298"/>
<circle cx="291.80" cy="392.87" r="0.95" fill="#3a5298"/>
<circle cx="296.50" cy="392.18" r="0.95" fill="#3a5298"/>
<circle cx="297.70" cy="392.00" r="0.95" fill="#3a5298"/>
<path d="M235.40,409.00 L237.70,399.60 L241.70,395.60 L248.80,395.20 L283.50,394.50 L297.70,394.90" fill="none" stroke="#3e2468" stroke-width="1.3" stroke-linejoin="round"/>
<circle cx="235.40" cy="409.00" r="0.95" fill="#3e2468"/>
<circle cx="240.10" cy="397.20" r="0.95" fill="#3e2468"/>
<circle cx="244.80" cy="395.43" r="0.95" fill="#3e2468"/>
<circle cx="249.50" cy="395.19" r="0.95" fill="#3e2468"/>
<circle cx="254.20" cy="395.09" r="0.95" fill="#3e2468"/>
<circle cx="258.90" cy="395.00" r="0.95" fill="#3e2468"/>
<circle cx="263.60" cy="394.90" r="0.95" fill="#3e2468"/>
<circle cx="268.30" cy="394.81" r="0.95" fill="#3e2468"/>
<circle cx="273.00" cy="394.71" r="0.95" fill="#3e2468"/>
<circle cx="277.70" cy="394.62" r="0.95" fill="#3e2468"/>
<circle cx="282.40" cy="394.52" r="0.95" fill="#3e2468"/>
<circle cx="287.10" cy="394.60" r="0.95" fill="#3e2468"/>
<circle cx="291.80" cy="394.73" r="0.95" fill="#3e2468"/>
<circle cx="296.50" cy="394.87" r="0.95" fill="#3e2468"/>
<circle cx="297.70" cy="394.90" r="0.95" fill="#3e2468"/>
<path d="M235.40,396.40 L239.30,390.10 L244.00,386.20 L256.70,385.40 L283.50,385.10 L288.20,383.00 L297.70,382.20" fill="none" stroke="#76b654" stroke-width="1.3" stroke-linejoin="round"/>
<circle cx="235.40" cy="396.40" r="0.95" fill="#76b654"/>
<circle cx="240.10" cy="389.44" r="0.95" fill="#76b654"/>
<circle cx="244.80" cy="386.15" r="0.95" fill="#76b654"/>
<circle cx="249.50" cy="385.85" r="0.95" fill="#76b654"/>
<circle cx="254.20" cy="385.56" r="0.95" fill="#76b654"/>
<circle cx="258.90" cy="385.38" r="0.95" fill="#76b654"/>
<circle cx="263.60" cy="385.32" r="0.95" fill="#76b654"/>
<circle cx="268.30" cy="385.27" r="0.95" fill="#76b654"/>
<circle cx="273.00" cy="385.22" r="0.95" fill="#76b654"/>
<circle cx="277.70" cy="385.16" r="0.95" fill="#76b654"/>
<circle cx="282.40" cy="385.11" r="0.95" fill="#76b654"/>
<circle cx="287.10" cy="383.49" r="0.95" fill="#76b654"/>
<circle cx="291.80" cy="382.70" r="0.95" fill="#76b654"/>
<circle cx="296.50" cy="382.30" r="0.95" fill="#76b654"/>
<circle cx="297.70" cy="382.20" r="0.95" fill="#76b654"/>
<path d="M235.40,410.60 L237.70,399.60 L241.70,393.30 L248.80,390.90 L264.50,389.30 L283.50,388.50 L297.70,386.70" fill="none" stroke="#ac1842" stroke-width="1.3" stroke-linejoin="round"/>
<circle cx="235.40" cy="410.60" r="0.95" fill="#ac1842"/>
<circle cx="240.10" cy="395.82" r="0.95" fill="#ac1842"/>
<circle cx="244.80" cy="392.25" r="0.95" fill="#ac1842"/>
<circle cx="249.50" cy="390.83" r="0.95" fill="#ac1842"/>
<circle cx="254.20" cy="390.35" r="0.95" fill="#ac1842"/>
<circle cx="258.90" cy="389.87" r="0.95" fill="#ac1842"/>
<circle cx="263.60" cy="389.39" r="0.95" fill="#ac1842"/>
<circle cx="268.30" cy="389.14" r="0.95" fill="#ac1842"/>
<circle cx="273.00" cy="388.94" r="0.95" fill="#ac1842"/>
<circle cx="277.70" cy="388.74" r="0.95" fill="#ac1842"/>
<circle cx="282.40" cy="388.55" r="0.95" fill="#ac1842"/>
<circle cx="287.10" cy="388.04" r="0.95" fill="#ac1842"/>
<circle cx="291.80" cy="387.45" r="0.95" fill="#ac1842"/>
<circle cx="296.50" cy="386.85" r="0.95" fill="#ac1842"/>
<circle cx="297.70" cy="386.70" r="0.95" fill="#ac1842"/>
<path d="M235.40,394.10 L238.50,389.30 L241.70,386.20 L244.00,377.20 L253.50,376.70 L263.00,375.50 L283.50,375.10 L296.10,374.40 L297.70,373.60" fill="none" stroke="#111111" stroke-width="1.3" stroke-linejoin="round"/>
<circle cx="235.40" cy="394.10" r="0.95" fill="#111111"/>
<circle cx="240.10" cy="387.75" r="0.95" fill="#111111"/>
<circle cx="244.80" cy="377.16" r="0.95" fill="#111111"/>
<circle cx="249.50" cy="376.91" r="0.95" fill="#111111"/>
<circle cx="254.20" cy="376.61" r="0.95" fill="#111111"/>
<circle cx="258.90" cy="376.02" r="0.95" fill="#111111"/>
<circle cx="263.60" cy="375.49" r="0.95" fill="#111111"/>
<circle cx="268.30" cy="375.40" r="0.95" fill="#111111"/>
<circle cx="273.00" cy="375.30" r="0.95" fill="#111111"/>
<circle cx="277.70" cy="375.21" r="0.95" fill="#111111"/>
<circle cx="282.40" cy="375.12" r="0.95" fill="#111111"/>
<circle cx="287.10" cy="374.90" r="0.95" fill="#111111"/>
<circle cx="291.80" cy="374.64" r="0.95" fill="#111111"/>
<circle cx="296.50" cy="374.20" r="0.95" fill="#111111"/>
<circle cx="297.70" cy="373.60" r="0.95" fill="#111111"/>
<path d="M335.40,409.50 L339.30,403.00 L344.00,399.60 L361.40,399.60 L404.00,399.30" fill="none" stroke="#3a5298" stroke-width="1.3" stroke-linejoin="round"/>
<circle cx="335.40" cy="409.50" r="0.95" fill="#3a5298"/>
<circle cx="340.10" cy="402.42" r="0.95" fill="#3a5298"/>
<circle cx="344.80" cy="399.60" r="0.95" fill="#3a5298"/>
<circle cx="349.50" cy="399.60" r="0.95" fill="#3a5298"/>
<circle cx="354.20" cy="399.60" r="0.95" fill="#3a5298"/>
<circle cx="358.90" cy="399.60" r="0.95" fill="#3a5298"/>
<circle cx="363.60" cy="399.58" r="0.95" fill="#3a5298"/>
<circle cx="368.30" cy="399.55" r="0.95" fill="#3a5298"/>
<circle cx="373.00" cy="399.52" r="0.95" fill="#3a5298"/>
<circle cx="377.70" cy="399.49" r="0.95" fill="#3a5298"/>
<circle cx="382.40" cy="399.45" r="0.95" fill="#3a5298"/>
<circle cx="387.10" cy="399.42" r="0.95" fill="#3a5298"/>
<circle cx="391.80" cy="399.39" r="0.95" fill="#3a5298"/>
<circle cx="396.50" cy="399.35" r="0.95" fill="#3a5298"/>
<circle cx="401.20" cy="399.32" r="0.95" fill="#3a5298"/>
<circle cx="404.00" cy="399.30" r="0.95" fill="#3a5298"/>
<path d="M335.40,409.50 L339.30,403.00 L344.00,398.80 L372.40,398.30 L404.00,398.30" fill="none" stroke="#3e2468" stroke-width="1.3" stroke-linejoin="round"/>
<circle cx="335.40" cy="409.50" r="0.95" fill="#3e2468"/>
<circle cx="340.10" cy="402.29" r="0.95" fill="#3e2468"/>
<circle cx="344.80" cy="398.79" r="0.95" fill="#3e2468"/>
<circle cx="349.50" cy="398.70" r="0.95" fill="#3e2468"/>
<circle cx="354.20" cy="398.62" r="0.95" fill="#3e2468"/>
<circle cx="358.90" cy="398.54" r="0.95" fill="#3e2468"/>
<circle cx="363.60" cy="398.45" r="0.95" fill="#3e2468"/>
<circle cx="368.30" cy="398.37" r="0.95" fill="#3e2468"/>
<circle cx="373.00" cy="398.30" r="0.95" fill="#3e2468"/>
<circle cx="377.70" cy="398.30" r="0.95" fill="#3e2468"/>
<circle cx="382.40" cy="398.30" r="0.95" fill="#3e2468"/>
<circle cx="387.10" cy="398.30" r="0.95" fill="#3e2468"/>
<circle cx="391.80" cy="398.30" r="0.95" fill="#3e2468"/>
<circle cx="396.50" cy="398.30" r="0.95" fill="#3e2468"/>
<circle cx="401.20" cy="398.30" r="0.95" fill="#3e2468"/>
<circle cx="404.00" cy="398.30" r="0.95" fill="#3e2468"/>
<path d="M335.40,408.50 L339.30,402.00 L344.00,397.70 L372.40,396.40 L404.00,396.40" fill="none" stroke="#76b654" stroke-width="1.3" stroke-linejoin="round"/>
<circle cx="335.40" cy="408.50" r="0.95" fill="#76b654"/>
<circle cx="340.10" cy="401.27" r="0.95" fill="#76b654"/>
<circle cx="344.80" cy="397.66" r="0.95" fill="#76b654"/>
<circle cx="349.50" cy="397.45" r="0.95" fill="#76b654"/>
<circle cx="354.20" cy="397.23" r="0.95" fill="#76b654"/>
<circle cx="358.90" cy="397.02" r="0.95" fill="#76b654"/>
<circle cx="363.60" cy="396.80" r="0.95" fill="#76b654"/>
<circle cx="368.30" cy="396.59" r="0.95" fill="#76b654"/>
<circle cx="373.00" cy="396.40" r="0.95" fill="#76b654"/>
<circle cx="377.70" cy="396.40" r="0.95" fill="#76b654"/>
<circle cx="382.40" cy="396.40" r="0.95" fill="#76b654"/>
<circle cx="387.10" cy="396.40" r="0.95" fill="#76b654"/>
<circle cx="391.80" cy="396.40" r="0.95" fill="#76b654"/>
<circle cx="396.50" cy="396.40" r="0.95" fill="#76b654"/>
<circle cx="401.20" cy="396.40" r="0.95" fill="#76b654"/>
<circle cx="404.00" cy="396.40" r="0.95" fill="#76b654"/>
<path d="M335.40,409.00 L339.30,402.70 L344.00,398.00 L356.70,397.20 L372.40,396.40 L404.00,395.60" fill="none" stroke="#ac1842" stroke-width="1.3" stroke-linejoin="round"/>
<circle cx="335.40" cy="409.00" r="0.95" fill="#ac1842"/>
<circle cx="340.10" cy="401.90" r="0.95" fill="#ac1842"/>
<circle cx="344.80" cy="397.95" r="0.95" fill="#ac1842"/>
<circle cx="349.50" cy="397.65" r="0.95" fill="#ac1842"/>
<circle cx="354.20" cy="397.36" r="0.95" fill="#ac1842"/>
<circle cx="358.90" cy="397.09" r="0.95" fill="#ac1842"/>
<circle cx="363.60" cy="396.85" r="0.95" fill="#ac1842"/>
<circle cx="368.30" cy="396.61" r="0.95" fill="#ac1842"/>
<circle cx="373.00" cy="396.38" r="0.95" fill="#ac1842"/>
<circle cx="377.70" cy="396.27" r="0.95" fill="#ac1842"/>
<circle cx="382.40" cy="396.15" r="0.95" fill="#ac1842"/>
<circle cx="387.10" cy="396.03" r="0.95" fill="#ac1842"/>
<circle cx="391.80" cy="395.91" r="0.95" fill="#ac1842"/>
<circle cx="396.50" cy="395.79" r="0.95" fill="#ac1842"/>
<circle cx="401.20" cy="395.67" r="0.95" fill="#ac1842"/>
<circle cx="404.00" cy="395.60" r="0.95" fill="#ac1842"/>
<path d="M335.40,399.60 L337.70,389.30 L340.90,387.00 L348.80,386.50 L404.00,386.50" fill="none" stroke="#111111" stroke-width="1.3" stroke-linejoin="round"/>
<circle cx="335.40" cy="399.60" r="0.95" fill="#111111"/>
<circle cx="340.10" cy="387.57" r="0.95" fill="#111111"/>
<circle cx="344.80" cy="386.75" r="0.95" fill="#111111"/>
<circle cx="349.50" cy="386.50" r="0.95" fill="#111111"/>
<circle cx="354.20" cy="386.50" r="0.95" fill="#111111"/>
<circle cx="358.90" cy="386.50" r="0.95" fill="#111111"/>
<circle cx="363.60" cy="386.50" r="0.95" fill="#111111"/>
<circle cx="368.30" cy="386.50" r="0.95" fill="#111111"/>
<circle cx="373.00" cy="386.50" r="0.95" fill="#111111"/>
<circle cx="377.70" cy="386.50" r="0.95" fill="#111111"/>
<circle cx="382.40" cy="386.50" r="0.95" fill="#111111"/>
<circle cx="387.10" cy="386.50" r="0.95" fill="#111111"/>
<circle cx="391.80" cy="386.50" r="0.95" fill="#111111"/>
<circle cx="396.50" cy="386.50" r="0.95" fill="#111111"/>
<circle cx="401.20" cy="386.50" r="0.95" fill="#111111"/>
<circle cx="404.00" cy="386.50" r="0.95" fill="#111111"/>
<path d="M437.50,398.80 L443.80,396.70 L478.50,396.70" fill="none" stroke="#3a5298" stroke-width="1.3" stroke-linejoin="round"/>
<circle cx="437.50" cy="398.80" r="0.95" fill="#3a5298"/>
<circle cx="442.20" cy="397.23" r="0.95" fill="#3a5298"/>
<circle cx="446.90" cy="396.70" r="0.95" fill="#3a5298"/>
<circle cx="451.60" cy="396.70" r="0.95" fill="#3a5298"/>
<circle cx="456.30" cy="396.70" r="0.95" fill="#3a5298"/>
<circle cx="461.00" cy="396.70" r="0.95" fill="#3a5298"/>
<circle cx="465.70" cy="396.70" r="0.95" fill="#3a5298"/>
<circle cx="470.40" cy="396.70" r="0.95" fill="#3a5298"/>
<circle cx="475.10" cy="396.70" r="0.95" fill="#3a5298"/>
<circle cx="478.50" cy="396.70" r="0.95" fill="#3a5298"/>
<path d="M437.50,398.00 L443.80,396.40 L478.50,396.40" fill="none" stroke="#3e2468" stroke-width="1.3" stroke-linejoin="round"/>
<circle cx="437.50" cy="398.00" r="0.95" fill="#3e2468"/>
<circle cx="442.20" cy="396.81" r="0.95" fill="#3e2468"/>
<circle cx="446.90" cy="396.40" r="0.95" fill="#3e2468"/>
<circle cx="451.60" cy="396.40" r="0.95" fill="#3e2468"/>
<circle cx="456.30" cy="396.40" r="0.95" fill="#3e2468"/>
<circle cx="461.00" cy="396.40" r="0.95" fill="#3e2468"/>
<circle cx="465.70" cy="396.40" r="0.95" fill="#3e2468"/>
<circle cx="470.40" cy="396.40" r="0.95" fill="#3e2468"/>
<circle cx="475.10" cy="396.40" r="0.95" fill="#3e2468"/>
<circle cx="478.50" cy="396.40" r="0.95" fill="#3e2468"/>
<path d="M437.50,400.40 L443.80,397.20 L478.50,397.20" fill="none" stroke="#76b654" stroke-width="1.3" stroke-linejoin="round"/>
<circle cx="437.50" cy="400.40" r="0.95" fill="#76b654"/>
<circle cx="442.20" cy="398.01" r="0.95" fill="#76b654"/>
<circle cx="446.90" cy="397.20" r="0.95" fill="#76b654"/>
<circle cx="451.60" cy="397.20" r="0.95" fill="#76b654"/>
<circle cx="456.30" cy="397.20" r="0.95" fill="#76b654"/>
<circle cx="461.00" cy="397.20" r="0.95" fill="#76b654"/>
<circle cx="465.70" cy="397.20" r="0.95" fill="#76b654"/>
<circle cx="470.40" cy="397.20" r="0.95" fill="#76b654"/>
<circle cx="475.10" cy="397.20" r="0.95" fill="#76b654"/>
<circle cx="478.50" cy="397.20" r="0.95" fill="#76b654"/>
<path d="M437.50,409.00 L443.80,399.60 L447.80,397.20 L478.50,397.20" fill="none" stroke="#ac1842" stroke-width="1.3" stroke-linejoin="round"/>
<circle cx="437.50" cy="409.00" r="0.95" fill="#ac1842"/>
<circle cx="442.20" cy="401.99" r="0.95" fill="#ac1842"/>
<circle cx="446.90" cy="397.74" r="0.95" fill="#ac1842"/>
<circle cx="451.60" cy="397.20" r="0.95" fill="#ac1842"/>
<circle cx="456.30" cy="397.20" r="0.95" fill="#ac1842"/>
<circle cx="461.00" cy="397.20" r="0.95" fill="#ac1842"/>
<circle cx="465.70" cy="397.20" r="0.95" fill="#ac1842"/>
<circle cx="470.40" cy="397.20" r="0.95" fill="#ac1842"/>
<circle cx="475.10" cy="397.20" r="0.95" fill="#ac1842"/>
<circle cx="478.50" cy="397.20" r="0.95" fill="#ac1842"/>
<path d="M437.50,397.20 L443.80,396.10 L478.50,396.10" fill="none" stroke="#111111" stroke-width="1.3" stroke-linejoin="round"/>
<circle cx="437.50" cy="397.20" r="0.95" fill="#111111"/>
<circle cx="442.20" cy="396.38" r="0.95" fill="#111111"/>
<circle cx="446.90" cy="396.10" r="0.95" fill="#111111"/>
<circle cx="451.60" cy="396.10" r="0.95" fill="#111111"/>
<circle cx="456.30" cy="396.10" r="0.95" fill="#111111"/>
<circle cx="461.00" cy="396.10" r="0.95" fill="#111111"/>
<circle cx="465.70" cy="396.10" r="0.95" fill="#111111"/>
<circle cx="470.40" cy="396.10" r="0.95" fill="#111111"/>
<circle cx="475.10" cy="396.10" r="0.95" fill="#111111"/>
<circle cx="478.50" cy="396.10" r="0.95" fill="#111111"/>
<path d="M36.40,470.90 L40.30,466.90 L43.50,470.90 L49.80,474.00 L56.00,475.60 L65.50,477.20 L80.00,477.50 L101.80,478.00" fill="none" stroke="#3a5298" stroke-width="1.3" stroke-linejoin="round"/>
<circle cx="36.40" cy="470.90" r="0.95" fill="#3a5298"/>
<circle cx="40.30" cy="466.90" r="0.95" fill="#3a5298"/>
<circle cx="43.50" cy="470.90" r="0.95" fill="#3a5298"/>
<circle cx="49.80" cy="474.00" r="0.95" fill="#3a5298"/>
<circle cx="56.00" cy="475.60" r="0.95" fill="#3a5298"/>
<circle cx="65.50" cy="477.20" r="0.95" fill="#3a5298"/>
<circle cx="80.00" cy="477.50" r="0.95" fill="#3a5298"/>
<circle cx="101.80" cy="478.00" r="0.95" fill="#3a5298"/>
<path d="M36.40,470.90 L38.70,465.30 L41.10,468.50 L45.80,470.10 L49.80,475.60 L54.50,477.20 L60.00,478.70 L65.50,475.60 L75.00,477.20 L86.00,478.70 L101.80,478.70" fill="none" stroke="#3e2468" stroke-width="1.3" stroke-linejoin="round"/>
<circle cx="36.40" cy="470.90" r="0.95" fill="#3e2468"/>
<circle cx="38.70" cy="465.30" r="0.95" fill="#3e2468"/>
<circle cx="41.10" cy="468.50" r="0.95" fill="#3e2468"/>
<circle cx="45.80" cy="470.10" r="0.95" fill="#3e2468"/>
<circle cx="49.80" cy="475.60" r="0.95" fill="#3e2468"/>
<circle cx="54.50" cy="477.20" r="0.95" fill="#3e2468"/>
<circle cx="60.00" cy="478.70" r="0.95" fill="#3e2468"/>
<circle cx="65.50" cy="475.60" r="0.95" fill="#3e2468"/>
<circle cx="75.00" cy="477.20" r="0.95" fill="#3e2468"/>
<circle cx="86.00" cy="478.70" r="0.95" fill="#3e2468"/>
<circle cx="101.80" cy="478.70" r="0.95" fill="#3e2468"/>
<path d="M36.40,478.70 L40.30,469.30 L45.00,463.80 L48.20,462.20 L51.40,464.50 L53.70,474.80 L56.90,463.80 L60.80,473.20 L63.20,465.00 L65.50,468.00 L67.90,465.40 L77.30,469.40 L91.70,472.80 L95.60,470.40 L101.80,473.30" fill="none" stroke="#76b654" stroke-width="1.3" stroke-linejoin="round"/>
<circle cx="36.40" cy="478.70" r="0.95" fill="#76b654"/>
<circle cx="40.30" cy="469.30" r="0.95" fill="#76b654"/>
<circle cx="45.00" cy="463.80" r="0.95" fill="#76b654"/>
<circle cx="48.20" cy="462.20" r="0.95" fill="#76b654"/>
<circle cx="51.40" cy="464.50" r="0.95" fill="#76b654"/>
<circle cx="53.70" cy="474.80" r="0.95" fill="#76b654"/>
<circle cx="56.90" cy="463.80" r="0.95" fill="#76b654"/>
<circle cx="60.80" cy="473.20" r="0.95" fill="#76b654"/>
<circle cx="63.20" cy="465.00" r="0.95" fill="#76b654"/>
<circle cx="65.50" cy="468.00" r="0.95" fill="#76b654"/>
<circle cx="67.90" cy="465.40" r="0.95" fill="#76b654"/>
<circle cx="77.30" cy="469.40" r="0.95" fill="#76b654"/>
<circle cx="91.70" cy="472.80" r="0.95" fill="#76b654"/>
<circle cx="95.60" cy="470.40" r="0.95" fill="#76b654"/>
<circle cx="101.80" cy="473.30" r="0.95" fill="#76b654"/>
<path d="M36.40,481.90 L38.70,480.30 L41.90,478.70 L45.00,485.00 L49.80,477.20 L54.50,479.50 L57.70,475.60 L62.40,478.70 L67.90,474.80 L75.00,474.80 L86.00,477.20 L94.00,478.70 L101.80,477.20" fill="none" stroke="#ac1842" stroke-width="1.3" stroke-linejoin="round"/>
<circle cx="36.40" cy="481.90" r="0.95" fill="#ac1842"/>
<circle cx="38.70" cy="480.30" r="0.95" fill="#ac1842"/>
<circle cx="41.90" cy="478.70" r="0.95" fill="#ac1842"/>
<circle cx="45.00" cy="485.00" r="0.95" fill="#ac1842"/>
<circle cx="49.80" cy="477.20" r="0.95" fill="#ac1842"/>
<circle cx="54.50" cy="479.50" r="0.95" fill="#ac1842"/>
<circle cx="57.70" cy="475.60" r="0.95" fill="#ac1842"/>
<circle cx="62.40" cy="478.70" r="0.95" fill="#ac1842"/>
<circle cx="67.90" cy="474.80" r="0.95" fill="#ac1842"/>
<circle cx="75.00" cy="474.80" r="0.95" fill="#ac1842"/>
<circle cx="86.00" cy="477.20" r="0.95" fill="#ac1842"/>
<circle cx="94.00" cy="478.70" r="0.95" fill="#ac1842"/>
<circle cx="101.80" cy="477.20" r="0.95" fill="#ac1842"/>
<path d="M36.40,448.80 L39.50,447.50 L42.70,455.10 L46.60,453.50 L49.80,456.70 L53.70,464.50 L56.10,457.40 L60.00,466.90 L63.20,458.20 L65.50,461.40 L67.90,459.80 L75.00,461.40 L86.00,465.30 L94.00,465.80 L101.80,467.70" fill="none" stroke="#111111" stroke-width="1.3" stroke-linejoin="round"/>
<circle cx="36.40" cy="448.80" r="0.95" fill="#111111"/>
<circle cx="39.50" cy="447.50" r="0.95" fill="#111111"/>
<circle cx="42.70" cy="455.10" r="0.95" fill="#111111"/>
<circle cx="46.60" cy="453.50" r="0.95" fill="#111111"/>
<circle cx="49.80" cy="456.70" r="0.95" fill="#111111"/>
<circle cx="53.70" cy="464.50" r="0.95" fill="#111111"/>
<circle cx="56.10" cy="457.40" r="0.95" fill="#111111"/>
<circle cx="60.00" cy="466.90" r="0.95" fill="#111111"/>
<circle cx="63.20" cy="458.20" r="0.95" fill="#111111"/>
<circle cx="65.50" cy="461.40" r="0.95" fill="#111111"/>
<circle cx="67.90" cy="459.80" r="0.95" fill="#111111"/>
<circle cx="75.00" cy="461.40" r="0.95" fill="#111111"/>
<circle cx="86.00" cy="465.30" r="0.95" fill="#111111"/>
<circle cx="94.00" cy="465.80" r="0.95" fill="#111111"/>
<circle cx="101.80" cy="467.70" r="0.95" fill="#111111"/>
<path d="M135.40,481.90 L138.50,474.00 L142.50,483.50 L147.20,488.20 L195.30,489.50" fill="none" stroke="#3a5298" stroke-width="1.3" stroke-linejoin="round"/>
<circle cx="135.40" cy="481.90" r="0.95" fill="#3a5298"/>
<circle cx="138.50" cy="474.00" r="0.95" fill="#3a5298"/>
<circle cx="142.50" cy="483.50" r="0.95" fill="#3a5298"/>
<circle cx="147.20" cy="488.20" r="0.95" fill="#3a5298"/>
<circle cx="195.30" cy="489.50" r="0.95" fill="#3a5298"/>
<path d="M135.40,480.30 L138.50,470.90 L141.70,478.70 L144.00,485.00 L148.80,489.00 L195.30,489.00" fill="none" stroke="#3e2468" stroke-width="1.3" stroke-linejoin="round"/>
<circle cx="135.40" cy="480.30" r="0.95" fill="#3e2468"/>
<circle cx="138.50" cy="470.90" r="0.95" fill="#3e2468"/>
<circle cx="141.70" cy="478.70" r="0.95" fill="#3e2468"/>
<circle cx="144.00" cy="485.00" r="0.95" fill="#3e2468"/>
<circle cx="148.80" cy="489.00" r="0.95" fill="#3e2468"/>
<circle cx="195.30" cy="489.00" r="0.95" fill="#3e2468"/>
<path d="M135.40,480.30 L139.30,475.60 L144.00,475.60 L151.90,482.70 L157.40,478.00 L180.30,485.00 L195.30,487.40" fill="none" stroke="#76b654" stroke-width="1.3" stroke-linejoin="round"/>
<circle cx="135.40" cy="480.30" r="0.95" fill="#76b654"/>
<circle cx="139.30" cy="475.60" r="0.95" fill="#76b654"/>
<circle cx="144.00" cy="475.60" r="0.95" fill="#76b654"/>
<circle cx="151.90" cy="482.70" r="0.95" fill="#76b654"/>
<circle cx="157.40" cy="478.00" r="0.95" fill="#76b654"/>
<circle cx="180.30" cy="485.00" r="0.95" fill="#76b654"/>
<circle cx="195.30" cy="487.40" r="0.95" fill="#76b654"/>
<path d="M135.40,489.00 L139.30,487.40 L144.00,484.30 L148.80,485.00 L164.50,485.80 L180.30,487.40 L195.30,489.00" fill="none" stroke="#ac1842" stroke-width="1.3" stroke-linejoin="round"/>
<circle cx="135.40" cy="489.00" r="0.95" fill="#ac1842"/>
<circle cx="139.30" cy="487.40" r="0.95" fill="#ac1842"/>
<circle cx="144.00" cy="484.30" r="0.95" fill="#ac1842"/>
<circle cx="148.80" cy="485.00" r="0.95" fill="#ac1842"/>
<circle cx="164.50" cy="485.80" r="0.95" fill="#ac1842"/>
<circle cx="180.30" cy="487.40" r="0.95" fill="#ac1842"/>
<circle cx="195.30" cy="489.00" r="0.95" fill="#ac1842"/>
<path d="M135.40,465.30 L138.50,461.40 L140.90,469.30 L144.80,471.60 L152.70,479.50 L157.40,475.60 L164.50,478.70 L180.30,483.50 L195.30,486.60" fill="none" stroke="#111111" stroke-width="1.3" stroke-linejoin="round"/>
<circle cx="135.40" cy="465.30" r="0.95" fill="#111111"/>
<circle cx="138.50" cy="461.40" r="0.95" fill="#111111"/>
<circle cx="140.90" cy="469.30" r="0.95" fill="#111111"/>
<circle cx="144.80" cy="471.60" r="0.95" fill="#111111"/>
<circle cx="152.70" cy="479.50" r="0.95" fill="#111111"/>
<circle cx="157.40" cy="475.60" r="0.95" fill="#111111"/>
<circle cx="164.50" cy="478.70" r="0.95" fill="#111111"/>
<circle cx="180.30" cy="483.50" r="0.95" fill="#111111"/>
<circle cx="195.30" cy="486.60" r="0.95" fill="#111111"/>
<path d="M235.40,485.00 L239.30,478.70 L245.60,481.90 L255.10,481.10 L262.20,483.50 L267.70,480.30 L281.90,485.00 L287.40,481.90 L297.70,483.50" fill="none" stroke="#3a5298" stroke-width="1.3" stroke-linejoin="round"/>
<circle cx="235.40" cy="485.00" r="0.95" fill="#3a5298"/>
<circle cx="239.30" cy="478.70" r="0.95" fill="#3a5298"/>
<circle cx="245.60" cy="481.90" r="0.95" fill="#3a5298"/>
<circle cx="255.10" cy="481.10" r="0.95" fill="#3a5298"/>
<circle cx="262.20" cy="483.50" r="0.95" fill="#3a5298"/>
<circle cx="267.70" cy="480.30" r="0.95" fill="#3a5298"/>
<circle cx="281.90" cy="485.00" r="0.95" fill="#3a5298"/>
<circle cx="287.40" cy="481.90" r="0.95" fill="#3a5298"/>
<circle cx="297.70" cy="483.50" r="0.95" fill="#3a5298"/>
<path d="M235.40,483.50 L239.30,477.20 L245.60,481.10 L255.10,480.30 L264.50,480.30 L280.30,480.30 L297.70,480.30" fill="none" stroke="#3e2468" stroke-width="1.3" stroke-linejoin="round"/>
<circle cx="235.40" cy="483.50" r="0.95" fill="#3e2468"/>
<circle cx="239.30" cy="477.20" r="0.95" fill="#3e2468"/>
<circle cx="245.60" cy="481.10" r="0.95" fill="#3e2468"/>
<circle cx="255.10" cy="480.30" r="0.95" fill="#3e2468"/>
<circle cx="264.50" cy="480.30" r="0.95" fill="#3e2468"/>
<circle cx="280.30" cy="480.30" r="0.95" fill="#3e2468"/>
<circle cx="297.70" cy="480.30" r="0.95" fill="#3e2468"/>
<path d="M235.40,480.30 L239.30,476.40 L244.00,475.60 L248.80,478.70 L264.50,478.70 L280.30,478.70 L297.70,478.70" fill="none" stroke="#76b654" stroke-width="1.3" stroke-linejoin="round"/>
<circle cx="235.40" cy="480.30" r="0.95" fill="#76b654"/>
<circle cx="239.30" cy="476.40" r="0.95" fill="#76b654"/>
<circle cx="244.00" cy="475.60" r="0.95" fill="#76b654"/>
<circle cx="248.80" cy="478.70" r="0.95" fill="#76b654"/>
<circle cx="264.50" cy="478.70" r="0.95" fill="#76b654"/>
<circle cx="280.30" cy="478.70" r="0.95" fill="#76b654"/>
<circle cx="297.70" cy="478.70" r="0.95" fill="#76b654"/>
<path d="M235.40,488.20 L237.70,478.00 L244.00,478.00 L255.10,478.70 L264.50,479.50 L280.30,478.70 L297.70,481.10" fill="none" stroke="#ac1842" stroke-width="1.3" stroke-linejoin="round"/>
<circle cx="235.40" cy="488.20" r="0.95" fill="#ac1842"/>
<circle cx="237.70" cy="478.00" r="0.95" fill="#ac1842"/>
<circle cx="244.00" cy="478.00" r="0.95" fill="#ac1842"/>
<circle cx="255.10" cy="478.70" r="0.95" fill="#ac1842"/>
<circle cx="264.50" cy="479.50" r="0.95" fill="#ac1842"/>
<circle cx="280.30" cy="478.70" r="0.95" fill="#ac1842"/>
<circle cx="297.70" cy="481.10" r="0.95" fill="#ac1842"/>
<path d="M235.40,463.00 L238.50,461.40 L242.50,466.10 L248.80,470.50 L255.90,470.90 L262.20,473.70 L266.10,470.10 L281.90,470.90 L287.40,471.60 L294.50,469.30 L297.70,474.80" fill="none" stroke="#111111" stroke-width="1.3" stroke-linejoin="round"/>
<circle cx="235.40" cy="463.00" r="0.95" fill="#111111"/>
<circle cx="238.50" cy="461.40" r="0.95" fill="#111111"/>
<circle cx="242.50" cy="466.10" r="0.95" fill="#111111"/>
<circle cx="248.80" cy="470.50" r="0.95" fill="#111111"/>
<circle cx="255.90" cy="470.90" r="0.95" fill="#111111"/>
<circle cx="262.20" cy="473.70" r="0.95" fill="#111111"/>
<circle cx="266.10" cy="470.10" r="0.95" fill="#111111"/>
<circle cx="281.90" cy="470.90" r="0.95" fill="#111111"/>
<circle cx="287.40" cy="471.60" r="0.95" fill="#111111"/>
<circle cx="294.50" cy="469.30" r="0.95" fill="#111111"/>
<circle cx="297.70" cy="474.80" r="0.95" fill="#111111"/>
<path d="M335.40,483.50 L344.00,480.30 L348.80,483.50 L372.40,484.00 L404.00,485.00" fill="none" stroke="#3a5298" stroke-width="1.3" stroke-linejoin="round"/>
<circle cx="335.40" cy="483.50" r="0.95" fill="#3a5298"/>
<circle cx="344.00" cy="480.30" r="0.95" fill="#3a5298"/>
<circle cx="348.80" cy="483.50" r="0.95" fill="#3a5298"/>
<circle cx="372.40" cy="484.00" r="0.95" fill="#3a5298"/>
<circle cx="404.00" cy="485.00" r="0.95" fill="#3a5298"/>
<path d="M335.40,485.80 L344.00,481.10 L348.80,484.30 L364.60,482.70 L372.40,483.50 L404.00,484.30" fill="none" stroke="#3e2468" stroke-width="1.3" stroke-linejoin="round"/>
<circle cx="335.40" cy="485.80" r="0.95" fill="#3e2468"/>
<circle cx="344.00" cy="481.10" r="0.95" fill="#3e2468"/>
<circle cx="348.80" cy="484.30" r="0.95" fill="#3e2468"/>
<circle cx="364.60" cy="482.70" r="0.95" fill="#3e2468"/>
<circle cx="372.40" cy="483.50" r="0.95" fill="#3e2468"/>
<circle cx="404.00" cy="484.30" r="0.95" fill="#3e2468"/>
<path d="M335.40,481.90 L339.30,478.70 L344.00,474.80 L348.80,478.70 L364.60,478.70 L372.40,480.30 L404.00,481.10" fill="none" stroke="#76b654" stroke-width="1.3" stroke-linejoin="round"/>
<circle cx="335.40" cy="481.90" r="0.95" fill="#76b654"/>
<circle cx="339.30" cy="478.70" r="0.95" fill="#76b654"/>
<circle cx="344.00" cy="474.80" r="0.95" fill="#76b654"/>
<circle cx="348.80" cy="478.70" r="0.95" fill="#76b654"/>
<circle cx="364.60" cy="478.70" r="0.95" fill="#76b654"/>
<circle cx="372.40" cy="480.30" r="0.95" fill="#76b654"/>
<circle cx="404.00" cy="481.10" r="0.95" fill="#76b654"/>
<path d="M335.40,485.00 L339.30,482.70 L344.00,479.50 L348.80,481.90 L364.60,481.10 L372.40,481.90 L404.00,482.70" fill="none" stroke="#ac1842" stroke-width="1.3" stroke-linejoin="round"/>
<circle cx="335.40" cy="485.00" r="0.95" fill="#ac1842"/>
<circle cx="339.30" cy="482.70" r="0.95" fill="#ac1842"/>
<circle cx="344.00" cy="479.50" r="0.95" fill="#ac1842"/>
<circle cx="348.80" cy="481.90" r="0.95" fill="#ac1842"/>
<circle cx="364.60" cy="481.10" r="0.95" fill="#ac1842"/>
<circle cx="372.40" cy="481.90" r="0.95" fill="#ac1842"/>
<circle cx="404.00" cy="482.70" r="0.95" fill="#ac1842"/>
<path d="M335.40,471.60 L338.50,470.90 L340.90,474.00 L344.00,472.10 L348.80,476.40 L361.40,475.90 L367.70,474.00 L373.20,478.00 L385.00,478.00 L392.90,479.10 L404.00,478.70" fill="none" stroke="#111111" stroke-width="1.3" stroke-linejoin="round"/>
<circle cx="335.40" cy="471.60" r="0.95" fill="#111111"/>
<circle cx="338.50" cy="470.90" r="0.95" fill="#111111"/>
<circle cx="340.90" cy="474.00" r="0.95" fill="#111111"/>
<circle cx="344.00" cy="472.10" r="0.95" fill="#111111"/>
<circle cx="348.80" cy="476.40" r="0.95" fill="#111111"/>
<circle cx="361.40" cy="475.90" r="0.95" fill="#111111"/>
<circle cx="367.70" cy="474.00" r="0.95" fill="#111111"/>
<circle cx="373.20" cy="478.00" r="0.95" fill="#111111"/>
<circle cx="385.00" cy="478.00" r="0.95" fill="#111111"/>
<circle cx="392.90" cy="479.10" r="0.95" fill="#111111"/>
<circle cx="404.00" cy="478.70" r="0.95" fill="#111111"/>
<path d="M437.50,474.80 L443.80,472.40 L478.50,474.00" fill="none" stroke="#3a5298" stroke-width="1.3" stroke-linejoin="round"/>
<circle cx="437.50" cy="474.80" r="0.95" fill="#3a5298"/>
<circle cx="443.80" cy="472.40" r="0.95" fill="#3a5298"/>
<circle cx="478.50" cy="474.00" r="0.95" fill="#3a5298"/>
<path d="M437.50,473.20 L443.80,472.40 L478.50,473.20" fill="none" stroke="#3e2468" stroke-width="1.3" stroke-linejoin="round"/>
<circle cx="437.50" cy="473.20" r="0.95" fill="#3e2468"/>
<circle cx="443.80" cy="472.40" r="0.95" fill="#3e2468"/>
<circle cx="478.50" cy="473.20" r="0.95" fill="#3e2468"/>
<path d="M437.50,480.30 L443.80,472.40 L455.70,474.00 L478.50,474.30" fill="none" stroke="#76b654" stroke-width="1.3" stroke-linejoin="round"/>
<circle cx="437.50" cy="480.30" r="0.95" fill="#76b654"/>
<circle cx="443.80" cy="472.40" r="0.95" fill="#76b654"/>
<circle cx="455.70" cy="474.00" r="0.95" fill="#76b654"/>
<circle cx="478.50" cy="474.30" r="0.95" fill="#76b654"/>
<path d="M437.50,486.60 L443.80,476.40 L460.40,477.20 L473.00,475.30 L478.50,475.60" fill="none" stroke="#ac1842" stroke-width="1.3" stroke-linejoin="round"/>
<circle cx="437.50" cy="486.60" r="0.95" fill="#ac1842"/>
<circle cx="443.80" cy="476.40" r="0.95" fill="#ac1842"/>
<circle cx="460.40" cy="477.20" r="0.95" fill="#ac1842"/>
<circle cx="473.00" cy="475.30" r="0.95" fill="#ac1842"/>
<circle cx="478.50" cy="475.60" r="0.95" fill="#ac1842"/>
<path d="M437.50,470.10 L443.80,470.50 L455.70,470.90 L478.50,470.90" fill="none" stroke="#111111" stroke-width="1.3" stroke-linejoin="round"/>
<circle cx="437.50" cy="470.10" r="0.95" fill="#111111"/>
<circle cx="443.80" cy="470.50" r="0.95" fill="#111111"/>
<circle cx="455.70" cy="470.90" r="0.95" fill="#111111"/>
<circle cx="478.50" cy="470.90" r="0.95" fill="#111111"/>
<path d="M36.40,528.90 L40.30,528.90 L45.00,532.10 L51.40,534.40 L57.70,535.20 L65.50,536.80 L76.60,538.00 L90.80,539.20 L101.00,541.50" fill="none" stroke="#3a5298" stroke-width="1.3" stroke-linejoin="round"/>
<circle cx="36.40" cy="528.90" r="0.95" fill="#3a5298"/>
<circle cx="40.30" cy="528.90" r="0.95" fill="#3a5298"/>
<circle cx="45.00" cy="532.10" r="0.95" fill="#3a5298"/>
<circle cx="51.40" cy="534.40" r="0.95" fill="#3a5298"/>
<circle cx="57.70" cy="535.20" r="0.95" fill="#3a5298"/>
<circle cx="65.50" cy="536.80" r="0.95" fill="#3a5298"/>
<circle cx="76.60" cy="538.00" r="0.95" fill="#3a5298"/>
<circle cx="90.80" cy="539.20" r="0.95" fill="#3a5298"/>
<circle cx="101.00" cy="541.50" r="0.95" fill="#3a5298"/>
<path d="M36.40,525.00 L40.30,527.40 L45.00,530.50 L49.80,533.70 L57.70,536.00 L65.50,537.60 L76.60,538.00 L90.80,538.40 L101.00,540.80" fill="none" stroke="#3e2468" stroke-width="1.3" stroke-linejoin="round"/>
<circle cx="36.40" cy="525.00" r="0.95" fill="#3e2468"/>
<circle cx="40.30" cy="527.40" r="0.95" fill="#3e2468"/>
<circle cx="45.00" cy="530.50" r="0.95" fill="#3e2468"/>
<circle cx="49.80" cy="533.70" r="0.95" fill="#3e2468"/>
<circle cx="57.70" cy="536.00" r="0.95" fill="#3e2468"/>
<circle cx="65.50" cy="537.60" r="0.95" fill="#3e2468"/>
<circle cx="76.60" cy="538.00" r="0.95" fill="#3e2468"/>
<circle cx="90.80" cy="538.40" r="0.95" fill="#3e2468"/>
<circle cx="101.00" cy="540.80" r="0.95" fill="#3e2468"/>
<path d="M36.40,530.50 L40.30,528.10 L45.00,533.70 L47.40,527.40 L52.10,528.90 L56.10,530.50 L59.20,532.90 L63.20,531.30 L67.10,533.70 L71.90,535.20 L76.60,537.60 L90.80,539.20 L101.00,543.10" fill="none" stroke="#76b654" stroke-width="1.3" stroke-linejoin="round"/>
<circle cx="36.40" cy="530.50" r="0.95" fill="#76b654"/>
<circle cx="40.30" cy="528.10" r="0.95" fill="#76b654"/>
<circle cx="45.00" cy="533.70" r="0.95" fill="#76b654"/>
<circle cx="47.40" cy="527.40" r="0.95" fill="#76b654"/>
<circle cx="52.10" cy="528.90" r="0.95" fill="#76b654"/>
<circle cx="56.10" cy="530.50" r="0.95" fill="#76b654"/>
<circle cx="59.20" cy="532.90" r="0.95" fill="#76b654"/>
<circle cx="63.20" cy="531.30" r="0.95" fill="#76b654"/>
<circle cx="67.10" cy="533.70" r="0.95" fill="#76b654"/>
<circle cx="71.90" cy="535.20" r="0.95" fill="#76b654"/>
<circle cx="76.60" cy="537.60" r="0.95" fill="#76b654"/>
<circle cx="90.80" cy="539.20" r="0.95" fill="#76b654"/>
<circle cx="101.00" cy="543.10" r="0.95" fill="#76b654"/>
<path d="M36.40,536.00 L39.10,541.50 L42.20,549.40 L46.60,541.50 L51.40,534.40 L57.70,536.00 L65.50,536.80 L76.60,538.40 L86.00,540.00 L101.00,541.50" fill="none" stroke="#ac1842" stroke-width="1.3" stroke-linejoin="round"/>
<circle cx="36.40" cy="536.00" r="0.95" fill="#ac1842"/>
<circle cx="39.10" cy="541.50" r="0.95" fill="#ac1842"/>
<circle cx="42.20" cy="549.40" r="0.95" fill="#ac1842"/>
<circle cx="46.60" cy="541.50" r="0.95" fill="#ac1842"/>
<circle cx="51.40" cy="534.40" r="0.95" fill="#ac1842"/>
<circle cx="57.70" cy="536.00" r="0.95" fill="#ac1842"/>
<circle cx="65.50" cy="536.80" r="0.95" fill="#ac1842"/>
<circle cx="76.60" cy="538.40" r="0.95" fill="#ac1842"/>
<circle cx="86.00" cy="540.00" r="0.95" fill="#ac1842"/>
<circle cx="101.00" cy="541.50" r="0.95" fill="#ac1842"/>
<path d="M135.30,530.90 L139.80,533.50 L145.10,541.40 L151.60,546.60 L158.20,549.20 L166.70,563.60 L175.20,555.80 L185.60,557.10 L195.40,561.00" fill="none" stroke="#3a5298" stroke-width="1.3" stroke-linejoin="round"/>
<circle cx="135.30" cy="530.90" r="0.95" fill="#3a5298"/>
<circle cx="139.80" cy="533.50" r="0.95" fill="#3a5298"/>
<circle cx="145.10" cy="541.40" r="0.95" fill="#3a5298"/>
<circle cx="151.60" cy="546.60" r="0.95" fill="#3a5298"/>
<circle cx="158.20" cy="549.20" r="0.95" fill="#3a5298"/>
<circle cx="166.70" cy="563.60" r="0.95" fill="#3a5298"/>
<circle cx="175.20" cy="555.80" r="0.95" fill="#3a5298"/>
<circle cx="185.60" cy="557.10" r="0.95" fill="#3a5298"/>
<circle cx="195.40" cy="561.00" r="0.95" fill="#3a5298"/>
<path d="M135.30,529.60 L138.50,529.60 L142.50,537.50 L149.00,544.00 L156.20,547.90 L166.70,554.50 L176.50,554.50 L185.60,557.70 L195.40,559.70" fill="none" stroke="#3e2468" stroke-width="1.3" stroke-linejoin="round"/>
<circle cx="135.30" cy="529.60" r="0.95" fill="#3e2468"/>
<circle cx="138.50" cy="529.60" r="0.95" fill="#3e2468"/>
<circle cx="142.50" cy="537.50" r="0.95" fill="#3e2468"/>
<circle cx="149.00" cy="544.00" r="0.95" fill="#3e2468"/>
<circle cx="156.20" cy="547.90" r="0.95" fill="#3e2468"/>
<circle cx="166.70" cy="554.50" r="0.95" fill="#3e2468"/>
<circle cx="176.50" cy="554.50" r="0.95" fill="#3e2468"/>
<circle cx="185.60" cy="557.70" r="0.95" fill="#3e2468"/>
<circle cx="195.40" cy="559.70" r="0.95" fill="#3e2468"/>
<path d="M135.60,556.00 L138.30,530.00 L142.50,533.50 L149.00,538.10 L152.30,547.00 L155.20,541.20 L158.00,544.40 L166.00,544.70 L176.50,545.00 L185.60,546.60 L190.80,547.90 L195.40,551.20" fill="none" stroke="#76b654" stroke-width="1.3" stroke-linejoin="round"/>
<circle cx="135.60" cy="556.00" r="0.95" fill="#76b654"/>
<circle cx="138.30" cy="530.00" r="0.95" fill="#76b654"/>
<circle cx="142.50" cy="533.50" r="0.95" fill="#76b654"/>
<circle cx="149.00" cy="538.10" r="0.95" fill="#76b654"/>
<circle cx="152.30" cy="547.00" r="0.95" fill="#76b654"/>
<circle cx="155.20" cy="541.20" r="0.95" fill="#76b654"/>
<circle cx="158.00" cy="544.40" r="0.95" fill="#76b654"/>
<circle cx="166.00" cy="544.70" r="0.95" fill="#76b654"/>
<circle cx="176.50" cy="545.00" r="0.95" fill="#76b654"/>
<circle cx="185.60" cy="546.60" r="0.95" fill="#76b654"/>
<circle cx="190.80" cy="547.90" r="0.95" fill="#76b654"/>
<circle cx="195.40" cy="551.20" r="0.95" fill="#76b654"/>
<path d="M135.30,564.90 L137.90,553.20 L145.10,544.70 L152.30,552.50 L156.20,548.60 L166.70,555.80 L176.50,554.50 L185.60,557.10 L195.40,557.70" fill="none" stroke="#ac1842" stroke-width="1.3" stroke-linejoin="round"/>
<circle cx="135.30" cy="564.90" r="0.95" fill="#ac1842"/>
<circle cx="137.90" cy="553.20" r="0.95" fill="#ac1842"/>
<circle cx="145.10" cy="544.70" r="0.95" fill="#ac1842"/>
<circle cx="152.30" cy="552.50" r="0.95" fill="#ac1842"/>
<circle cx="156.20" cy="548.60" r="0.95" fill="#ac1842"/>
<circle cx="166.70" cy="555.80" r="0.95" fill="#ac1842"/>
<circle cx="176.50" cy="554.50" r="0.95" fill="#ac1842"/>
<circle cx="185.60" cy="557.10" r="0.95" fill="#ac1842"/>
<circle cx="195.40" cy="557.70" r="0.95" fill="#ac1842"/>
<path d="M235.40,535.20 L239.30,533.70 L248.80,536.00 L264.50,538.40 L285.00,540.00 L297.70,540.00" fill="none" stroke="#3a5298" stroke-width="1.3" stroke-linejoin="round"/>
<circle cx="235.40" cy="535.20" r="0.95" fill="#3a5298"/>
<circle cx="239.30" cy="533.70" r="0.95" fill="#3a5298"/>
<circle cx="248.80" cy="536.00" r="0.95" fill="#3a5298"/>
<circle cx="264.50" cy="538.40" r="0.95" fill="#3a5298"/>
<circle cx="285.00" cy="540.00" r="0.95" fill="#3a5298"/>
<circle cx="297.70" cy="540.00" r="0.95" fill="#3a5298"/>
<path d="M235.40,533.70 L238.50,532.10 L244.00,536.00 L256.70,536.80 L280.30,539.20 L297.70,539.20" fill="none" stroke="#3e2468" stroke-width="1.3" stroke-linejoin="round"/>
<circle cx="235.40" cy="533.70" r="0.95" fill="#3e2468"/>
<circle cx="238.50" cy="532.10" r="0.95" fill="#3e2468"/>
<circle cx="244.00" cy="536.00" r="0.95" fill="#3e2468"/>
<circle cx="256.70" cy="536.80" r="0.95" fill="#3e2468"/>
<circle cx="280.30" cy="539.20" r="0.95" fill="#3e2468"/>
<circle cx="297.70" cy="539.20" r="0.95" fill="#3e2468"/>
<path d="M235.40,529.70 L238.50,531.30 L244.00,532.90 L248.80,535.20 L261.40,539.20 L280.30,539.20 L288.20,536.80 L294.50,536.80 L297.70,539.20" fill="none" stroke="#76b654" stroke-width="1.3" stroke-linejoin="round"/>
<circle cx="235.40" cy="529.70" r="0.95" fill="#76b654"/>
<circle cx="238.50" cy="531.30" r="0.95" fill="#76b654"/>
<circle cx="244.00" cy="532.90" r="0.95" fill="#76b654"/>
<circle cx="248.80" cy="535.20" r="0.95" fill="#76b654"/>
<circle cx="261.40" cy="539.20" r="0.95" fill="#76b654"/>
<circle cx="280.30" cy="539.20" r="0.95" fill="#76b654"/>
<circle cx="288.20" cy="536.80" r="0.95" fill="#76b654"/>
<circle cx="294.50" cy="536.80" r="0.95" fill="#76b654"/>
<circle cx="297.70" cy="539.20" r="0.95" fill="#76b654"/>
<path d="M235.80,547.10 L238.50,530.50 L242.50,532.90 L248.80,534.40 L256.70,535.20 L266.10,537.60 L281.90,536.80 L294.50,537.60 L297.70,540.80" fill="none" stroke="#ac1842" stroke-width="1.3" stroke-linejoin="round"/>
<circle cx="235.80" cy="547.10" r="0.95" fill="#ac1842"/>
<circle cx="238.50" cy="530.50" r="0.95" fill="#ac1842"/>
<circle cx="242.50" cy="532.90" r="0.95" fill="#ac1842"/>
<circle cx="248.80" cy="534.40" r="0.95" fill="#ac1842"/>
<circle cx="256.70" cy="535.20" r="0.95" fill="#ac1842"/>
<circle cx="266.10" cy="537.60" r="0.95" fill="#ac1842"/>
<circle cx="281.90" cy="536.80" r="0.95" fill="#ac1842"/>
<circle cx="294.50" cy="537.60" r="0.95" fill="#ac1842"/>
<circle cx="297.70" cy="540.80" r="0.95" fill="#ac1842"/>
<path d="M335.40,536.80 L344.00,537.60 L348.80,543.10 L361.40,542.30 L385.00,544.70 L404.00,544.70" fill="none" stroke="#3a5298" stroke-width="1.3" stroke-linejoin="round"/>
<circle cx="335.40" cy="536.80" r="0.95" fill="#3a5298"/>
<circle cx="344.00" cy="537.60" r="0.95" fill="#3a5298"/>
<circle cx="348.80" cy="543.10" r="0.95" fill="#3a5298"/>
<circle cx="361.40" cy="542.30" r="0.95" fill="#3a5298"/>
<circle cx="385.00" cy="544.70" r="0.95" fill="#3a5298"/>
<circle cx="404.00" cy="544.70" r="0.95" fill="#3a5298"/>
<path d="M335.40,534.40 L339.30,537.60 L344.00,536.80 L348.80,544.70 L361.40,543.10 L373.20,543.90 L385.00,545.50 L404.00,544.70" fill="none" stroke="#3e2468" stroke-width="1.3" stroke-linejoin="round"/>
<circle cx="335.40" cy="534.40" r="0.95" fill="#3e2468"/>
<circle cx="339.30" cy="537.60" r="0.95" fill="#3e2468"/>
<circle cx="344.00" cy="536.80" r="0.95" fill="#3e2468"/>
<circle cx="348.80" cy="544.70" r="0.95" fill="#3e2468"/>
<circle cx="361.40" cy="543.10" r="0.95" fill="#3e2468"/>
<circle cx="373.20" cy="543.90" r="0.95" fill="#3e2468"/>
<circle cx="385.00" cy="545.50" r="0.95" fill="#3e2468"/>
<circle cx="404.00" cy="544.70" r="0.95" fill="#3e2468"/>
<path d="M335.40,535.20 L339.30,536.00 L344.00,533.70 L348.80,537.60 L361.40,539.20 L373.20,541.50 L385.00,542.30 L404.00,542.30" fill="none" stroke="#76b654" stroke-width="1.3" stroke-linejoin="round"/>
<circle cx="335.40" cy="535.20" r="0.95" fill="#76b654"/>
<circle cx="339.30" cy="536.00" r="0.95" fill="#76b654"/>
<circle cx="344.00" cy="533.70" r="0.95" fill="#76b654"/>
<circle cx="348.80" cy="537.60" r="0.95" fill="#76b654"/>
<circle cx="361.40" cy="539.20" r="0.95" fill="#76b654"/>
<circle cx="373.20" cy="541.50" r="0.95" fill="#76b654"/>
<circle cx="385.00" cy="542.30" r="0.95" fill="#76b654"/>
<circle cx="404.00" cy="542.30" r="0.95" fill="#76b654"/>
<path d="M335.40,539.20 L337.70,538.40 L340.10,542.30 L344.00,536.80 L348.80,538.40 L361.40,540.00 L373.20,542.30 L385.00,543.10 L396.10,541.20 L404.00,541.50" fill="none" stroke="#ac1842" stroke-width="1.3" stroke-linejoin="round"/>
<circle cx="335.40" cy="539.20" r="0.95" fill="#ac1842"/>
<circle cx="337.70" cy="538.40" r="0.95" fill="#ac1842"/>
<circle cx="340.10" cy="542.30" r="0.95" fill="#ac1842"/>
<circle cx="344.00" cy="536.80" r="0.95" fill="#ac1842"/>
<circle cx="348.80" cy="538.40" r="0.95" fill="#ac1842"/>
<circle cx="361.40" cy="540.00" r="0.95" fill="#ac1842"/>
<circle cx="373.20" cy="542.30" r="0.95" fill="#ac1842"/>
<circle cx="385.00" cy="543.10" r="0.95" fill="#ac1842"/>
<circle cx="396.10" cy="541.20" r="0.95" fill="#ac1842"/>
<circle cx="404.00" cy="541.50" r="0.95" fill="#ac1842"/>
<path d="M437.50,530.50 L444.60,529.70 L478.50,530.80" fill="none" stroke="#3a5298" stroke-width="1.3" stroke-linejoin="round"/>
<circle cx="437.50" cy="530.50" r="0.95" fill="#3a5298"/>
<circle cx="444.60" cy="529.70" r="0.95" fill="#3a5298"/>
<circle cx="478.50" cy="530.80" r="0.95" fill="#3a5298"/>
<path d="M437.50,529.70 L441.50,528.90 L444.60,529.70 L455.70,530.50 L478.50,531.30" fill="none" stroke="#3e2468" stroke-width="1.3" stroke-linejoin="round"/>
<circle cx="437.50" cy="529.70" r="0.95" fill="#3e2468"/>
<circle cx="441.50" cy="528.90" r="0.95" fill="#3e2468"/>
<circle cx="444.60" cy="529.70" r="0.95" fill="#3e2468"/>
<circle cx="455.70" cy="530.50" r="0.95" fill="#3e2468"/>
<circle cx="478.50" cy="531.30" r="0.95" fill="#3e2468"/>
<path d="M437.50,533.70 L441.50,528.90 L444.60,528.60 L455.70,530.20 L478.50,530.50" fill="none" stroke="#76b654" stroke-width="1.3" stroke-linejoin="round"/>
<circle cx="437.50" cy="533.70" r="0.95" fill="#76b654"/>
<circle cx="441.50" cy="528.90" r="0.95" fill="#76b654"/>
<circle cx="444.60" cy="528.60" r="0.95" fill="#76b654"/>
<circle cx="455.70" cy="530.20" r="0.95" fill="#76b654"/>
<circle cx="478.50" cy="530.50" r="0.95" fill="#76b654"/>
<path d="M437.50,545.50 L441.50,533.70 L444.60,532.10 L454.10,533.70 L460.40,534.40 L473.00,534.40 L478.50,534.00" fill="none" stroke="#ac1842" stroke-width="1.3" stroke-linejoin="round"/>
<circle cx="437.50" cy="545.50" r="0.95" fill="#ac1842"/>
<circle cx="441.50" cy="533.70" r="0.95" fill="#ac1842"/>
<circle cx="444.60" cy="532.10" r="0.95" fill="#ac1842"/>
<circle cx="454.10" cy="533.70" r="0.95" fill="#ac1842"/>
<circle cx="460.40" cy="534.40" r="0.95" fill="#ac1842"/>
<circle cx="473.00" cy="534.40" r="0.95" fill="#ac1842"/>
<circle cx="478.50" cy="534.00" r="0.95" fill="#ac1842"/>
<line x1="485.00" y1="298.80" x2="495.00" y2="298.80" stroke="#8e1838" stroke-width="1.2"/>
<circle cx="490.00" cy="298.80" r="1.1" fill="#8e1838"/>
<text x="497.40" y="300.70" font-size="5.4" fill="#1a1a1a" stroke="#1a1a1a" stroke-width="0.1">T</text>
<line x1="485.00" y1="307.70" x2="495.00" y2="307.70" stroke="#6a9e50" stroke-width="1.2"/>
<circle cx="490.00" cy="307.70" r="1.1" fill="#6a9e50"/>
<text x="497.40" y="309.60" font-size="5.4" fill="#1a1a1a" stroke="#1a1a1a" stroke-width="0.1">B</text>
<line x1="485.00" y1="316.40" x2="495.00" y2="316.40" stroke="#3c1c5a" stroke-width="1.2"/>
<circle cx="490.00" cy="316.40" r="1.1" fill="#3c1c5a"/>
<text x="497.40" y="318.30" font-size="5.4" fill="#1a1a1a" stroke="#1a1a1a" stroke-width="0.1">Gr</text>
<line x1="485.00" y1="325.20" x2="495.00" y2="325.20" stroke="#2e3e66" stroke-width="1.2"/>
<circle cx="490.00" cy="325.20" r="1.1" fill="#2e3e66"/>
<text x="497.40" y="327.10" font-size="5.4" fill="#1a1a1a" stroke="#1a1a1a" stroke-width="0.1">Mo</text>
<line x1="485.00" y1="370.40" x2="495.00" y2="370.40" stroke="#8e1838" stroke-width="1.2"/>
<circle cx="490.00" cy="370.40" r="1.1" fill="#8e1838"/>
<text x="497.40" y="372.30" font-size="5.4" fill="#1a1a1a" stroke="#1a1a1a" stroke-width="0.1">T</text>
<line x1="485.00" y1="379.10" x2="495.00" y2="379.10" stroke="#6a9e50" stroke-width="1.2"/>
<circle cx="490.00" cy="379.10" r="1.1" fill="#6a9e50"/>
<text x="497.40" y="381.00" font-size="5.4" fill="#1a1a1a" stroke="#1a1a1a" stroke-width="0.1">B</text>
<line x1="485.00" y1="387.80" x2="495.00" y2="387.80" stroke="#3c1c5a" stroke-width="1.2"/>
<circle cx="490.00" cy="387.80" r="1.1" fill="#3c1c5a"/>
<text x="497.40" y="389.70" font-size="5.4" fill="#1a1a1a" stroke="#1a1a1a" stroke-width="0.1">Gr</text>
<line x1="485.00" y1="396.50" x2="495.00" y2="396.50" stroke="#2e3e66" stroke-width="1.2"/>
<circle cx="490.00" cy="396.50" r="1.1" fill="#2e3e66"/>
<text x="497.40" y="398.40" font-size="5.4" fill="#1a1a1a" stroke="#1a1a1a" stroke-width="0.1">Mo</text>
<line x1="485.00" y1="405.10" x2="495.00" y2="405.10" stroke="#111111" stroke-width="1.2"/>
<circle cx="490.00" cy="405.10" r="1.1" fill="#111111"/>
<text x="497.40" y="407.00" font-size="5.4" fill="#1a1a1a" stroke="#1a1a1a" stroke-width="0.1">Total</text>
<line x1="485.00" y1="444.40" x2="495.00" y2="444.40" stroke="#8e1838" stroke-width="1.2"/>
<circle cx="490.00" cy="444.40" r="1.1" fill="#8e1838"/>
<text x="497.40" y="446.30" font-size="5.4" fill="#1a1a1a" stroke="#1a1a1a" stroke-width="0.1">T</text>
<line x1="485.00" y1="452.90" x2="495.00" y2="452.90" stroke="#6a9e50" stroke-width="1.2"/>
<circle cx="490.00" cy="452.90" r="1.1" fill="#6a9e50"/>
<text x="497.40" y="454.80" font-size="5.4" fill="#1a1a1a" stroke="#1a1a1a" stroke-width="0.1">B</text>
<line x1="485.00" y1="461.70" x2="495.00" y2="461.70" stroke="#3c1c5a" stroke-width="1.2"/>
<circle cx="490.00" cy="461.70" r="1.1" fill="#3c1c5a"/>
<text x="497.40" y="463.60" font-size="5.4" fill="#1a1a1a" stroke="#1a1a1a" stroke-width="0.1">Gr</text>
<line x1="485.00" y1="470.40" x2="495.00" y2="470.40" stroke="#2e3e66" stroke-width="1.2"/>
<circle cx="490.00" cy="470.40" r="1.1" fill="#2e3e66"/>
<text x="497.40" y="472.30" font-size="5.4" fill="#1a1a1a" stroke="#1a1a1a" stroke-width="0.1">Mo</text>
<line x1="485.00" y1="479.10" x2="495.00" y2="479.10" stroke="#111111" stroke-width="1.2"/>
<circle cx="490.00" cy="479.10" r="1.1" fill="#111111"/>
<text x="497.40" y="481.00" font-size="5.4" fill="#1a1a1a" stroke="#1a1a1a" stroke-width="0.1">Total</text>
<line x1="485.00" y1="523.40" x2="495.00" y2="523.40" stroke="#8e1838" stroke-width="1.2"/>
<circle cx="490.00" cy="523.40" r="1.1" fill="#8e1838"/>
<text x="497.40" y="525.30" font-size="5.4" fill="#1a1a1a" stroke="#1a1a1a" stroke-width="0.1">T</text>
<line x1="485.00" y1="532.20" x2="495.00" y2="532.20" stroke="#6a9e50" stroke-width="1.2"/>
<circle cx="490.00" cy="532.20" r="1.1" fill="#6a9e50"/>
<text x="497.40" y="534.10" font-size="5.4" fill="#1a1a1a" stroke="#1a1a1a" stroke-width="0.1">B</text>
<line x1="485.00" y1="541.10" x2="495.00" y2="541.10" stroke="#3c1c5a" stroke-width="1.2"/>
<circle cx="490.00" cy="541.10" r="1.1" fill="#3c1c5a"/>
<text x="497.40" y="543.00" font-size="5.4" fill="#1a1a1a" stroke="#1a1a1a" stroke-width="0.1">Gr</text>
<line x1="485.00" y1="549.60" x2="495.00" y2="549.60" stroke="#2e3e66" stroke-width="1.2"/>
<circle cx="490.00" cy="549.60" r="1.1" fill="#2e3e66"/>
<text x="497.40" y="551.50" font-size="5.4" fill="#1a1a1a" stroke="#1a1a1a" stroke-width="0.1">Mo</text>
<rect x="0" y="0" width="520" height="1" fill="#000"/>
<rect x="0" y="0" width="1.4" height="589" fill="#000"/>
<rect x="518" y="0" width="2" height="589" fill="#000"/>
<rect x="0" y="587" width="520" height="2" fill="#000"/>
</svg>
</body></html>
